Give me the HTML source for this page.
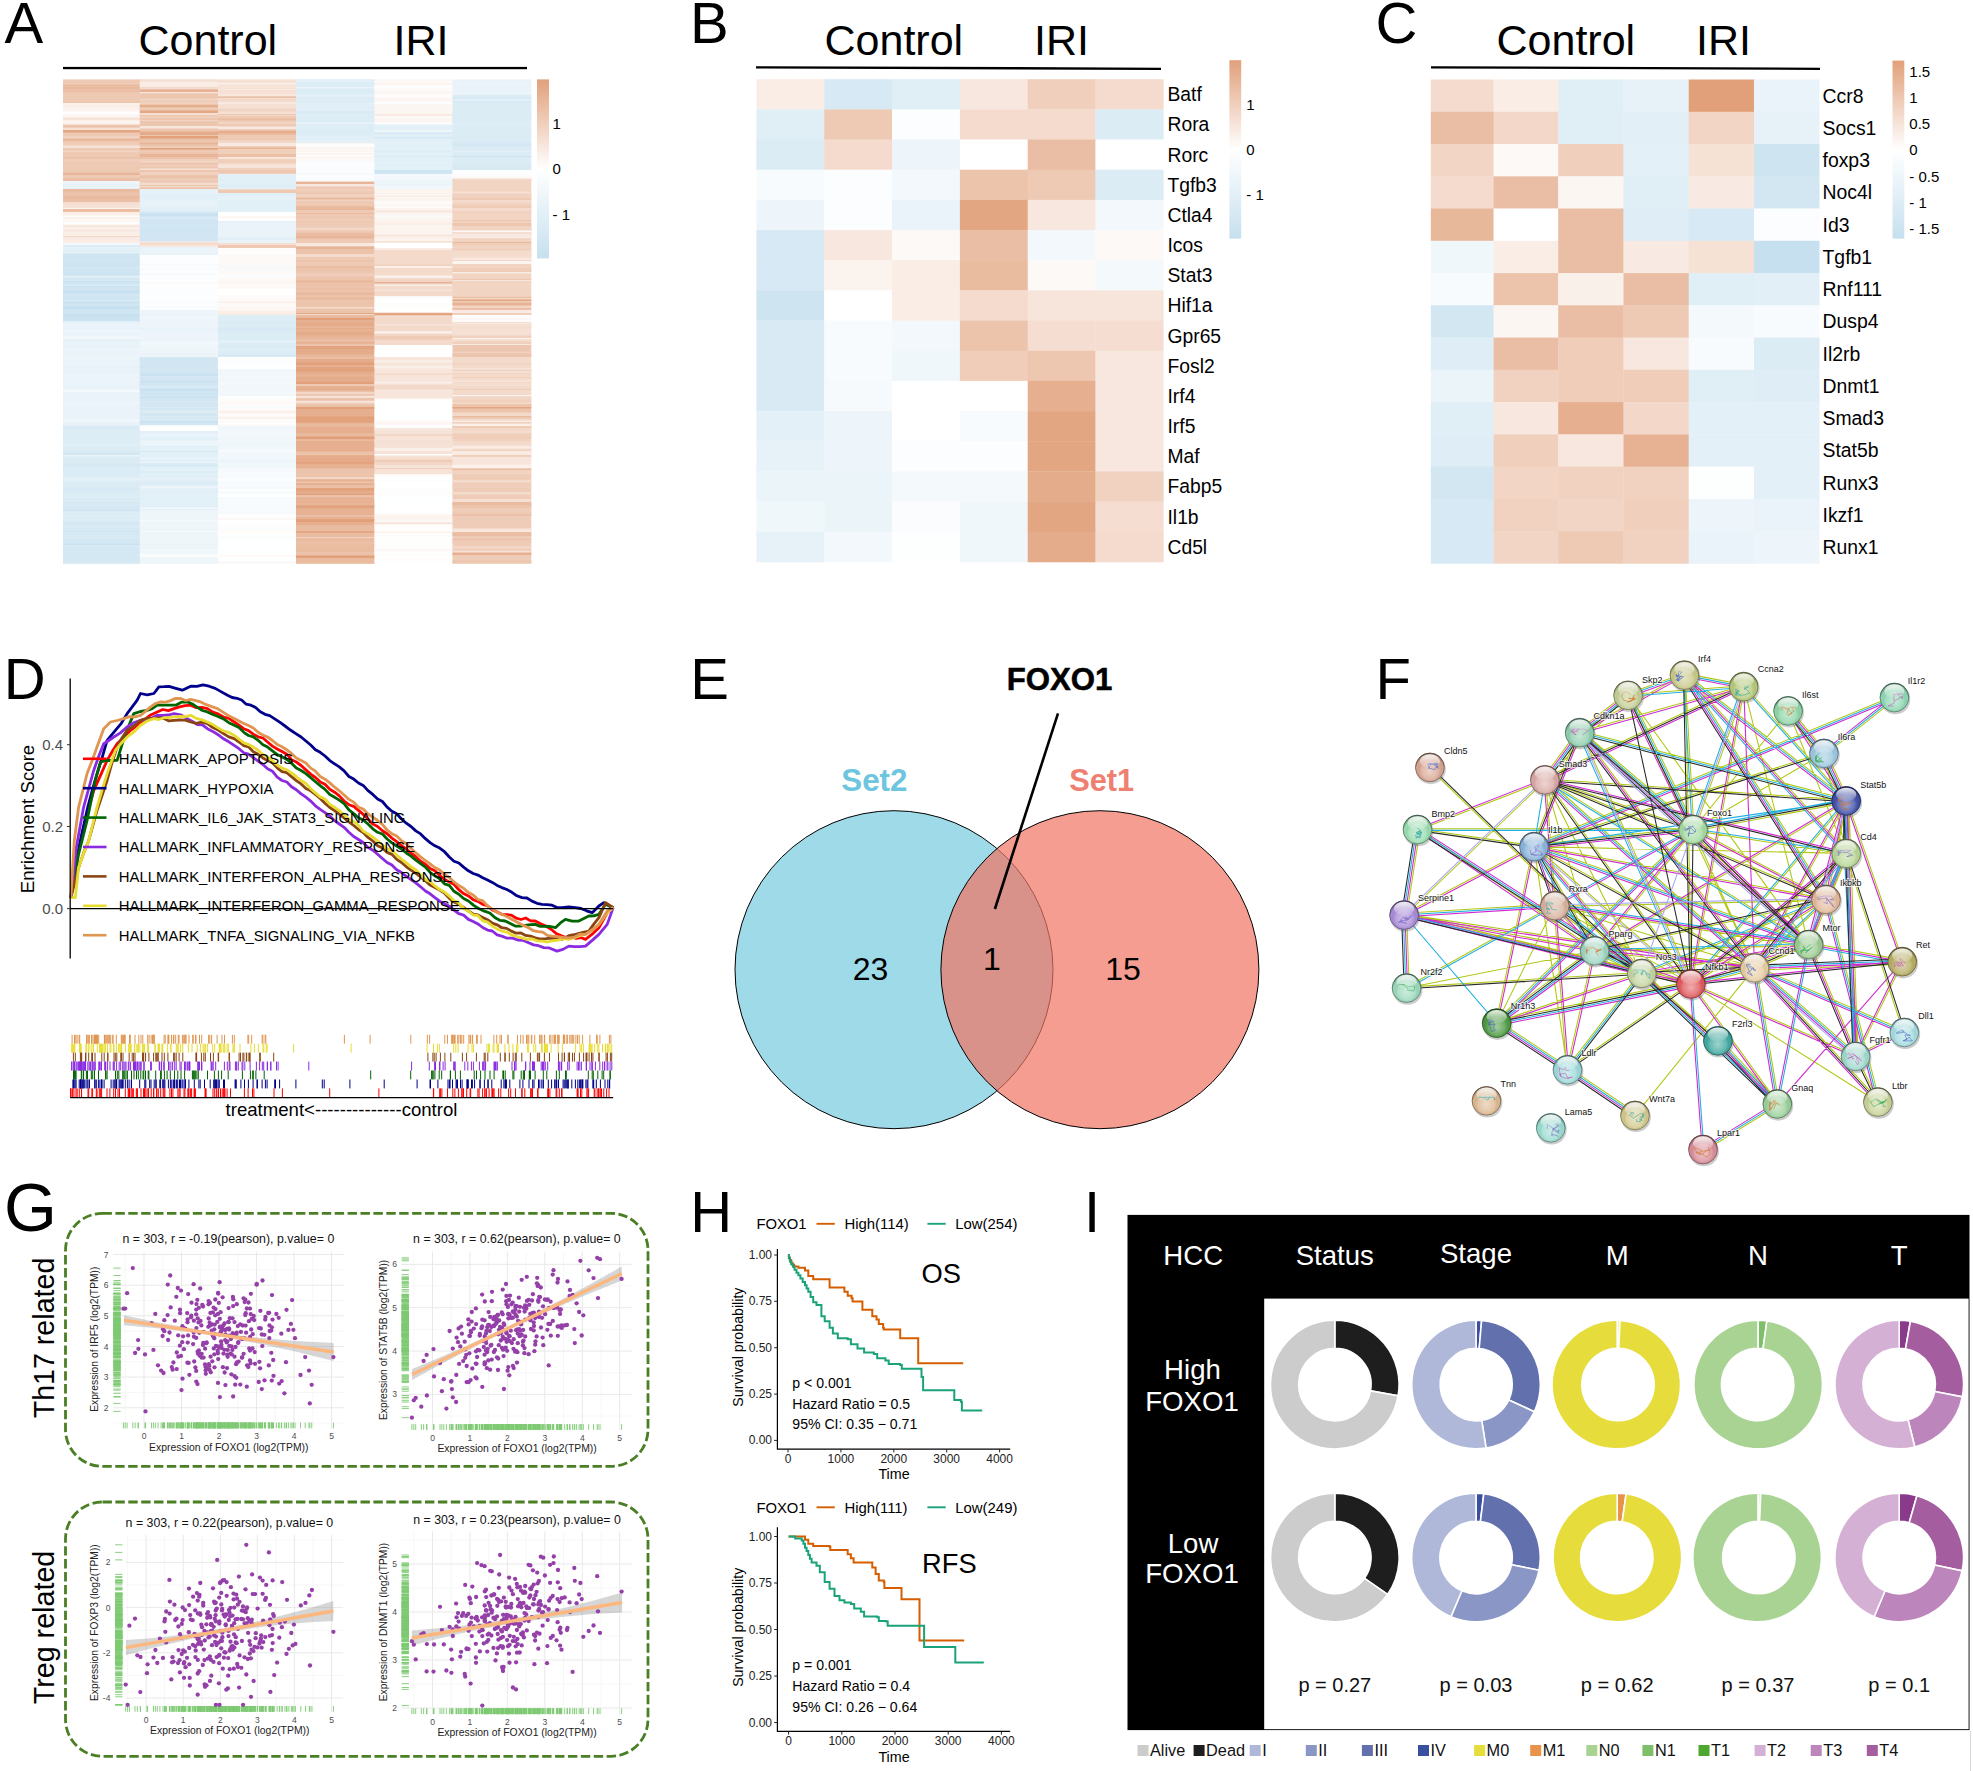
<!DOCTYPE html>
<html><head><meta charset="utf-8"><title>Figure</title>
<style>
html,body{margin:0;padding:0;background:#fff;}
body{width:1973px;height:1771px;overflow:hidden;}
svg{display:block;font-family:"Liberation Sans",Arial,sans-serif;}
</style></head><body>
<svg width="1973" height="1771" viewBox="0 0 1973 1771">
<defs>
<linearGradient id="cb" x1="0" y1="0" x2="0" y2="1"><stop offset="0" stop-color="#e1a07a"/><stop offset="0.5" stop-color="#fff"/><stop offset="1" stop-color="#c6e0ef"/></linearGradient>
<radialGradient id="gloss" cx="0.5" cy="0.62" r="0.6"><stop offset="0" stop-color="#fff" stop-opacity="0.5"/><stop offset="0.5" stop-color="#fff" stop-opacity="0.18"/><stop offset="0.78" stop-color="#000" stop-opacity="0"/><stop offset="1" stop-color="#000" stop-opacity="0.44"/></radialGradient>
<linearGradient id="hl" x1="0" y1="0" x2="0" y2="1"><stop offset="0" stop-color="#fff" stop-opacity="0.9"/><stop offset="1" stop-color="#fff" stop-opacity="0.08"/></linearGradient>
</defs>
<g id="letters">
<text x="4.4" y="43.3" font-size="58">A</text>
<text x="690.1" y="43.2" font-size="58">B</text>
<text x="1375.4" y="43.1" font-size="58">C</text>
<text x="3.7" y="699" font-size="58">D</text>
<text x="690.3" y="699" font-size="58">E</text>
<text x="1375.5" y="699" font-size="58">F</text>
<text x="3.9" y="1230.7" font-size="68">G</text>
<text x="690.2" y="1232.2" font-size="58">H</text>
<text x="1084.1" y="1232" font-size="58">I</text>
</g>
<g id="panelA">
<text x="138.5" y="55" font-size="43">Control</text>
<text x="393.5" y="55" font-size="43">IRI</text>
<rect x="63" y="66.9" width="464" height="2.3" fill="#000"/>
<g transform="translate(63 0)">
<rect y="79.4" width="77.1" height="23.9" fill="#eec9b3"/>
<rect y="84.9" width="77.1" height="1" fill="#e8b597"/>
<rect y="85.9" width="77.1" height="1" fill="#ebc1a8"/>
<rect y="86.9" width="77.1" height="2.5" fill="#e9b99d"/>
<rect y="89.4" width="77.1" height="3" fill="#ebbfa5"/>
<rect y="101.9" width="77.1" height="1.1" fill="#ecc3ab"/>
<rect y="103" width="77.1" height="21.8" fill="#faf1eb"/>
<rect y="105" width="77.1" height="1.5" fill="#f9ede5"/>
<rect y="109.5" width="77.1" height="2" fill="#fcf4f0"/>
<rect y="111.5" width="77.1" height="3" fill="#fffefe"/>
<rect y="114.5" width="77.1" height="3" fill="#fcf6f3"/>
<rect y="117.5" width="77.1" height="2.5" fill="#f6e4d9"/>
<rect y="121.5" width="77.1" height="1.5" fill="#fcf5f1"/>
<rect y="124.5" width="77.1" height="56.8" fill="#eec9b3"/>
<rect y="126.5" width="77.1" height="1" fill="#e8b597"/>
<rect y="127.5" width="77.1" height="2.5" fill="#f5e0d3"/>
<rect y="130" width="77.1" height="2.5" fill="#e3a682"/>
<rect y="136.5" width="77.1" height="2" fill="#f2d5c5"/>
<rect y="138.5" width="77.1" height="2.5" fill="#e9b89b"/>
<rect y="144.5" width="77.1" height="1" fill="#f0d1be"/>
<rect y="145.5" width="77.1" height="2.5" fill="#f6e2d6"/>
<rect y="150.5" width="77.1" height="2" fill="#f1d3c2"/>
<rect y="152.5" width="77.1" height="1" fill="#edc6b0"/>
<rect y="156.5" width="77.1" height="2.5" fill="#ecc4ac"/>
<rect y="159" width="77.1" height="2.5" fill="#f0cebb"/>
<rect y="172.5" width="77.1" height="1.5" fill="#e9b99e"/>
<rect y="174" width="77.1" height="1" fill="#e7b395"/>
<rect y="175" width="77.1" height="3" fill="#efcbb6"/>
<rect y="178" width="77.1" height="3" fill="#ebbfa5"/>
<rect y="181" width="77.1" height="8.3" fill="#e6f1f8"/>
<rect y="181" width="77.1" height="3" fill="#eef5fa"/>
<rect y="187" width="77.1" height="1" fill="#eef6fa"/>
<rect y="188" width="77.1" height="1" fill="#e4f0f7"/>
<rect y="189" width="77.1" height="23.3" fill="#ebc0a7"/>
<rect y="189" width="77.1" height="2.5" fill="#eabba0"/>
<rect y="192.5" width="77.1" height="2.5" fill="#ecc3ac"/>
<rect y="196" width="77.1" height="3" fill="#eabba0"/>
<rect y="202" width="77.1" height="3" fill="#f5ded1"/>
<rect y="205" width="77.1" height="3" fill="#f6e2d6"/>
<rect y="208" width="77.1" height="1" fill="#fbf2ed"/>
<rect y="209" width="77.1" height="2.5" fill="#eabda2"/>
<rect y="212" width="77.1" height="31.3" fill="#faeee7"/>
<rect y="212" width="77.1" height="1" fill="#faeee7"/>
<rect y="215.5" width="77.1" height="1.5" fill="#fefeff"/>
<rect y="218.5" width="77.1" height="3" fill="#fdf7f4"/>
<rect y="221.5" width="77.1" height="3" fill="#fbfdfe"/>
<rect y="225.5" width="77.1" height="2" fill="#f7e5db"/>
<rect y="227.5" width="77.1" height="1.5" fill="#fbf4ef"/>
<rect y="229" width="77.1" height="3" fill="#f8eae2"/>
<rect y="236" width="77.1" height="1.5" fill="#f3d9ca"/>
<rect y="237.5" width="77.1" height="2.5" fill="#f9ebe3"/>
<rect y="240" width="77.1" height="2" fill="#f9ede6"/>
<rect y="243" width="77.1" height="10.8" fill="#e2f0f7"/>
<rect y="243" width="77.1" height="2" fill="#f2f8fb"/>
<rect y="245" width="77.1" height="2" fill="#dcecf5"/>
<rect y="247" width="77.1" height="1" fill="#e4f0f7"/>
<rect y="253.5" width="77.1" height="67.8" fill="#cfe5f2"/>
<rect y="260" width="77.1" height="1.5" fill="#d3e7f3"/>
<rect y="261.5" width="77.1" height="1.5" fill="#cde4f1"/>
<rect y="263" width="77.1" height="2.5" fill="#cde4f1"/>
<rect y="268" width="77.1" height="1" fill="#d7e9f4"/>
<rect y="273.5" width="77.1" height="2" fill="#c9e2f0"/>
<rect y="275.5" width="77.1" height="3" fill="#deedf6"/>
<rect y="278.5" width="77.1" height="1" fill="#d0e6f2"/>
<rect y="279.5" width="77.1" height="1.5" fill="#d6e9f4"/>
<rect y="281" width="77.1" height="1.5" fill="#c7e1ef"/>
<rect y="282.5" width="77.1" height="1.5" fill="#cfe5f2"/>
<rect y="284" width="77.1" height="2" fill="#d6e9f4"/>
<rect y="286" width="77.1" height="1.5" fill="#cee4f1"/>
<rect y="290.5" width="77.1" height="3" fill="#c6e0ef"/>
<rect y="293.5" width="77.1" height="3" fill="#d3e7f3"/>
<rect y="299" width="77.1" height="3" fill="#d4e8f3"/>
<rect y="302" width="77.1" height="1.5" fill="#c6e0ef"/>
<rect y="303.5" width="77.1" height="3" fill="#d0e6f2"/>
<rect y="306.5" width="77.1" height="3" fill="#c6e0ef"/>
<rect y="309.5" width="77.1" height="3" fill="#d0e5f2"/>
<rect y="312.5" width="77.1" height="1.5" fill="#d0e5f2"/>
<rect y="314" width="77.1" height="3" fill="#c8e1f0"/>
<rect y="317" width="77.1" height="1" fill="#cae2f0"/>
<rect y="318" width="77.1" height="3" fill="#cbe2f0"/>
<rect y="321" width="77.1" height="104.3" fill="#eaf3f9"/>
<rect y="321" width="77.1" height="2" fill="#e4f0f7"/>
<rect y="328" width="77.1" height="1.5" fill="#e8f3f9"/>
<rect y="329.5" width="77.1" height="2.5" fill="#edf5fa"/>
<rect y="332" width="77.1" height="1" fill="#ebf4f9"/>
<rect y="336.5" width="77.1" height="2" fill="#f3f9fc"/>
<rect y="340" width="77.1" height="1" fill="#e1eff7"/>
<rect y="341" width="77.1" height="2.5" fill="#e8f2f9"/>
<rect y="346" width="77.1" height="2.5" fill="#e7f2f8"/>
<rect y="348.5" width="77.1" height="1.5" fill="#eef6fa"/>
<rect y="354.5" width="77.1" height="2.5" fill="#ecf5fa"/>
<rect y="357" width="77.1" height="3" fill="#ecf5fa"/>
<rect y="361.5" width="77.1" height="1" fill="#e9f3f9"/>
<rect y="362.5" width="77.1" height="2" fill="#eaf4f9"/>
<rect y="366" width="77.1" height="2" fill="#e6f1f8"/>
<rect y="371" width="77.1" height="3" fill="#e8f2f8"/>
<rect y="374" width="77.1" height="1.5" fill="#edf5fa"/>
<rect y="375.5" width="77.1" height="1" fill="#ecf5fa"/>
<rect y="376.5" width="77.1" height="2" fill="#eaf3f9"/>
<rect y="378.5" width="77.1" height="1.5" fill="#edf5fa"/>
<rect y="386.5" width="77.1" height="1" fill="#e5f1f8"/>
<rect y="389" width="77.1" height="1.5" fill="#eef6fa"/>
<rect y="390.5" width="77.1" height="2" fill="#f4f9fc"/>
<rect y="392.5" width="77.1" height="1.5" fill="#e7f2f8"/>
<rect y="396" width="77.1" height="2" fill="#eaf3f9"/>
<rect y="402" width="77.1" height="3" fill="#ecf5fa"/>
<rect y="415" width="77.1" height="1.5" fill="#e9f3f9"/>
<rect y="416.5" width="77.1" height="1.5" fill="#e9f3f9"/>
<rect y="418" width="77.1" height="1.5" fill="#ebf4f9"/>
<rect y="419.5" width="77.1" height="2" fill="#f1f7fb"/>
<rect y="425" width="77.1" height="95.3" fill="#dbecf5"/>
<rect y="425" width="77.1" height="2" fill="#deedf6"/>
<rect y="427" width="77.1" height="1.5" fill="#d7e9f4"/>
<rect y="430.5" width="77.1" height="3" fill="#ddecf5"/>
<rect y="434.5" width="77.1" height="2" fill="#ddedf6"/>
<rect y="436.5" width="77.1" height="1" fill="#e0eef6"/>
<rect y="440.5" width="77.1" height="1.5" fill="#e0eef6"/>
<rect y="442" width="77.1" height="1" fill="#dcecf5"/>
<rect y="443" width="77.1" height="3" fill="#e0eef6"/>
<rect y="446" width="77.1" height="1.5" fill="#dcecf5"/>
<rect y="452" width="77.1" height="3" fill="#d4e7f3"/>
<rect y="455" width="77.1" height="1.5" fill="#eaf4f9"/>
<rect y="463.5" width="77.1" height="3" fill="#d5e8f3"/>
<rect y="470.5" width="77.1" height="1.5" fill="#daebf5"/>
<rect y="472" width="77.1" height="1" fill="#daebf5"/>
<rect y="476.5" width="77.1" height="1.5" fill="#ddedf6"/>
<rect y="478" width="77.1" height="1" fill="#e7f2f8"/>
<rect y="479" width="77.1" height="3" fill="#e1eff7"/>
<rect y="482" width="77.1" height="3" fill="#dbebf5"/>
<rect y="487.5" width="77.1" height="1.5" fill="#d7e9f4"/>
<rect y="489" width="77.1" height="2.5" fill="#d7e9f4"/>
<rect y="496.5" width="77.1" height="1.5" fill="#e0eef6"/>
<rect y="498" width="77.1" height="1.5" fill="#d6e9f4"/>
<rect y="502.5" width="77.1" height="1" fill="#d4e8f3"/>
<rect y="503.5" width="77.1" height="2.5" fill="#d7e9f4"/>
<rect y="506" width="77.1" height="2.5" fill="#d4e7f3"/>
<rect y="508.5" width="77.1" height="3" fill="#d2e6f2"/>
<rect y="511.5" width="77.1" height="3" fill="#ddedf6"/>
<rect y="515.5" width="77.1" height="1" fill="#e1eff7"/>
<rect y="519" width="77.1" height="1" fill="#dfedf6"/>
<rect y="520" width="77.1" height="43.8" fill="#d4e8f3"/>
<rect y="520" width="77.1" height="1.5" fill="#dcecf5"/>
<rect y="525" width="77.1" height="3" fill="#d9ebf4"/>
<rect y="529" width="77.1" height="1.5" fill="#d8eaf4"/>
<rect y="530.5" width="77.1" height="1.5" fill="#d0e6f2"/>
<rect y="534.5" width="77.1" height="2.5" fill="#d8eaf4"/>
<rect y="537" width="77.1" height="2" fill="#d8eaf4"/>
<rect y="539" width="77.1" height="2" fill="#d4e8f3"/>
<rect y="543.5" width="77.1" height="2" fill="#c9e2f0"/>
<rect y="545.5" width="77.1" height="1" fill="#dcecf5"/>
<rect y="550.5" width="77.1" height="2" fill="#d4e8f3"/>
<rect y="554.5" width="77.1" height="1.5" fill="#d4e7f3"/>
<rect y="562.5" width="77.1" height="1" fill="#dbebf5"/>
</g>
<g transform="translate(139.8 0)">
<rect y="79.4" width="78.5" height="10.4" fill="#f5e0d3"/>
<rect y="79.4" width="78.5" height="1" fill="#f6e1d6"/>
<rect y="81.9" width="78.5" height="2" fill="#faefe9"/>
<rect y="83.9" width="78.5" height="3" fill="#f9ede5"/>
<rect y="86.9" width="78.5" height="2" fill="#f4ddd0"/>
<rect y="88.9" width="78.5" height="0.6" fill="#f5ded1"/>
<rect y="89.5" width="78.5" height="99.8" fill="#edc6af"/>
<rect y="89.5" width="78.5" height="2.5" fill="#e6b192"/>
<rect y="92" width="78.5" height="1.5" fill="#f7e7dd"/>
<rect y="93.5" width="78.5" height="3" fill="#edc6af"/>
<rect y="98.5" width="78.5" height="2.5" fill="#f1d3c1"/>
<rect y="101" width="78.5" height="1.5" fill="#eecab5"/>
<rect y="102.5" width="78.5" height="1" fill="#f4dcce"/>
<rect y="105" width="78.5" height="2.5" fill="#e5ae8d"/>
<rect y="107.5" width="78.5" height="3" fill="#eecab5"/>
<rect y="110.5" width="78.5" height="2.5" fill="#e4a885"/>
<rect y="113" width="78.5" height="2" fill="#f5dfd3"/>
<rect y="115" width="78.5" height="1.5" fill="#edc7b0"/>
<rect y="116.5" width="78.5" height="1.5" fill="#f1d2c0"/>
<rect y="120" width="78.5" height="1" fill="#f2d5c5"/>
<rect y="126" width="78.5" height="2.5" fill="#f7e6dc"/>
<rect y="131.5" width="78.5" height="2.5" fill="#e5ac8b"/>
<rect y="134" width="78.5" height="1" fill="#e4aa88"/>
<rect y="136" width="78.5" height="2.5" fill="#e1a07a"/>
<rect y="138.5" width="78.5" height="1" fill="#e8b598"/>
<rect y="142.5" width="78.5" height="2" fill="#e8b598"/>
<rect y="147" width="78.5" height="1" fill="#f1d3c2"/>
<rect y="148" width="78.5" height="1.5" fill="#e1a07a"/>
<rect y="151" width="78.5" height="1" fill="#efccb8"/>
<rect y="154" width="78.5" height="1.5" fill="#e7b395"/>
<rect y="155.5" width="78.5" height="1.5" fill="#e7b496"/>
<rect y="157" width="78.5" height="2" fill="#ecc3aa"/>
<rect y="159" width="78.5" height="1.5" fill="#f0cfbb"/>
<rect y="160.5" width="78.5" height="2" fill="#f2d7c7"/>
<rect y="165" width="78.5" height="1.5" fill="#f0d0bd"/>
<rect y="168.5" width="78.5" height="1.5" fill="#f6e1d5"/>
<rect y="172" width="78.5" height="3" fill="#f1d2c0"/>
<rect y="175" width="78.5" height="1.5" fill="#edc6af"/>
<rect y="176.5" width="78.5" height="1.5" fill="#ebbfa6"/>
<rect y="178" width="78.5" height="3" fill="#efccb7"/>
<rect y="182.5" width="78.5" height="2.5" fill="#f4dcce"/>
<rect y="186.5" width="78.5" height="1" fill="#f9ece4"/>
<rect y="187.5" width="78.5" height="1.5" fill="#ebc0a7"/>
<rect y="189" width="78.5" height="23.3" fill="#e6f1f8"/>
<rect y="189" width="78.5" height="2.5" fill="#e7f2f8"/>
<rect y="194.5" width="78.5" height="2" fill="#e2eff7"/>
<rect y="196.5" width="78.5" height="2.5" fill="#e1eff7"/>
<rect y="201.5" width="78.5" height="2" fill="#e8f2f8"/>
<rect y="203.5" width="78.5" height="1" fill="#e7f2f8"/>
<rect y="205.5" width="78.5" height="1.5" fill="#e7f2f8"/>
<rect y="207" width="78.5" height="2.5" fill="#e2eff7"/>
<rect y="209.5" width="78.5" height="2.5" fill="#e0eef6"/>
<rect y="212" width="78.5" height="29.8" fill="#d1e6f2"/>
<rect y="212" width="78.5" height="2" fill="#cfe5f2"/>
<rect y="214" width="78.5" height="2.5" fill="#c8e1f0"/>
<rect y="216.5" width="78.5" height="2.5" fill="#d6e9f4"/>
<rect y="219" width="78.5" height="1" fill="#d1e6f2"/>
<rect y="221.5" width="78.5" height="3" fill="#cfe5f1"/>
<rect y="224.5" width="78.5" height="2" fill="#d2e7f2"/>
<rect y="228.5" width="78.5" height="2" fill="#d0e6f2"/>
<rect y="233.5" width="78.5" height="1" fill="#d1e6f2"/>
<rect y="241.5" width="78.5" height="5.8" fill="#f7e5db"/>
<rect y="243" width="78.5" height="1.5" fill="#f2d6c6"/>
<rect y="247" width="78.5" height="8.3" fill="#eaf3f9"/>
<rect y="250.5" width="78.5" height="2.5" fill="#eaf4f9"/>
<rect y="253" width="78.5" height="1.5" fill="#e8f2f8"/>
<rect y="255" width="78.5" height="55.3" fill="#fbfdfe"/>
<rect y="255" width="78.5" height="1.5" fill="#fcfdfe"/>
<rect y="256.5" width="78.5" height="3" fill="#fcfdfe"/>
<rect y="264" width="78.5" height="1.5" fill="#f6fafd"/>
<rect y="265.5" width="78.5" height="2.5" fill="#fbfdfe"/>
<rect y="268" width="78.5" height="1.5" fill="#f8fbfd"/>
<rect y="273.5" width="78.5" height="2" fill="#f8fbfd"/>
<rect y="275.5" width="78.5" height="3" fill="#fbfdfe"/>
<rect y="278.5" width="78.5" height="2.5" fill="#fefeff"/>
<rect y="281" width="78.5" height="1.5" fill="#fafcfe"/>
<rect y="282.5" width="78.5" height="1.5" fill="#fdfaf7"/>
<rect y="284" width="78.5" height="2.5" fill="#fcfdfe"/>
<rect y="287.5" width="78.5" height="1" fill="#fffefe"/>
<rect y="292.5" width="78.5" height="2" fill="#fbfdfe"/>
<rect y="296" width="78.5" height="3" fill="#fdfefe"/>
<rect y="299" width="78.5" height="1" fill="#fefeff"/>
<rect y="302" width="78.5" height="1" fill="#f9fcfd"/>
<rect y="306" width="78.5" height="2" fill="#fafcfe"/>
<rect y="310" width="78.5" height="47.3" fill="#edf5fa"/>
<rect y="312.5" width="78.5" height="2" fill="#eff6fb"/>
<rect y="314.5" width="78.5" height="2" fill="#ecf5fa"/>
<rect y="316.5" width="78.5" height="2.5" fill="#f0f7fb"/>
<rect y="319" width="78.5" height="1" fill="#eff6fb"/>
<rect y="327.5" width="78.5" height="2" fill="#e7f2f8"/>
<rect y="329.5" width="78.5" height="1" fill="#e9f3f9"/>
<rect y="330.5" width="78.5" height="2.5" fill="#ebf4fa"/>
<rect y="341.5" width="78.5" height="2.5" fill="#f2f8fb"/>
<rect y="344" width="78.5" height="2" fill="#f0f7fb"/>
<rect y="346" width="78.5" height="1.5" fill="#f0f7fb"/>
<rect y="347.5" width="78.5" height="2.5" fill="#eef6fa"/>
<rect y="353" width="78.5" height="3" fill="#ecf4fa"/>
<rect y="357" width="78.5" height="68.9" fill="#d2e7f2"/>
<rect y="357" width="78.5" height="1" fill="#d5e8f3"/>
<rect y="358" width="78.5" height="1.5" fill="#d3e7f3"/>
<rect y="359.5" width="78.5" height="2.5" fill="#d1e6f2"/>
<rect y="365" width="78.5" height="2.5" fill="#d0e6f2"/>
<rect y="373.5" width="78.5" height="2.5" fill="#cae2f0"/>
<rect y="376" width="78.5" height="1.5" fill="#d6e8f3"/>
<rect y="377.5" width="78.5" height="2" fill="#d1e6f2"/>
<rect y="381" width="78.5" height="1.5" fill="#cae2f0"/>
<rect y="383.5" width="78.5" height="2" fill="#cfe5f1"/>
<rect y="385.5" width="78.5" height="3" fill="#d8eaf4"/>
<rect y="388.5" width="78.5" height="2.5" fill="#cae2f0"/>
<rect y="391" width="78.5" height="1.5" fill="#cfe5f2"/>
<rect y="392.5" width="78.5" height="2.5" fill="#cde4f1"/>
<rect y="396" width="78.5" height="2.5" fill="#cbe3f0"/>
<rect y="401" width="78.5" height="2.5" fill="#d5e8f3"/>
<rect y="403.5" width="78.5" height="1" fill="#d0e6f2"/>
<rect y="404.5" width="78.5" height="2.5" fill="#d4e7f3"/>
<rect y="407" width="78.5" height="1" fill="#dbecf5"/>
<rect y="410" width="78.5" height="3" fill="#dcecf5"/>
<rect y="416" width="78.5" height="1.5" fill="#daebf5"/>
<rect y="417.5" width="78.5" height="1" fill="#d6e9f3"/>
<rect y="418.5" width="78.5" height="2.5" fill="#d6e9f4"/>
<rect y="421" width="78.5" height="1.5" fill="#c9e2f0"/>
<rect y="424.5" width="78.5" height="1.1" fill="#d6e9f4"/>
<rect y="425.6" width="78.5" height="5.7" fill="#ffffff"/>
<rect y="425.6" width="78.5" height="2.5" fill="#fefeff"/>
<rect y="431" width="78.5" height="76.8" fill="#e2f0f7"/>
<rect y="431" width="78.5" height="2.5" fill="#e2eff7"/>
<rect y="433.5" width="78.5" height="2" fill="#e9f3f9"/>
<rect y="435.5" width="78.5" height="1.5" fill="#eaf3f9"/>
<rect y="440.5" width="78.5" height="2" fill="#eef6fa"/>
<rect y="442.5" width="78.5" height="3" fill="#ecf5fa"/>
<rect y="451" width="78.5" height="1" fill="#d7e9f4"/>
<rect y="457.5" width="78.5" height="2" fill="#eaf4f9"/>
<rect y="459.5" width="78.5" height="2" fill="#e2eff7"/>
<rect y="461.5" width="78.5" height="1" fill="#e7f2f8"/>
<rect y="462.5" width="78.5" height="1" fill="#ebf4f9"/>
<rect y="463.5" width="78.5" height="3" fill="#d8eaf4"/>
<rect y="471.5" width="78.5" height="1" fill="#d6e9f3"/>
<rect y="474.5" width="78.5" height="2.5" fill="#e1eff7"/>
<rect y="477" width="78.5" height="2.5" fill="#e4f0f7"/>
<rect y="479.5" width="78.5" height="1" fill="#e8f2f8"/>
<rect y="480.5" width="78.5" height="1" fill="#e3f0f7"/>
<rect y="481.5" width="78.5" height="3" fill="#dcecf5"/>
<rect y="484.5" width="78.5" height="1.5" fill="#dfedf6"/>
<rect y="486" width="78.5" height="2.5" fill="#edf5fa"/>
<rect y="488.5" width="78.5" height="1.5" fill="#e3f0f7"/>
<rect y="491" width="78.5" height="2" fill="#e2eff7"/>
<rect y="504.5" width="78.5" height="1.5" fill="#e3f0f7"/>
<rect y="506" width="78.5" height="1" fill="#ddecf5"/>
<rect y="507.5" width="78.5" height="56.3" fill="#eff6fa"/>
<rect y="507.5" width="78.5" height="1.5" fill="#eef6fa"/>
<rect y="509" width="78.5" height="1" fill="#e5f1f8"/>
<rect y="510" width="78.5" height="1.5" fill="#ecf4fa"/>
<rect y="520" width="78.5" height="1.5" fill="#f5f9fc"/>
<rect y="524" width="78.5" height="1" fill="#f1f8fb"/>
<rect y="527.5" width="78.5" height="2.5" fill="#edf5fa"/>
<rect y="530" width="78.5" height="1" fill="#edf5fa"/>
<rect y="531" width="78.5" height="1" fill="#f7fbfd"/>
<rect y="543.5" width="78.5" height="1.5" fill="#e9f3f9"/>
<rect y="545" width="78.5" height="3" fill="#eff6fa"/>
<rect y="549.5" width="78.5" height="2" fill="#f2f8fb"/>
<rect y="551.5" width="78.5" height="2.5" fill="#f0f7fb"/>
<rect y="554" width="78.5" height="3" fill="#f9fcfd"/>
<rect y="560" width="78.5" height="1" fill="#eef6fa"/>
</g>
<g transform="translate(218 0)">
<rect y="79.4" width="78.3" height="34.9" fill="#f5e0d3"/>
<rect y="82.9" width="78.3" height="1.5" fill="#fbf2ed"/>
<rect y="84.4" width="78.3" height="1" fill="#f7e6dc"/>
<rect y="86.9" width="78.3" height="1" fill="#f7e6db"/>
<rect y="88.9" width="78.3" height="1" fill="#f9ebe3"/>
<rect y="93.9" width="78.3" height="2.5" fill="#f7e7dd"/>
<rect y="96.4" width="78.3" height="1.5" fill="#eabda3"/>
<rect y="98.9" width="78.3" height="2" fill="#f3d8c9"/>
<rect y="100.9" width="78.3" height="1.5" fill="#f5dfd2"/>
<rect y="102.4" width="78.3" height="2" fill="#f8e9e1"/>
<rect y="104.4" width="78.3" height="2" fill="#f5e0d4"/>
<rect y="108.4" width="78.3" height="3" fill="#f1d4c3"/>
<rect y="114" width="78.3" height="29.3" fill="#eec9b3"/>
<rect y="114" width="78.3" height="1" fill="#edc6b0"/>
<rect y="115" width="78.3" height="1" fill="#f3d9ca"/>
<rect y="118.5" width="78.3" height="2" fill="#eabda2"/>
<rect y="120.5" width="78.3" height="1" fill="#eec9b3"/>
<rect y="121.5" width="78.3" height="2.5" fill="#f1d4c3"/>
<rect y="126.5" width="78.3" height="3" fill="#f8e9e0"/>
<rect y="129.5" width="78.3" height="1.5" fill="#ecc3ab"/>
<rect y="131" width="78.3" height="2.5" fill="#e5ae8d"/>
<rect y="133.5" width="78.3" height="1" fill="#e7b293"/>
<rect y="135.5" width="78.3" height="2" fill="#eecab5"/>
<rect y="140" width="78.3" height="1" fill="#f1d3c2"/>
<rect y="141" width="78.3" height="2" fill="#f2d7c7"/>
<rect y="143" width="78.3" height="31.3" fill="#f0cfbb"/>
<rect y="143" width="78.3" height="3" fill="#f8eae1"/>
<rect y="147.5" width="78.3" height="1.5" fill="#e8b597"/>
<rect y="154" width="78.3" height="3" fill="#ebc0a7"/>
<rect y="157" width="78.3" height="2" fill="#f7e5da"/>
<rect y="163.5" width="78.3" height="1.5" fill="#f5e0d4"/>
<rect y="165" width="78.3" height="3" fill="#f7e4da"/>
<rect y="170" width="78.3" height="3" fill="#edc7b1"/>
<rect y="174" width="78.3" height="15.3" fill="#e1eff6"/>
<rect y="174" width="78.3" height="2" fill="#e4f0f8"/>
<rect y="180" width="78.3" height="1" fill="#dfedf6"/>
<rect y="184.5" width="78.3" height="2.5" fill="#deedf6"/>
<rect y="188" width="78.3" height="1" fill="#e5f1f8"/>
<rect y="189" width="78.3" height="4.3" fill="#eec9b3"/>
<rect y="189" width="78.3" height="1" fill="#f2d6c6"/>
<rect y="193" width="78.3" height="19.3" fill="#e1eff6"/>
<rect y="196" width="78.3" height="2" fill="#e6f1f8"/>
<rect y="198" width="78.3" height="2.5" fill="#e7f2f8"/>
<rect y="212" width="78.3" height="9.3" fill="#ffffff"/>
<rect y="213.5" width="78.3" height="2.5" fill="#ffffff"/>
<rect y="216" width="78.3" height="2.5" fill="#fdf8f5"/>
<rect y="221" width="78.3" height="22.3" fill="#eaf3f9"/>
<rect y="221" width="78.3" height="1.5" fill="#e5f1f8"/>
<rect y="234.5" width="78.3" height="1" fill="#ecf5fa"/>
<rect y="235.5" width="78.3" height="3" fill="#e7f2f8"/>
<rect y="238.5" width="78.3" height="1.5" fill="#deedf6"/>
<rect y="241" width="78.3" height="2" fill="#e8f3f9"/>
<rect y="243" width="78.3" height="5.3" fill="#eec9b3"/>
<rect y="243" width="78.3" height="2" fill="#f5ded1"/>
<rect y="248" width="78.3" height="67.3" fill="#fdf9f7"/>
<rect y="248" width="78.3" height="2.5" fill="#fefdfc"/>
<rect y="251.5" width="78.3" height="3" fill="#fefeff"/>
<rect y="254.5" width="78.3" height="1" fill="#fefcfa"/>
<rect y="255.5" width="78.3" height="1" fill="#fdf7f4"/>
<rect y="261" width="78.3" height="1" fill="#fefaf9"/>
<rect y="265" width="78.3" height="2.5" fill="#f6fafc"/>
<rect y="267.5" width="78.3" height="1.5" fill="#fcf7f3"/>
<rect y="269" width="78.3" height="1.5" fill="#f9fcfd"/>
<rect y="273.5" width="78.3" height="1.5" fill="#fcfdfe"/>
<rect y="275" width="78.3" height="2.5" fill="#fbfdfe"/>
<rect y="281" width="78.3" height="2.5" fill="#fcf5f1"/>
<rect y="288.5" width="78.3" height="2.5" fill="#ffffff"/>
<rect y="291" width="78.3" height="2" fill="#fffefd"/>
<rect y="293" width="78.3" height="2.5" fill="#ffffff"/>
<rect y="296.5" width="78.3" height="2" fill="#fefcfb"/>
<rect y="301.5" width="78.3" height="1.5" fill="#fbf1eb"/>
<rect y="307.5" width="78.3" height="2" fill="#fcf5f1"/>
<rect y="309.5" width="78.3" height="1.5" fill="#fcf6f3"/>
<rect y="311" width="78.3" height="2.5" fill="#faeee8"/>
<rect y="313.5" width="78.3" height="1.5" fill="#f8eae1"/>
<rect y="315" width="78.3" height="42.3" fill="#ddedf6"/>
<rect y="322" width="78.3" height="2" fill="#dbebf5"/>
<rect y="327.5" width="78.3" height="2" fill="#d7e9f4"/>
<rect y="329.5" width="78.3" height="1.5" fill="#d7e9f4"/>
<rect y="332.5" width="78.3" height="1.5" fill="#dbebf5"/>
<rect y="337" width="78.3" height="1" fill="#d9ebf4"/>
<rect y="340.5" width="78.3" height="2.5" fill="#e5f1f8"/>
<rect y="345.5" width="78.3" height="1" fill="#d8eaf4"/>
<rect y="349.5" width="78.3" height="1" fill="#e3f0f7"/>
<rect y="353" width="78.3" height="1.5" fill="#dcecf5"/>
<rect y="354.5" width="78.3" height="2" fill="#d5e8f3"/>
<rect y="357" width="78.3" height="12.3" fill="#ffffff"/>
<rect y="357" width="78.3" height="2" fill="#fffefd"/>
<rect y="359" width="78.3" height="1.5" fill="#fbfdfe"/>
<rect y="360.5" width="78.3" height="2" fill="#fafcfe"/>
<rect y="362.5" width="78.3" height="2" fill="#fdfeff"/>
<rect y="364.5" width="78.3" height="2.5" fill="#fdfefe"/>
<rect y="367" width="78.3" height="2" fill="#ffffff"/>
<rect y="369" width="78.3" height="27.3" fill="#f1f7fb"/>
<rect y="370.5" width="78.3" height="1" fill="#eff6fb"/>
<rect y="375.5" width="78.3" height="1" fill="#f4f9fc"/>
<rect y="382.5" width="78.3" height="2.5" fill="#f4f9fc"/>
<rect y="391.5" width="78.3" height="3" fill="#f1f7fb"/>
<rect y="396" width="78.3" height="29.9" fill="#fefcfb"/>
<rect y="396" width="78.3" height="1" fill="#fefeff"/>
<rect y="397" width="78.3" height="1.5" fill="#fcfdfe"/>
<rect y="402.5" width="78.3" height="1" fill="#fcf6f2"/>
<rect y="406.5" width="78.3" height="2" fill="#f9fcfd"/>
<rect y="408.5" width="78.3" height="1" fill="#fafcfe"/>
<rect y="409.5" width="78.3" height="1" fill="#fdf7f4"/>
<rect y="410.5" width="78.3" height="3" fill="#fbf1ec"/>
<rect y="416.5" width="78.3" height="2.5" fill="#fbf2ed"/>
<rect y="423" width="78.3" height="1.5" fill="#ffffff"/>
<rect y="424.5" width="78.3" height="1.1" fill="#fdfaf8"/>
<rect y="425.6" width="78.3" height="45.7" fill="#f1f7fb"/>
<rect y="427.1" width="78.3" height="2.5" fill="#f0f7fb"/>
<rect y="429.6" width="78.3" height="1" fill="#eff6fa"/>
<rect y="430.6" width="78.3" height="1" fill="#f8fbfd"/>
<rect y="431.6" width="78.3" height="1.5" fill="#f2f8fb"/>
<rect y="438.1" width="78.3" height="1" fill="#ecf5fa"/>
<rect y="442.1" width="78.3" height="1" fill="#eff6fb"/>
<rect y="443.1" width="78.3" height="3" fill="#eef6fa"/>
<rect y="450.1" width="78.3" height="2" fill="#f7fbfd"/>
<rect y="459.1" width="78.3" height="1" fill="#edf5fa"/>
<rect y="460.1" width="78.3" height="2.5" fill="#ecf5fa"/>
<rect y="465.1" width="78.3" height="3" fill="#f0f7fb"/>
<rect y="468.1" width="78.3" height="2.9" fill="#f7fafd"/>
<rect y="471" width="78.3" height="43.3" fill="#f8fbfd"/>
<rect y="478" width="78.3" height="3" fill="#fbfdfe"/>
<rect y="487" width="78.3" height="2" fill="#f6fafc"/>
<rect y="489" width="78.3" height="2.5" fill="#fdfefe"/>
<rect y="491.5" width="78.3" height="1" fill="#f5fafc"/>
<rect y="494" width="78.3" height="3" fill="#feffff"/>
<rect y="500" width="78.3" height="2.5" fill="#f7fbfd"/>
<rect y="502.5" width="78.3" height="1" fill="#f4f9fc"/>
<rect y="503.5" width="78.3" height="1.5" fill="#f8fbfd"/>
<rect y="511.5" width="78.3" height="2.5" fill="#f5f9fc"/>
<rect y="514" width="78.3" height="49.8" fill="#feffff"/>
<rect y="514" width="78.3" height="1" fill="#fefeff"/>
<rect y="515" width="78.3" height="3" fill="#fefeff"/>
<rect y="518" width="78.3" height="2" fill="#fcf7f4"/>
<rect y="520" width="78.3" height="3" fill="#ffffff"/>
<rect y="523" width="78.3" height="2" fill="#fffefe"/>
<rect y="525" width="78.3" height="3" fill="#fffefe"/>
<rect y="528" width="78.3" height="1.5" fill="#f9fcfd"/>
<rect y="529.5" width="78.3" height="2.5" fill="#fefbf9"/>
<rect y="532" width="78.3" height="1" fill="#fefcfb"/>
<rect y="533" width="78.3" height="3" fill="#fefeff"/>
<rect y="536" width="78.3" height="1" fill="#fdfaf8"/>
<rect y="537" width="78.3" height="3" fill="#fcfdfe"/>
<rect y="540" width="78.3" height="2" fill="#fdfeff"/>
<rect y="549.5" width="78.3" height="2" fill="#ffffff"/>
<rect y="551.5" width="78.3" height="1" fill="#fffefe"/>
<rect y="554.5" width="78.3" height="2.5" fill="#fefaf8"/>
<rect y="561" width="78.3" height="1" fill="#f9fcfd"/>
<rect y="562" width="78.3" height="1.5" fill="#fcf7f4"/>
</g>
<g transform="translate(296 0)">
<rect y="79.4" width="78.8" height="63.9" fill="#ddedf6"/>
<rect y="79.4" width="78.8" height="3" fill="#e4f0f7"/>
<rect y="86.9" width="78.8" height="1.5" fill="#eaf3f9"/>
<rect y="90.4" width="78.8" height="1" fill="#d8eaf4"/>
<rect y="94.4" width="78.8" height="2.5" fill="#e3f0f7"/>
<rect y="102.9" width="78.8" height="1" fill="#e5f1f8"/>
<rect y="103.9" width="78.8" height="2" fill="#e2eff7"/>
<rect y="105.9" width="78.8" height="1.5" fill="#e2eff7"/>
<rect y="108.9" width="78.8" height="1" fill="#e6f1f8"/>
<rect y="111.4" width="78.8" height="1.5" fill="#d8eaf4"/>
<rect y="120.9" width="78.8" height="1" fill="#d7eaf4"/>
<rect y="121.9" width="78.8" height="2.5" fill="#e6f1f8"/>
<rect y="124.4" width="78.8" height="2" fill="#deedf6"/>
<rect y="128.9" width="78.8" height="1.5" fill="#dfeef6"/>
<rect y="130.4" width="78.8" height="1.5" fill="#daebf5"/>
<rect y="133.9" width="78.8" height="2" fill="#dfeef6"/>
<rect y="135.9" width="78.8" height="1.5" fill="#e2eff7"/>
<rect y="137.4" width="78.8" height="2.5" fill="#e1eff7"/>
<rect y="139.9" width="78.8" height="3" fill="#e4f0f7"/>
<rect y="143" width="78.8" height="18.3" fill="#fcf6f3"/>
<rect y="144.5" width="78.8" height="2" fill="#ffffff"/>
<rect y="152" width="78.8" height="1" fill="#fefbfa"/>
<rect y="153" width="78.8" height="2" fill="#fbf4ef"/>
<rect y="155" width="78.8" height="1" fill="#fdfeff"/>
<rect y="156" width="78.8" height="2.5" fill="#fcf7f4"/>
<rect y="158.5" width="78.8" height="2.5" fill="#fdf8f5"/>
<rect y="161" width="78.8" height="20.3" fill="#fafcfe"/>
<rect y="161" width="78.8" height="2.5" fill="#fafdfe"/>
<rect y="163.5" width="78.8" height="3" fill="#fcfdfe"/>
<rect y="173" width="78.8" height="1.5" fill="#f6fafd"/>
<rect y="179" width="78.8" height="1.5" fill="#f8fbfd"/>
<rect y="181" width="78.8" height="62.3" fill="#eec9b3"/>
<rect y="181" width="78.8" height="1" fill="#f4ddd0"/>
<rect y="182" width="78.8" height="2" fill="#e8b598"/>
<rect y="184" width="78.8" height="2.5" fill="#f7e7de"/>
<rect y="189" width="78.8" height="2.5" fill="#f0d0bd"/>
<rect y="194.5" width="78.8" height="2" fill="#f2d5c4"/>
<rect y="198.5" width="78.8" height="1" fill="#e1a07a"/>
<rect y="199.5" width="78.8" height="1" fill="#f4ddcf"/>
<rect y="206.5" width="78.8" height="1" fill="#e7b293"/>
<rect y="207.5" width="78.8" height="2.5" fill="#e8b79a"/>
<rect y="213" width="78.8" height="1.5" fill="#eabca2"/>
<rect y="214.5" width="78.8" height="1.5" fill="#efcbb7"/>
<rect y="216" width="78.8" height="2" fill="#edc7b1"/>
<rect y="219" width="78.8" height="1.5" fill="#efcdb9"/>
<rect y="223.5" width="78.8" height="2.5" fill="#efcbb7"/>
<rect y="227" width="78.8" height="1" fill="#f0d1be"/>
<rect y="228" width="78.8" height="2.5" fill="#f3d7c8"/>
<rect y="230.5" width="78.8" height="1" fill="#eec9b3"/>
<rect y="231.5" width="78.8" height="1.5" fill="#edc7b1"/>
<rect y="233" width="78.8" height="3" fill="#eabca1"/>
<rect y="236" width="78.8" height="2.5" fill="#e8b598"/>
<rect y="243" width="78.8" height="71.3" fill="#ecc3ab"/>
<rect y="243" width="78.8" height="3" fill="#f8e9e0"/>
<rect y="247" width="78.8" height="2" fill="#e7b496"/>
<rect y="254" width="78.8" height="3" fill="#f4dbcd"/>
<rect y="257" width="78.8" height="3" fill="#eecab5"/>
<rect y="262.5" width="78.8" height="1" fill="#f1d2c1"/>
<rect y="263.5" width="78.8" height="3" fill="#eec9b3"/>
<rect y="266.5" width="78.8" height="1" fill="#e9b89c"/>
<rect y="272.5" width="78.8" height="1" fill="#efccb8"/>
<rect y="273.5" width="78.8" height="3" fill="#f0cebb"/>
<rect y="280.5" width="78.8" height="2" fill="#e8b699"/>
<rect y="282.5" width="78.8" height="1" fill="#ecc2aa"/>
<rect y="283.5" width="78.8" height="2" fill="#ebc0a7"/>
<rect y="288.5" width="78.8" height="1" fill="#eabea3"/>
<rect y="292.5" width="78.8" height="2.5" fill="#e9b99d"/>
<rect y="297.5" width="78.8" height="2" fill="#e9b89c"/>
<rect y="307" width="78.8" height="1.5" fill="#f4ddcf"/>
<rect y="313" width="78.8" height="1" fill="#e3a784"/>
<rect y="314" width="78.8" height="76.9" fill="#e5ac8b"/>
<rect y="314" width="78.8" height="1.5" fill="#f3dacb"/>
<rect y="315.5" width="78.8" height="2.5" fill="#e9ba9e"/>
<rect y="318" width="78.8" height="2" fill="#e1a07a"/>
<rect y="320" width="78.8" height="2" fill="#e6b192"/>
<rect y="324" width="78.8" height="1.5" fill="#e4ab89"/>
<rect y="326.5" width="78.8" height="2" fill="#e8b79a"/>
<rect y="328.5" width="78.8" height="1" fill="#e2a47f"/>
<rect y="329.5" width="78.8" height="1" fill="#e9bba0"/>
<rect y="330.5" width="78.8" height="1.5" fill="#e6b192"/>
<rect y="335.5" width="78.8" height="3" fill="#e8b597"/>
<rect y="338.5" width="78.8" height="2.5" fill="#eabea4"/>
<rect y="341" width="78.8" height="1.5" fill="#ebbfa5"/>
<rect y="342.5" width="78.8" height="1" fill="#e4aa88"/>
<rect y="343.5" width="78.8" height="2.5" fill="#ecc4ad"/>
<rect y="346" width="78.8" height="3" fill="#e2a47f"/>
<rect y="354.5" width="78.8" height="2.5" fill="#e9b89c"/>
<rect y="357" width="78.8" height="2" fill="#ebbea4"/>
<rect y="362.5" width="78.8" height="2.5" fill="#e1a07a"/>
<rect y="365" width="78.8" height="2" fill="#e6b090"/>
<rect y="367" width="78.8" height="3" fill="#e2a37e"/>
<rect y="370" width="78.8" height="1.5" fill="#e1a07a"/>
<rect y="374.5" width="78.8" height="2" fill="#e7b496"/>
<rect y="379" width="78.8" height="1" fill="#e5ae8e"/>
<rect y="382" width="78.8" height="2" fill="#e1a07a"/>
<rect y="384" width="78.8" height="2.5" fill="#eec8b1"/>
<rect y="386.5" width="78.8" height="2.5" fill="#e6af8f"/>
<rect y="390" width="78.8" height="0.6" fill="#e3a682"/>
<rect y="390.6" width="78.8" height="16.7" fill="#ebc0a7"/>
<rect y="390.6" width="78.8" height="1.5" fill="#ebc0a7"/>
<rect y="392.1" width="78.8" height="2" fill="#f3d9ca"/>
<rect y="395.6" width="78.8" height="2.5" fill="#f6e2d6"/>
<rect y="400.6" width="78.8" height="3" fill="#f5e1d5"/>
<rect y="403.6" width="78.8" height="1.5" fill="#edc7b0"/>
<rect y="407" width="78.8" height="61.9" fill="#e6af8f"/>
<rect y="407" width="78.8" height="2" fill="#e1a07a"/>
<rect y="416.5" width="78.8" height="3" fill="#e1a07a"/>
<rect y="419.5" width="78.8" height="3" fill="#e1a17b"/>
<rect y="423.5" width="78.8" height="3" fill="#e9bb9f"/>
<rect y="433.5" width="78.8" height="3" fill="#e9bba0"/>
<rect y="436.5" width="78.8" height="3" fill="#e1a07a"/>
<rect y="439.5" width="78.8" height="1" fill="#edc6af"/>
<rect y="442.5" width="78.8" height="3" fill="#e6af8f"/>
<rect y="449.5" width="78.8" height="1.5" fill="#e6af8f"/>
<rect y="451" width="78.8" height="1" fill="#e9b89b"/>
<rect y="452" width="78.8" height="3" fill="#ecc2aa"/>
<rect y="456" width="78.8" height="3" fill="#e5ab8a"/>
<rect y="459" width="78.8" height="1.5" fill="#e4a886"/>
<rect y="461.5" width="78.8" height="3" fill="#e2a37e"/>
<rect y="464.5" width="78.8" height="1.5" fill="#e7b496"/>
<rect y="468.6" width="78.8" height="8.4" fill="#edc6af"/>
<rect y="468.6" width="78.8" height="1" fill="#ecc2aa"/>
<rect y="469.6" width="78.8" height="3" fill="#ecc4ad"/>
<rect y="475.6" width="78.8" height="1.1" fill="#eabca1"/>
<rect y="476.7" width="78.8" height="48.6" fill="#e7b293"/>
<rect y="476.7" width="78.8" height="2.5" fill="#f2d7c7"/>
<rect y="481.7" width="78.8" height="1" fill="#efceba"/>
<rect y="485.2" width="78.8" height="3" fill="#ebbfa6"/>
<rect y="488.2" width="78.8" height="2.5" fill="#e1a07a"/>
<rect y="490.7" width="78.8" height="1.5" fill="#e4aa87"/>
<rect y="493.2" width="78.8" height="2" fill="#e2a37e"/>
<rect y="495.2" width="78.8" height="2" fill="#ecc3ac"/>
<rect y="499.7" width="78.8" height="1" fill="#e8b699"/>
<rect y="502.7" width="78.8" height="2.5" fill="#e8b597"/>
<rect y="505.2" width="78.8" height="1" fill="#e3a581"/>
<rect y="506.2" width="78.8" height="1" fill="#e2a27d"/>
<rect y="507.2" width="78.8" height="1" fill="#e1a07a"/>
<rect y="515.2" width="78.8" height="1.5" fill="#ecc3ac"/>
<rect y="519.2" width="78.8" height="3" fill="#e1a07a"/>
<rect y="522.2" width="78.8" height="2.5" fill="#e6af8f"/>
<rect y="525" width="78.8" height="38.8" fill="#e9bb9f"/>
<rect y="531" width="78.8" height="2" fill="#e3a784"/>
<rect y="535.5" width="78.8" height="1.5" fill="#e9ba9f"/>
<rect y="537" width="78.8" height="1" fill="#f2d6c5"/>
<rect y="540" width="78.8" height="2.5" fill="#eabda2"/>
<rect y="542.5" width="78.8" height="1" fill="#edc5ad"/>
<rect y="544.5" width="78.8" height="1.5" fill="#ebbfa6"/>
<rect y="552" width="78.8" height="1.5" fill="#ecc2aa"/>
<rect y="553.5" width="78.8" height="2" fill="#ecc3aa"/>
<rect y="555.5" width="78.8" height="2.5" fill="#e1a07a"/>
</g>
<g transform="translate(374.5 0)">
<rect y="79.4" width="78.3" height="45.4" fill="#fcf6f3"/>
<rect y="80.9" width="78.3" height="1.5" fill="#fefcfb"/>
<rect y="85.4" width="78.3" height="2.5" fill="#fdfefe"/>
<rect y="87.9" width="78.3" height="2.5" fill="#fefbf9"/>
<rect y="90.4" width="78.3" height="1" fill="#fefbf9"/>
<rect y="94.4" width="78.3" height="1" fill="#fffefe"/>
<rect y="95.4" width="78.3" height="2" fill="#fefdfc"/>
<rect y="101.4" width="78.3" height="3" fill="#fcfdfe"/>
<rect y="113.4" width="78.3" height="1" fill="#faf1eb"/>
<rect y="114.4" width="78.3" height="2" fill="#f8e9e0"/>
<rect y="116.4" width="78.3" height="1" fill="#fffffe"/>
<rect y="122.9" width="78.3" height="1.6" fill="#fcfdfe"/>
<rect y="124.5" width="78.3" height="45.8" fill="#e2f0f7"/>
<rect y="130" width="78.3" height="2.5" fill="#eef6fa"/>
<rect y="132.5" width="78.3" height="1.5" fill="#d5e8f3"/>
<rect y="134" width="78.3" height="1.5" fill="#e2eff7"/>
<rect y="135.5" width="78.3" height="1.5" fill="#dfeef6"/>
<rect y="137" width="78.3" height="2" fill="#d9eaf4"/>
<rect y="140.5" width="78.3" height="1.5" fill="#e3f0f7"/>
<rect y="142" width="78.3" height="2" fill="#e4f1f8"/>
<rect y="144" width="78.3" height="1" fill="#e1eff7"/>
<rect y="149" width="78.3" height="1" fill="#e5f1f8"/>
<rect y="150" width="78.3" height="2.5" fill="#ddecf5"/>
<rect y="155.5" width="78.3" height="1.5" fill="#dcecf5"/>
<rect y="157" width="78.3" height="1" fill="#e3f0f7"/>
<rect y="165.5" width="78.3" height="1" fill="#dfeef6"/>
<rect y="166.5" width="78.3" height="1.5" fill="#e6f2f8"/>
<rect y="170" width="78.3" height="4.3" fill="#d1e6f2"/>
<rect y="170" width="78.3" height="1.5" fill="#cee4f1"/>
<rect y="174" width="78.3" height="15.3" fill="#f3f8fc"/>
<rect y="174" width="78.3" height="2" fill="#f3f9fc"/>
<rect y="176" width="78.3" height="2.5" fill="#f3f8fc"/>
<rect y="180.5" width="78.3" height="3" fill="#ecf5fa"/>
<rect y="183.5" width="78.3" height="2.5" fill="#eaf4f9"/>
<rect y="186" width="78.3" height="3" fill="#f1f8fb"/>
<rect y="189" width="78.3" height="54.3" fill="#fbf4ef"/>
<rect y="193" width="78.3" height="1" fill="#faf0ea"/>
<rect y="194" width="78.3" height="1" fill="#fdf8f5"/>
<rect y="195" width="78.3" height="2" fill="#faf0ea"/>
<rect y="200" width="78.3" height="1.5" fill="#fcf5f1"/>
<rect y="201.5" width="78.3" height="3" fill="#fefcfb"/>
<rect y="206" width="78.3" height="2" fill="#fefcfb"/>
<rect y="210" width="78.3" height="2" fill="#f8eae2"/>
<rect y="212" width="78.3" height="1" fill="#f9ece5"/>
<rect y="215.5" width="78.3" height="1.5" fill="#f9fcfd"/>
<rect y="221.5" width="78.3" height="1" fill="#fbf3ee"/>
<rect y="222.5" width="78.3" height="2.5" fill="#faeee7"/>
<rect y="226" width="78.3" height="2.5" fill="#fbf4ef"/>
<rect y="231.5" width="78.3" height="3" fill="#fcf4f0"/>
<rect y="234.5" width="78.3" height="2" fill="#f7e5da"/>
<rect y="236.5" width="78.3" height="2" fill="#faeee7"/>
<rect y="241" width="78.3" height="1.5" fill="#f6e1d5"/>
<rect y="243" width="78.3" height="5.3" fill="#ffffff"/>
<rect y="245" width="78.3" height="2.5" fill="#ffffff"/>
<rect y="248" width="78.3" height="48.8" fill="#f3dacb"/>
<rect y="248" width="78.3" height="2" fill="#f9ebe4"/>
<rect y="264.5" width="78.3" height="1.5" fill="#f1d1bf"/>
<rect y="266" width="78.3" height="2" fill="#faeee8"/>
<rect y="275.5" width="78.3" height="2.5" fill="#faf1eb"/>
<rect y="279.5" width="78.3" height="2.5" fill="#f1d4c3"/>
<rect y="282" width="78.3" height="1.5" fill="#e6b192"/>
<rect y="283.5" width="78.3" height="1" fill="#f0ceba"/>
<rect y="284.5" width="78.3" height="1.5" fill="#f9ede6"/>
<rect y="289.5" width="78.3" height="1.5" fill="#f6e2d7"/>
<rect y="296.5" width="78.3" height="16.5" fill="#ffffff"/>
<rect y="296.5" width="78.3" height="2.5" fill="#fbfdfe"/>
<rect y="303" width="78.3" height="3" fill="#fefdfc"/>
<rect y="309" width="78.3" height="1" fill="#fdfefe"/>
<rect y="310" width="78.3" height="2.7" fill="#fffffe"/>
<rect y="312.7" width="78.3" height="3" fill="#e6af8f"/>
<rect y="313.7" width="78.3" height="1.5" fill="#e1a07a"/>
<rect y="315.4" width="78.3" height="29.9" fill="#f3dacb"/>
<rect y="321.4" width="78.3" height="2" fill="#f3dacc"/>
<rect y="324.4" width="78.3" height="1" fill="#f8e8df"/>
<rect y="331.4" width="78.3" height="2" fill="#fcf5f1"/>
<rect y="333.4" width="78.3" height="1" fill="#f6e3d7"/>
<rect y="334.4" width="78.3" height="1.5" fill="#f1d4c3"/>
<rect y="335.9" width="78.3" height="3" fill="#eecab5"/>
<rect y="338.9" width="78.3" height="1" fill="#f0cfbc"/>
<rect y="345" width="78.3" height="12.3" fill="#ffffff"/>
<rect y="353" width="78.3" height="1" fill="#fefdfd"/>
<rect y="354" width="78.3" height="1.5" fill="#feffff"/>
<rect y="355.5" width="78.3" height="1" fill="#ffffff"/>
<rect y="357" width="78.3" height="42" fill="#f7e5db"/>
<rect y="360" width="78.3" height="3" fill="#f9ede6"/>
<rect y="363" width="78.3" height="2.5" fill="#f7e4d9"/>
<rect y="365.5" width="78.3" height="3" fill="#faf0ea"/>
<rect y="373.5" width="78.3" height="1.5" fill="#f3d9ca"/>
<rect y="381.5" width="78.3" height="2" fill="#faf0ea"/>
<rect y="383.5" width="78.3" height="1" fill="#f9ebe3"/>
<rect y="384.5" width="78.3" height="3" fill="#f3d9ca"/>
<rect y="387.5" width="78.3" height="2" fill="#f2d6c5"/>
<rect y="389.5" width="78.3" height="1" fill="#f7e7dd"/>
<rect y="398.7" width="78.3" height="29.6" fill="#ffffff"/>
<rect y="398.7" width="78.3" height="1" fill="#fdf9f6"/>
<rect y="411.7" width="78.3" height="1.5" fill="#fcfdfe"/>
<rect y="416.2" width="78.3" height="2.5" fill="#feffff"/>
<rect y="420.2" width="78.3" height="2" fill="#fefcfb"/>
<rect y="422.2" width="78.3" height="2.5" fill="#fcf5f2"/>
<rect y="428" width="78.3" height="46.3" fill="#f6e2d7"/>
<rect y="428" width="78.3" height="3" fill="#f7e6dc"/>
<rect y="434" width="78.3" height="2" fill="#f2d7c7"/>
<rect y="440.5" width="78.3" height="2.5" fill="#f5e0d4"/>
<rect y="448" width="78.3" height="3" fill="#fbf1eb"/>
<rect y="454" width="78.3" height="1.5" fill="#fffefe"/>
<rect y="457.5" width="78.3" height="1" fill="#f3d9ca"/>
<rect y="459.5" width="78.3" height="3" fill="#efccb7"/>
<rect y="462.5" width="78.3" height="3" fill="#f2d7c7"/>
<rect y="465.5" width="78.3" height="1.5" fill="#f7e5db"/>
<rect y="468" width="78.3" height="1" fill="#f0cfbb"/>
<rect y="474" width="78.3" height="40.3" fill="#ffffff"/>
<rect y="474" width="78.3" height="2" fill="#fdf9f7"/>
<rect y="479" width="78.3" height="3" fill="#fbfdfe"/>
<rect y="488.5" width="78.3" height="2" fill="#fcfdfe"/>
<rect y="490.5" width="78.3" height="2" fill="#fcfdfe"/>
<rect y="492.5" width="78.3" height="1" fill="#fdfaf8"/>
<rect y="493.5" width="78.3" height="1" fill="#fdf9f6"/>
<rect y="494.5" width="78.3" height="2" fill="#fbfdfe"/>
<rect y="496.5" width="78.3" height="3" fill="#feffff"/>
<rect y="514" width="78.3" height="11.3" fill="#fcf6f3"/>
<rect y="516.5" width="78.3" height="2" fill="#fbf2ec"/>
<rect y="520.5" width="78.3" height="2" fill="#fdf8f6"/>
<rect y="522.5" width="78.3" height="1.5" fill="#f5e0d4"/>
<rect y="524" width="78.3" height="1" fill="#fdf9f7"/>
<rect y="525" width="78.3" height="38.8" fill="#fffefd"/>
<rect y="525" width="78.3" height="1" fill="#fdfaf8"/>
<rect y="531.5" width="78.3" height="1.5" fill="#fbf1eb"/>
<rect y="535" width="78.3" height="1.5" fill="#fefaf9"/>
<rect y="538.5" width="78.3" height="2.5" fill="#fdfefe"/>
<rect y="543" width="78.3" height="1" fill="#fffefe"/>
<rect y="546.5" width="78.3" height="2" fill="#fefeff"/>
<rect y="548.5" width="78.3" height="3" fill="#fdf8f5"/>
<rect y="551.5" width="78.3" height="1.5" fill="#fdfefe"/>
<rect y="553" width="78.3" height="1" fill="#fdfefe"/>
<rect y="554" width="78.3" height="1.5" fill="#fefcfa"/>
<rect y="560" width="78.3" height="2.5" fill="#fdfefe"/>
</g>
<g transform="translate(452.5 0)">
<rect y="79.4" width="78.8" height="15.9" fill="#eaf3f9"/>
<rect y="80.9" width="78.8" height="2" fill="#e8f3f9"/>
<rect y="82.9" width="78.8" height="1" fill="#ecf5fa"/>
<rect y="86.9" width="78.8" height="2.5" fill="#e8f2f8"/>
<rect y="91.9" width="78.8" height="2" fill="#eaf4f9"/>
<rect y="95" width="78.8" height="75.3" fill="#dbecf5"/>
<rect y="97" width="78.8" height="1" fill="#d5e8f3"/>
<rect y="98" width="78.8" height="1" fill="#d9eaf4"/>
<rect y="99" width="78.8" height="2" fill="#e2eff7"/>
<rect y="101" width="78.8" height="1.5" fill="#d7e9f4"/>
<rect y="107.5" width="78.8" height="1" fill="#dfeef6"/>
<rect y="111.5" width="78.8" height="3" fill="#dcecf5"/>
<rect y="114.5" width="78.8" height="2" fill="#dcecf5"/>
<rect y="116.5" width="78.8" height="1" fill="#d8eaf4"/>
<rect y="117.5" width="78.8" height="2.5" fill="#dcecf5"/>
<rect y="123" width="78.8" height="3" fill="#dfeef6"/>
<rect y="128.5" width="78.8" height="1" fill="#dfeef6"/>
<rect y="134.5" width="78.8" height="1" fill="#ddecf5"/>
<rect y="135.5" width="78.8" height="3" fill="#dcecf5"/>
<rect y="141.5" width="78.8" height="2" fill="#d8eaf4"/>
<rect y="143.5" width="78.8" height="3" fill="#d4e7f3"/>
<rect y="148.5" width="78.8" height="2" fill="#d9eaf4"/>
<rect y="150.5" width="78.8" height="1.5" fill="#e1eff7"/>
<rect y="156" width="78.8" height="1" fill="#cae2f0"/>
<rect y="161.5" width="78.8" height="1" fill="#dbecf5"/>
<rect y="165.5" width="78.8" height="1" fill="#d3e7f3"/>
<rect y="166.5" width="78.8" height="2.5" fill="#d8eaf4"/>
<rect y="169" width="78.8" height="1" fill="#d6e9f3"/>
<rect y="170" width="78.8" height="8.3" fill="#ffffff"/>
<rect y="170" width="78.8" height="2.5" fill="#fdfeff"/>
<rect y="172.5" width="78.8" height="3" fill="#fbfdfe"/>
<rect y="175.5" width="78.8" height="2.5" fill="#fdf9f6"/>
<rect y="178" width="78.8" height="65.3" fill="#f2d4c3"/>
<rect y="178" width="78.8" height="1" fill="#f9ebe4"/>
<rect y="179" width="78.8" height="2" fill="#f3d8c9"/>
<rect y="191.5" width="78.8" height="2" fill="#f5e0d4"/>
<rect y="193.5" width="78.8" height="1.5" fill="#f1d2c1"/>
<rect y="195" width="78.8" height="3" fill="#f1d1bf"/>
<rect y="198" width="78.8" height="2" fill="#eecab5"/>
<rect y="200" width="78.8" height="1.5" fill="#f3dacb"/>
<rect y="201.5" width="78.8" height="1" fill="#f4ddd0"/>
<rect y="204.5" width="78.8" height="2.5" fill="#efcdb9"/>
<rect y="207" width="78.8" height="1" fill="#eecab4"/>
<rect y="208" width="78.8" height="3" fill="#f4dbcd"/>
<rect y="211" width="78.8" height="2.5" fill="#f1d2c0"/>
<rect y="220" width="78.8" height="1.5" fill="#edc7b0"/>
<rect y="223" width="78.8" height="3" fill="#edc6af"/>
<rect y="226" width="78.8" height="2.5" fill="#f2d5c4"/>
<rect y="228.5" width="78.8" height="2" fill="#f2d4c3"/>
<rect y="230.5" width="78.8" height="1.5" fill="#fdf9f6"/>
<rect y="232" width="78.8" height="2" fill="#f5dfd2"/>
<rect y="234" width="78.8" height="2.5" fill="#f8eae2"/>
<rect y="236.5" width="78.8" height="1.5" fill="#faeee7"/>
<rect y="242" width="78.8" height="1" fill="#e9b99d"/>
<rect y="243" width="78.8" height="72.3" fill="#f2d4c3"/>
<rect y="243" width="78.8" height="2.5" fill="#efcdb9"/>
<rect y="248.5" width="78.8" height="2" fill="#f0cfbc"/>
<rect y="250.5" width="78.8" height="3" fill="#f4dccd"/>
<rect y="253.5" width="78.8" height="3" fill="#f4dcce"/>
<rect y="256.5" width="78.8" height="1" fill="#f6e1d6"/>
<rect y="257.5" width="78.8" height="2.5" fill="#f8e8df"/>
<rect y="260" width="78.8" height="1" fill="#f3d7c8"/>
<rect y="261" width="78.8" height="3" fill="#fbf4ef"/>
<rect y="268" width="78.8" height="2.5" fill="#efcdb8"/>
<rect y="270.5" width="78.8" height="1.5" fill="#eec9b3"/>
<rect y="272" width="78.8" height="1.5" fill="#f9ebe3"/>
<rect y="279" width="78.8" height="1" fill="#edc7b1"/>
<rect y="280" width="78.8" height="1" fill="#f7e6dc"/>
<rect y="296.5" width="78.8" height="1.5" fill="#ecc3aa"/>
<rect y="299.5" width="78.8" height="2" fill="#e3a784"/>
<rect y="301.5" width="78.8" height="1" fill="#f2d5c5"/>
<rect y="302.5" width="78.8" height="3" fill="#e7b394"/>
<rect y="308" width="78.8" height="2" fill="#ebc0a6"/>
<rect y="310" width="78.8" height="3" fill="#f9ebe3"/>
<rect y="313" width="78.8" height="1.5" fill="#efceba"/>
<rect y="315" width="78.8" height="7.3" fill="#ffffff"/>
<rect y="317.5" width="78.8" height="3" fill="#fdf8f6"/>
<rect y="320.5" width="78.8" height="1.5" fill="#fdfaf8"/>
<rect y="322" width="78.8" height="23.3" fill="#f5e0d3"/>
<rect y="323" width="78.8" height="1" fill="#f8e9e0"/>
<rect y="326.5" width="78.8" height="2" fill="#f4ddcf"/>
<rect y="335.5" width="78.8" height="2.5" fill="#f0d0be"/>
<rect y="338" width="78.8" height="1.5" fill="#fbf3ee"/>
<rect y="339.5" width="78.8" height="1" fill="#f2d7c7"/>
<rect y="341.5" width="78.8" height="2.5" fill="#f0cfbc"/>
<rect y="344" width="78.8" height="1" fill="#f8e8df"/>
<rect y="345" width="78.8" height="12.3" fill="#edc6af"/>
<rect y="351.5" width="78.8" height="1.5" fill="#f1d2c0"/>
<rect y="354" width="78.8" height="2.5" fill="#ecc3ac"/>
<rect y="357" width="78.8" height="47.3" fill="#f3dacb"/>
<rect y="363" width="78.8" height="1.5" fill="#f1d3c2"/>
<rect y="368" width="78.8" height="1.5" fill="#f7e5db"/>
<rect y="369.5" width="78.8" height="2" fill="#f2d5c4"/>
<rect y="371.5" width="78.8" height="1.5" fill="#f6e2d6"/>
<rect y="373" width="78.8" height="1" fill="#f1d3c1"/>
<rect y="377" width="78.8" height="1.5" fill="#f0cfbc"/>
<rect y="378.5" width="78.8" height="1.5" fill="#f4ddd0"/>
<rect y="380" width="78.8" height="2" fill="#f6e1d5"/>
<rect y="383.5" width="78.8" height="3" fill="#f4ded0"/>
<rect y="389" width="78.8" height="1" fill="#efccb7"/>
<rect y="395" width="78.8" height="1" fill="#fcf4f0"/>
<rect y="397.5" width="78.8" height="2" fill="#f2d5c4"/>
<rect y="399.5" width="78.8" height="3" fill="#f0d0bd"/>
<rect y="404" width="78.8" height="8.3" fill="#ecc3ab"/>
<rect y="404" width="78.8" height="1" fill="#ecc3ab"/>
<rect y="405" width="78.8" height="2" fill="#ecc3ab"/>
<rect y="407" width="78.8" height="1.5" fill="#e3a582"/>
<rect y="410.5" width="78.8" height="1.5" fill="#ecc3ab"/>
<rect y="412" width="78.8" height="30" fill="#f1d1bf"/>
<rect y="413.5" width="78.8" height="2.5" fill="#f3dacb"/>
<rect y="416" width="78.8" height="1" fill="#eabda2"/>
<rect y="417" width="78.8" height="1.5" fill="#ecc3ab"/>
<rect y="418.5" width="78.8" height="2" fill="#f2d5c5"/>
<rect y="420.5" width="78.8" height="2" fill="#faeee7"/>
<rect y="422.5" width="78.8" height="1" fill="#eabea4"/>
<rect y="423.5" width="78.8" height="2.5" fill="#faefe9"/>
<rect y="426" width="78.8" height="2" fill="#efcbb6"/>
<rect y="428" width="78.8" height="2.5" fill="#f3d7c8"/>
<rect y="430.5" width="78.8" height="3" fill="#f4dcce"/>
<rect y="433.5" width="78.8" height="3" fill="#f0cfbc"/>
<rect y="436.5" width="78.8" height="2" fill="#efccb7"/>
<rect y="441.7" width="78.8" height="27.2" fill="#f7e5db"/>
<rect y="441.7" width="78.8" height="3" fill="#f3d9c9"/>
<rect y="444.7" width="78.8" height="1" fill="#f2d7c7"/>
<rect y="445.7" width="78.8" height="3" fill="#f9ebe3"/>
<rect y="448.7" width="78.8" height="1.5" fill="#f3d9ca"/>
<rect y="450.2" width="78.8" height="1" fill="#f0cfbc"/>
<rect y="451.2" width="78.8" height="3" fill="#f9ede5"/>
<rect y="455.2" width="78.8" height="1.5" fill="#eecab5"/>
<rect y="464.7" width="78.8" height="1" fill="#fcf4f0"/>
<rect y="465.7" width="78.8" height="2" fill="#fbf3ee"/>
<rect y="468.6" width="78.8" height="95.2" fill="#efccb7"/>
<rect y="468.6" width="78.8" height="1.5" fill="#e9ba9f"/>
<rect y="470.1" width="78.8" height="2.5" fill="#f1d3c1"/>
<rect y="472.6" width="78.8" height="1.5" fill="#f2d7c6"/>
<rect y="476.1" width="78.8" height="1.5" fill="#efccb8"/>
<rect y="480.1" width="78.8" height="2.5" fill="#f4dcce"/>
<rect y="483.6" width="78.8" height="1" fill="#f0cebb"/>
<rect y="485.6" width="78.8" height="2.5" fill="#f0cfbc"/>
<rect y="492.1" width="78.8" height="2.5" fill="#f4dcce"/>
<rect y="499.1" width="78.8" height="3" fill="#f5dfd2"/>
<rect y="502.1" width="78.8" height="3" fill="#e9bb9f"/>
<rect y="505.1" width="78.8" height="3" fill="#ecc3ab"/>
<rect y="510.1" width="78.8" height="1.5" fill="#f0cfbb"/>
<rect y="511.6" width="78.8" height="3" fill="#eecab5"/>
<rect y="514.6" width="78.8" height="1" fill="#e8b79a"/>
<rect y="528.6" width="78.8" height="1" fill="#faefe8"/>
<rect y="529.6" width="78.8" height="2.5" fill="#f7e7dd"/>
<rect y="532.1" width="78.8" height="3" fill="#eabea4"/>
<rect y="535.1" width="78.8" height="1" fill="#e9ba9e"/>
<rect y="538.6" width="78.8" height="2" fill="#ebc0a7"/>
<rect y="540.6" width="78.8" height="2.5" fill="#efccb8"/>
<rect y="546.1" width="78.8" height="1" fill="#f3d8c8"/>
<rect y="547.1" width="78.8" height="1.5" fill="#f3d8c9"/>
<rect y="550.6" width="78.8" height="2" fill="#f5dfd3"/>
<rect y="552.6" width="78.8" height="2.5" fill="#e6b192"/>
<rect y="560.1" width="78.8" height="3" fill="#edc6b0"/>
</g>
<rect x="537" y="79.4" width="12" height="179" fill="url(#cb)"/>
<text x="552.5" y="129" font-size="15">1</text>
<text x="552.5" y="174.3" font-size="15">0</text>
<text x="552.5" y="220" font-size="15">- 1</text>
</g>
<g id="panelB">
<text x="824.5" y="55" font-size="43">Control</text>
<text x="1034" y="55" font-size="43">IRI</text>
<path d="M756 67.3 L1161 68.8" stroke="#000" stroke-width="2.3" fill="none"/>
<rect x="756.4" y="79.2" width="68.1" height="30.5" fill="#f9ede6"/>
<rect x="824.2" y="79.2" width="68.1" height="30.5" fill="#d7e9f4"/>
<rect x="892" y="79.2" width="68.1" height="30.5" fill="#e0eef6"/>
<rect x="959.9" y="79.2" width="68.1" height="30.5" fill="#f8e7de"/>
<rect x="1027.7" y="79.2" width="68.1" height="30.5" fill="#f0d0bc"/>
<rect x="1095.5" y="79.2" width="68.1" height="30.5" fill="#f4dbcd"/>
<text x="1167.5" y="101.2" font-size="19.3">Batf</text>
<rect x="756.4" y="109.4" width="68.1" height="30.5" fill="#e0eef6"/>
<rect x="824.2" y="109.4" width="68.1" height="30.5" fill="#eecab4"/>
<rect x="892" y="109.4" width="68.1" height="30.5" fill="#fbfdfe"/>
<rect x="959.9" y="109.4" width="68.1" height="30.5" fill="#f4dbcd"/>
<rect x="1027.7" y="109.4" width="68.1" height="30.5" fill="#f4dbcd"/>
<rect x="1095.5" y="109.4" width="68.1" height="30.5" fill="#dbecf5"/>
<text x="1167.5" y="131.4" font-size="19.3">Rora</text>
<rect x="756.4" y="139.5" width="68.1" height="30.5" fill="#dbecf5"/>
<rect x="824.2" y="139.5" width="68.1" height="30.5" fill="#f4dbcd"/>
<rect x="892" y="139.5" width="68.1" height="30.5" fill="#edf5fa"/>
<rect x="959.9" y="139.5" width="68.1" height="30.5" fill="#ffffff"/>
<rect x="1027.7" y="139.5" width="68.1" height="30.5" fill="#eabea4"/>
<rect x="1095.5" y="139.5" width="68.1" height="30.5" fill="#ffffff"/>
<text x="1167.5" y="161.5" font-size="19.3">Rorc</text>
<rect x="756.4" y="169.7" width="68.1" height="30.5" fill="#f8fbfd"/>
<rect x="824.2" y="169.7" width="68.1" height="30.5" fill="#fbfdfe"/>
<rect x="892" y="169.7" width="68.1" height="30.5" fill="#f2f8fb"/>
<rect x="959.9" y="169.7" width="68.1" height="30.5" fill="#ecc4ac"/>
<rect x="1027.7" y="169.7" width="68.1" height="30.5" fill="#eecab4"/>
<rect x="1095.5" y="169.7" width="68.1" height="30.5" fill="#dbecf5"/>
<text x="1167.5" y="191.7" font-size="19.3">Tgfb3</text>
<rect x="756.4" y="199.9" width="68.1" height="30.5" fill="#edf5fa"/>
<rect x="824.2" y="199.9" width="68.1" height="30.5" fill="#fbfdfe"/>
<rect x="892" y="199.9" width="68.1" height="30.5" fill="#e9f3f9"/>
<rect x="959.9" y="199.9" width="68.1" height="30.5" fill="#e3a682"/>
<rect x="1027.7" y="199.9" width="68.1" height="30.5" fill="#f8e7de"/>
<rect x="1095.5" y="199.9" width="68.1" height="30.5" fill="#f2f8fb"/>
<text x="1167.5" y="221.9" font-size="19.3">Ctla4</text>
<rect x="756.4" y="230.1" width="68.1" height="30.5" fill="#d7e9f4"/>
<rect x="824.2" y="230.1" width="68.1" height="30.5" fill="#f8e7de"/>
<rect x="892" y="230.1" width="68.1" height="30.5" fill="#fdf9f7"/>
<rect x="959.9" y="230.1" width="68.1" height="30.5" fill="#eabea4"/>
<rect x="1027.7" y="230.1" width="68.1" height="30.5" fill="#f2f8fb"/>
<rect x="1095.5" y="230.1" width="68.1" height="30.5" fill="#fdf9f7"/>
<text x="1167.5" y="252" font-size="19.3">Icos</text>
<rect x="756.4" y="260.2" width="68.1" height="30.5" fill="#d7e9f4"/>
<rect x="824.2" y="260.2" width="68.1" height="30.5" fill="#fbf3ee"/>
<rect x="892" y="260.2" width="68.1" height="30.5" fill="#f9ede6"/>
<rect x="959.9" y="260.2" width="68.1" height="30.5" fill="#e9bb9f"/>
<rect x="1027.7" y="260.2" width="68.1" height="30.5" fill="#fdf9f7"/>
<rect x="1095.5" y="260.2" width="68.1" height="30.5" fill="#f4f9fc"/>
<text x="1167.5" y="282.2" font-size="19.3">Stat3</text>
<rect x="756.4" y="290.4" width="68.1" height="30.5" fill="#cee4f1"/>
<rect x="824.2" y="290.4" width="68.1" height="30.5" fill="#ffffff"/>
<rect x="892" y="290.4" width="68.1" height="30.5" fill="#f9ede6"/>
<rect x="959.9" y="290.4" width="68.1" height="30.5" fill="#f4dbcd"/>
<rect x="1027.7" y="290.4" width="68.1" height="30.5" fill="#f7e4da"/>
<rect x="1095.5" y="290.4" width="68.1" height="30.5" fill="#f7e4da"/>
<text x="1167.5" y="312.4" font-size="19.3">Hif1a</text>
<rect x="756.4" y="320.6" width="68.1" height="30.5" fill="#d9eaf4"/>
<rect x="824.2" y="320.6" width="68.1" height="30.5" fill="#f8fbfd"/>
<rect x="892" y="320.6" width="68.1" height="30.5" fill="#f2f8fb"/>
<rect x="959.9" y="320.6" width="68.1" height="30.5" fill="#ecc4ac"/>
<rect x="1027.7" y="320.6" width="68.1" height="30.5" fill="#f5ded1"/>
<rect x="1095.5" y="320.6" width="68.1" height="30.5" fill="#f5ded1"/>
<text x="1167.5" y="342.5" font-size="19.3">Gpr65</text>
<rect x="756.4" y="350.7" width="68.1" height="30.5" fill="#d9eaf4"/>
<rect x="824.2" y="350.7" width="68.1" height="30.5" fill="#f8fbfd"/>
<rect x="892" y="350.7" width="68.1" height="30.5" fill="#eff7fb"/>
<rect x="959.9" y="350.7" width="68.1" height="30.5" fill="#efcdb8"/>
<rect x="1027.7" y="350.7" width="68.1" height="30.5" fill="#edc7b0"/>
<rect x="1095.5" y="350.7" width="68.1" height="30.5" fill="#f8e7de"/>
<text x="1167.5" y="372.7" font-size="19.3">Fosl2</text>
<rect x="756.4" y="380.9" width="68.1" height="30.5" fill="#d9eaf4"/>
<rect x="824.2" y="380.9" width="68.1" height="30.5" fill="#f6fafc"/>
<rect x="892" y="380.9" width="68.1" height="30.5" fill="#ffffff"/>
<rect x="959.9" y="380.9" width="68.1" height="30.5" fill="#ffffff"/>
<rect x="1027.7" y="380.9" width="68.1" height="30.5" fill="#e6af8f"/>
<rect x="1095.5" y="380.9" width="68.1" height="30.5" fill="#f8e7de"/>
<text x="1167.5" y="402.9" font-size="19.3">Irf4</text>
<rect x="756.4" y="411.1" width="68.1" height="30.5" fill="#e4f0f8"/>
<rect x="824.2" y="411.1" width="68.1" height="30.5" fill="#edf5fa"/>
<rect x="892" y="411.1" width="68.1" height="30.5" fill="#ffffff"/>
<rect x="959.9" y="411.1" width="68.1" height="30.5" fill="#f8fbfd"/>
<rect x="1027.7" y="411.1" width="68.1" height="30.5" fill="#e3a682"/>
<rect x="1095.5" y="411.1" width="68.1" height="30.5" fill="#f8e7de"/>
<text x="1167.5" y="433.1" font-size="19.3">Irf5</text>
<rect x="756.4" y="441.2" width="68.1" height="30.5" fill="#e7f2f8"/>
<rect x="824.2" y="441.2" width="68.1" height="30.5" fill="#edf5fa"/>
<rect x="892" y="441.2" width="68.1" height="30.5" fill="#fbfdfe"/>
<rect x="959.9" y="441.2" width="68.1" height="30.5" fill="#fbfdfe"/>
<rect x="1027.7" y="441.2" width="68.1" height="30.5" fill="#e3a682"/>
<rect x="1095.5" y="441.2" width="68.1" height="30.5" fill="#f8e7de"/>
<text x="1167.5" y="463.2" font-size="19.3">Maf</text>
<rect x="756.4" y="471.4" width="68.1" height="30.5" fill="#ebf4f9"/>
<rect x="824.2" y="471.4" width="68.1" height="30.5" fill="#ebf4f9"/>
<rect x="892" y="471.4" width="68.1" height="30.5" fill="#f4f9fc"/>
<rect x="959.9" y="471.4" width="68.1" height="30.5" fill="#f4f9fc"/>
<rect x="1027.7" y="471.4" width="68.1" height="30.5" fill="#e5ac8b"/>
<rect x="1095.5" y="471.4" width="68.1" height="30.5" fill="#f1d2c1"/>
<text x="1167.5" y="493.4" font-size="19.3">Fabp5</text>
<rect x="756.4" y="501.6" width="68.1" height="30.5" fill="#eff7fb"/>
<rect x="824.2" y="501.6" width="68.1" height="30.5" fill="#ebf4f9"/>
<rect x="892" y="501.6" width="68.1" height="30.5" fill="#fafcfe"/>
<rect x="959.9" y="501.6" width="68.1" height="30.5" fill="#eff7fb"/>
<rect x="1027.7" y="501.6" width="68.1" height="30.5" fill="#e3a682"/>
<rect x="1095.5" y="501.6" width="68.1" height="30.5" fill="#f5ded1"/>
<text x="1167.5" y="523.6" font-size="19.3">Il1b</text>
<rect x="756.4" y="531.8" width="68.1" height="30.5" fill="#e7f2f8"/>
<rect x="824.2" y="531.8" width="68.1" height="30.5" fill="#f2f8fb"/>
<rect x="892" y="531.8" width="68.1" height="30.5" fill="#fdfefe"/>
<rect x="959.9" y="531.8" width="68.1" height="30.5" fill="#eff7fb"/>
<rect x="1027.7" y="531.8" width="68.1" height="30.5" fill="#e5ac8b"/>
<rect x="1095.5" y="531.8" width="68.1" height="30.5" fill="#f4dbcd"/>
<text x="1167.5" y="553.7" font-size="19.3">Cd5l</text>
<rect x="1229.4" y="60.2" width="11.8" height="178.4" fill="url(#cb)"/>
<text x="1246.3" y="110.2" font-size="15">1</text>
<text x="1246.3" y="155.4" font-size="15">0</text>
<text x="1246.3" y="200.4" font-size="15">- 1</text>
</g>
<g id="panelC">
<text x="1496.5" y="55" font-size="43">Control</text>
<text x="1696" y="55" font-size="43">IRI</text>
<path d="M1431 67.3 L1820 68.8" stroke="#000" stroke-width="2.3" fill="none"/>
<rect x="1430.8" y="79.5" width="63.1" height="32.6" fill="#f4dbcd"/>
<rect x="1493.6" y="79.5" width="64.9" height="32.6" fill="#f9ede6"/>
<rect x="1558.2" y="79.5" width="65.6" height="32.6" fill="#e0eef6"/>
<rect x="1623.5" y="79.5" width="65.5" height="32.6" fill="#e7f2f8"/>
<rect x="1688.7" y="79.5" width="65.6" height="32.6" fill="#e1a07a"/>
<rect x="1754" y="79.5" width="65.5" height="32.6" fill="#e9f3f9"/>
<text x="1822.5" y="102.5" font-size="19.4">Ccr8</text>
<rect x="1430.8" y="111.8" width="63.1" height="32.6" fill="#eabea4"/>
<rect x="1493.6" y="111.8" width="64.9" height="32.6" fill="#f3d8c9"/>
<rect x="1558.2" y="111.8" width="65.6" height="32.6" fill="#e0eef6"/>
<rect x="1623.5" y="111.8" width="65.5" height="32.6" fill="#e2eff7"/>
<rect x="1688.7" y="111.8" width="65.6" height="32.6" fill="#f2d5c5"/>
<rect x="1754" y="111.8" width="65.5" height="32.6" fill="#e7f2f8"/>
<text x="1822.5" y="134.8" font-size="19.4">Socs1</text>
<rect x="1430.8" y="144" width="63.1" height="32.6" fill="#f2d5c5"/>
<rect x="1493.6" y="144" width="64.9" height="32.6" fill="#fdf9f7"/>
<rect x="1558.2" y="144" width="65.6" height="32.6" fill="#f0d0bc"/>
<rect x="1623.5" y="144" width="65.5" height="32.6" fill="#e4f0f8"/>
<rect x="1688.7" y="144" width="65.6" height="32.6" fill="#f6e1d5"/>
<rect x="1754" y="144" width="65.5" height="32.6" fill="#cee4f1"/>
<text x="1822.5" y="167" font-size="19.4">foxp3</text>
<rect x="1430.8" y="176.3" width="63.1" height="32.6" fill="#f4dbcd"/>
<rect x="1493.6" y="176.3" width="64.9" height="32.6" fill="#eabea4"/>
<rect x="1558.2" y="176.3" width="65.6" height="32.6" fill="#fcf6f3"/>
<rect x="1623.5" y="176.3" width="65.5" height="32.6" fill="#e0eef6"/>
<rect x="1688.7" y="176.3" width="65.6" height="32.6" fill="#f8eae2"/>
<rect x="1754" y="176.3" width="65.5" height="32.6" fill="#d2e7f2"/>
<text x="1822.5" y="199.3" font-size="19.4">Noc4l</text>
<rect x="1430.8" y="208.5" width="63.1" height="32.6" fill="#e8b89b"/>
<rect x="1493.6" y="208.5" width="64.9" height="32.6" fill="#ffffff"/>
<rect x="1558.2" y="208.5" width="65.6" height="32.6" fill="#eabea4"/>
<rect x="1623.5" y="208.5" width="65.5" height="32.6" fill="#deedf6"/>
<rect x="1688.7" y="208.5" width="65.6" height="32.6" fill="#d7e9f4"/>
<rect x="1754" y="208.5" width="65.5" height="32.6" fill="#fbfdfe"/>
<text x="1822.5" y="231.6" font-size="19.4">Id3</text>
<rect x="1430.8" y="240.8" width="63.1" height="32.6" fill="#eff7fb"/>
<rect x="1493.6" y="240.8" width="64.9" height="32.6" fill="#f9ede6"/>
<rect x="1558.2" y="240.8" width="65.6" height="32.6" fill="#eabea4"/>
<rect x="1623.5" y="240.8" width="65.5" height="32.6" fill="#f8eae2"/>
<rect x="1688.7" y="240.8" width="65.6" height="32.6" fill="#f6e1d5"/>
<rect x="1754" y="240.8" width="65.5" height="32.6" fill="#c6e0ef"/>
<text x="1822.5" y="263.8" font-size="19.4">Tgfb1</text>
<rect x="1430.8" y="273.1" width="63.1" height="32.6" fill="#f8fbfd"/>
<rect x="1493.6" y="273.1" width="64.9" height="32.6" fill="#ecc4ac"/>
<rect x="1558.2" y="273.1" width="65.6" height="32.6" fill="#faf0ea"/>
<rect x="1623.5" y="273.1" width="65.5" height="32.6" fill="#eabea4"/>
<rect x="1688.7" y="273.1" width="65.6" height="32.6" fill="#e0eef6"/>
<rect x="1754" y="273.1" width="65.5" height="32.6" fill="#e2eff7"/>
<text x="1822.5" y="296.1" font-size="19.4">Rnf111</text>
<rect x="1430.8" y="305.3" width="63.1" height="32.6" fill="#d2e7f2"/>
<rect x="1493.6" y="305.3" width="64.9" height="32.6" fill="#fcf6f3"/>
<rect x="1558.2" y="305.3" width="65.6" height="32.6" fill="#eabea4"/>
<rect x="1623.5" y="305.3" width="65.5" height="32.6" fill="#eecab4"/>
<rect x="1688.7" y="305.3" width="65.6" height="32.6" fill="#f4f9fc"/>
<rect x="1754" y="305.3" width="65.5" height="32.6" fill="#f8fbfd"/>
<text x="1822.5" y="328.3" font-size="19.4">Dusp4</text>
<rect x="1430.8" y="337.6" width="63.1" height="32.6" fill="#deedf6"/>
<rect x="1493.6" y="337.6" width="64.9" height="32.6" fill="#eabea4"/>
<rect x="1558.2" y="337.6" width="65.6" height="32.6" fill="#efcdb8"/>
<rect x="1623.5" y="337.6" width="65.5" height="32.6" fill="#f8e7de"/>
<rect x="1688.7" y="337.6" width="65.6" height="32.6" fill="#f8fbfd"/>
<rect x="1754" y="337.6" width="65.5" height="32.6" fill="#dbecf5"/>
<text x="1822.5" y="360.6" font-size="19.4">Il2rb</text>
<rect x="1430.8" y="369.8" width="63.1" height="32.6" fill="#ebf4f9"/>
<rect x="1493.6" y="369.8" width="64.9" height="32.6" fill="#f1d2c1"/>
<rect x="1558.2" y="369.8" width="65.6" height="32.6" fill="#efcdb8"/>
<rect x="1623.5" y="369.8" width="65.5" height="32.6" fill="#efcdb8"/>
<rect x="1688.7" y="369.8" width="65.6" height="32.6" fill="#e0eef6"/>
<rect x="1754" y="369.8" width="65.5" height="32.6" fill="#deedf6"/>
<text x="1822.5" y="392.9" font-size="19.4">Dnmt1</text>
<rect x="1430.8" y="402.1" width="63.1" height="32.6" fill="#e0eef6"/>
<rect x="1493.6" y="402.1" width="64.9" height="32.6" fill="#f8e7de"/>
<rect x="1558.2" y="402.1" width="65.6" height="32.6" fill="#e6af8f"/>
<rect x="1623.5" y="402.1" width="65.5" height="32.6" fill="#f3d8c9"/>
<rect x="1688.7" y="402.1" width="65.6" height="32.6" fill="#e4f0f8"/>
<rect x="1754" y="402.1" width="65.5" height="32.6" fill="#e4f0f8"/>
<text x="1822.5" y="425.1" font-size="19.4">Smad3</text>
<rect x="1430.8" y="434.4" width="63.1" height="32.6" fill="#deedf6"/>
<rect x="1493.6" y="434.4" width="64.9" height="32.6" fill="#f0d0bc"/>
<rect x="1558.2" y="434.4" width="65.6" height="32.6" fill="#f8e7de"/>
<rect x="1623.5" y="434.4" width="65.5" height="32.6" fill="#e7b293"/>
<rect x="1688.7" y="434.4" width="65.6" height="32.6" fill="#e4f0f8"/>
<rect x="1754" y="434.4" width="65.5" height="32.6" fill="#e4f0f8"/>
<text x="1822.5" y="457.4" font-size="19.4">Stat5b</text>
<rect x="1430.8" y="466.6" width="63.1" height="32.6" fill="#d2e7f2"/>
<rect x="1493.6" y="466.6" width="64.9" height="32.6" fill="#f2d5c5"/>
<rect x="1558.2" y="466.6" width="65.6" height="32.6" fill="#f1d2c1"/>
<rect x="1623.5" y="466.6" width="65.5" height="32.6" fill="#f1d2c1"/>
<rect x="1688.7" y="466.6" width="65.6" height="32.6" fill="#fdfefe"/>
<rect x="1754" y="466.6" width="65.5" height="32.6" fill="#e4f0f8"/>
<text x="1822.5" y="489.6" font-size="19.4">Runx3</text>
<rect x="1430.8" y="498.9" width="63.1" height="32.6" fill="#d7e9f4"/>
<rect x="1493.6" y="498.9" width="64.9" height="32.6" fill="#f1d2c1"/>
<rect x="1558.2" y="498.9" width="65.6" height="32.6" fill="#f2d5c5"/>
<rect x="1623.5" y="498.9" width="65.5" height="32.6" fill="#f0d0bc"/>
<rect x="1688.7" y="498.9" width="65.6" height="32.6" fill="#edf5fa"/>
<rect x="1754" y="498.9" width="65.5" height="32.6" fill="#e9f3f9"/>
<text x="1822.5" y="521.9" font-size="19.4">Ikzf1</text>
<rect x="1430.8" y="531.1" width="63.1" height="32.6" fill="#d7e9f4"/>
<rect x="1493.6" y="531.1" width="64.9" height="32.6" fill="#f2d5c5"/>
<rect x="1558.2" y="531.1" width="65.6" height="32.6" fill="#eecab4"/>
<rect x="1623.5" y="531.1" width="65.5" height="32.6" fill="#f1d2c1"/>
<rect x="1688.7" y="531.1" width="65.6" height="32.6" fill="#e9f3f9"/>
<rect x="1754" y="531.1" width="65.5" height="32.6" fill="#edf5fa"/>
<text x="1822.5" y="554.2" font-size="19.4">Runx1</text>
<rect x="1892.5" y="60.6" width="11.8" height="178" fill="url(#cb)"/>
<text x="1909.3" y="76.9" font-size="15">1.5</text>
<text x="1909.3" y="103.4" font-size="15">1</text>
<text x="1909.3" y="129.4" font-size="15">0.5</text>
<text x="1909.3" y="155.4" font-size="15">0</text>
<text x="1909.3" y="181.9" font-size="15">- 0.5</text>
<text x="1909.3" y="208.2" font-size="15">- 1</text>
<text x="1909.3" y="234.4" font-size="15">- 1.5</text>
</g>
<g id="panelD">
<path d="M70.9 897.6 L76.9 857.5 L83.6 827.4 L88.7 808.3 L93.7 790.6 L100.4 775.6 L107.1 760.4 L112.1 751.7 L117.1 743.7 L123.8 737.3 L130.5 730.3 L137.2 725.6 L143.9 720.3 L150.6 714.9 L157.2 711.9 L162.8 709.5 L168.4 710.6 L174 708.6 L179.5 706.8 L185.1 705.6 L190.7 705.2 L196.3 707.7 L201.9 707.4 L207.4 708.6 L212.8 712.2 L218.1 713.9 L223.5 717 L228.8 718.4 L234.2 722 L239 725.2 L243.8 728.7 L248.5 730.6 L253.3 734.1 L258.1 736.8 L262.9 738 L267.6 742 L272.4 746.1 L277.2 749 L282 751.5 L286.8 754.2 L291.5 759.7 L296.3 762 L301.1 765.5 L305.9 769.9 L310.7 774.1 L315.4 777.5 L320.2 781.9 L325 784.3 L329.8 789.2 L334.6 792.2 L339.3 795.9 L344.1 801 L348.9 804.7 L353.7 806.4 L358.5 810.4 L363.2 814.4 L368 819 L372.8 824.1 L377.6 826.5 L382.4 830.8 L387.1 833.8 L391.9 838.1 L396.7 841.6 L401.5 845.8 L406.3 848.9 L411 853.2 L415.8 856.7 L420.6 861.2 L425.4 864.2 L430.1 868.4 L434.9 870.8 L439.7 875.4 L444.5 879.3 L449.3 882.1 L454 884.3 L458.8 889.7 L463.6 893.6 L468.4 895.9 L473.2 899.7 L477.9 901.4 L482.7 904.4 L487.5 905.7 L492.3 910 L497.1 911.9 L501.8 914.3 L506.6 914.7 L511.4 915.1 L516.2 918.2 L521 919.5 L525.7 918 L530.5 920.9 L535.3 921 L540.6 923.8 L546 926.1 L551.4 929.5 L556.7 933.8 L562.1 936.1 L566.7 937.8 L571.4 936.2 L576.1 938.4 L580.8 937.5 L585.5 939.4 L592.2 934.2 L598.9 927.7 L607.2 912.7 L613.2 907.6" stroke="#ff0000" stroke-width="2.8" fill="none" stroke-linejoin="round"/>
<path d="M70.9 897.6 L75.3 867.5 L80.3 840.7 L87.7 807.3 L92.3 790.1 L97 773.8 L102 758.1 L107.1 740.4 L115.4 730.3 L121.3 723.3 L127.1 713.6 L132.2 706.9 L137.2 700.2 L140.5 693.5 L147.2 694.9 L153.9 693.5 L158.9 686.8 L163.9 686.7 L169 686.4 L174 687.8 L182.3 690.2 L190.7 686.2 L196.8 686.4 L203 684.9 L209.1 686.2 L215.2 688.4 L221.4 691.9 L227.5 695.2 L232.2 697.5 L236.9 698.3 L241.6 700 L246.2 704.2 L250.9 705.2 L255.6 707.4 L260.3 711.8 L265 714.3 L269.7 715.6 L274.3 718.6 L279.7 722.2 L285 726 L290.4 730 L295.8 733.6 L301.1 737 L305.9 741 L310.7 745 L315.4 749.7 L320.2 752.3 L325 756 L329.8 760.6 L334.6 763.8 L339.3 766.9 L344.1 770.9 L348.9 776.5 L353.7 779.1 L358.5 783 L363.2 785.4 L368 790.6 L372.8 794.4 L377.6 798.9 L382.4 801.5 L387.1 807.1 L391.9 811.2 L396.7 813.7 L401.5 819 L406.3 823.2 L411 826.5 L415.8 830.9 L420.6 833.9 L425.4 838.7 L430.1 842.6 L434.9 845.8 L439.7 848.1 L444.5 851.7 L449.3 857 L454 861.3 L458.8 863 L463.6 867.1 L468.4 870.8 L473.2 873.5 L477.9 875.1 L482.7 877.7 L487.5 879.9 L492.3 882.4 L497.1 885.4 L501.8 887.6 L506.9 889.5 L511.9 892.3 L516.9 895.8 L521.9 897.6 L526.9 898 L532 901.1 L537 903.3 L542 904.3 L547 904.6 L552 905.2 L557 907.6 L562.1 907.6 L568.8 906.9 L575.4 907.6 L581 908.5 L586.6 910.8 L592.2 912.7 L598.9 906 L603.9 902.6 L608.6 905.7 L613.2 907.6" stroke="#00008b" stroke-width="2.8" fill="none" stroke-linejoin="round"/>
<path d="M70.9 897.6 L78.6 854.1 L87 820.7 L95.3 780.5 L100.4 762.1 L105.9 760.5 L111.5 760.5 L117.1 760.4 L125.5 733.7 L133.8 713.6 L140.5 711.5 L147.2 710.3 L152.2 708.6 L157.2 705.2 L163.9 705.1 L170.6 705.2 L176.2 705.1 L181.8 702.1 L187.4 701.9 L192.4 704 L197.4 707.3 L202.4 710.5 L207.4 711.9 L212.8 714.5 L218.1 716.5 L223.5 718.9 L228.8 722.7 L234.2 725.3 L239 727.6 L243.8 732.3 L248.5 735.5 L253.3 736.9 L258.1 740.3 L262.9 744.8 L267.6 747.1 L272.4 750.8 L277.2 754.6 L282 756.7 L286.8 759.5 L291.5 763.2 L296.3 767.9 L301.1 770.5 L305.9 773.7 L310.7 777.7 L315.4 781.7 L320.2 785.6 L325 789.4 L329.8 794.5 L334.6 797.2 L339.3 800.1 L344.1 803.6 L348.9 809.9 L353.7 813.6 L358.5 817.7 L363.2 820 L368 824 L372.8 828.8 L377.6 832.3 L382.4 834 L387.1 839 L391.9 842.8 L396.7 846 L401.5 849.1 L406.3 853 L411 856.2 L415.8 860.1 L420.6 863.7 L425.4 867.1 L430.1 872.3 L434.9 875.9 L439.7 878.9 L444.5 883.9 L449.3 885.4 L454 891.3 L458.8 894.3 L463.6 898.5 L468.4 901 L473.7 905.4 L479.1 908.7 L484.4 911.2 L489.8 913 L495.1 917.7 L500.2 920.4 L505.2 921 L510.2 923.4 L515.2 926 L520.2 926.1 L525.3 925.3 L530.3 924.6 L535.3 924.4 L540.3 926.4 L545.3 926.3 L550.4 926.5 L555.4 927.7 L560.4 922.9 L565.4 919.4 L572.1 921.2 L578.8 921 L583.8 918.5 L588.8 916 L593.8 915.9 L598.9 914.3 L605.6 904.3 L613.2 907.6" stroke="#006400" stroke-width="2.8" fill="none" stroke-linejoin="round"/>
<path d="M70.9 897.6 L76.3 847.4 L83.6 807.3 L88.7 788.5 L93.7 770.5 L98.7 756.3 L103.7 743.7 L108.7 740.5 L113.8 737 L120.4 732.9 L127.1 727 L133.8 722.8 L140.5 720.3 L146.1 719.4 L151.7 718.1 L157.2 715.3 L162.8 715.5 L168.4 715 L174 713.6 L180.7 714.8 L187.4 718.6 L192.4 721.5 L197.4 724.6 L202.4 724.9 L207.4 728.7 L212.8 731.4 L218.1 734.7 L223.5 738.8 L228.8 741.8 L234.2 745.4 L239 748.7 L243.8 752.8 L248.5 754.1 L253.3 757.6 L258.1 761.1 L262.9 764.5 L267.6 768.8 L272.4 771.2 L277.2 777.2 L282 780.5 L286.8 782 L291.5 786.7 L296.3 789.8 L301.1 793.9 L305.9 797.2 L310.7 801.1 L315.4 805.8 L320.2 809.4 L325 812.6 L329.8 816 L334.6 820.7 L339.3 824 L344.1 827.3 L348.9 832.3 L353.7 836.5 L358.5 839.5 L363.2 842.5 L368 847.4 L372.8 850.2 L377.6 854.3 L382.4 858.5 L387.1 862.5 L391.9 865 L396.7 869.7 L401.5 872.5 L406.3 876.4 L411 879.5 L415.8 882.9 L420.6 886.8 L425.4 891 L430.1 893.8 L434.9 897.6 L439.7 901.2 L444.5 903.7 L449.3 906.2 L454 910.1 L458.8 913.7 L463.6 915.1 L468.4 919.4 L473.2 921.5 L477.9 923.9 L482.7 927.5 L487.5 930.1 L492.3 931 L497.1 934.8 L501.8 936.1 L507.2 938.2 L512.5 938.1 L517.9 940 L523.3 940.4 L528.6 942.8 L533.6 944.9 L538.6 945.7 L543.7 947.6 L548.7 947.8 L557 951.1 L562.9 949.4 L568.8 946.1 L574.3 946.6 L579.9 946.7 L585.5 946.1 L592.2 940.4 L598.9 934.4 L607.2 924.4 L613.2 907.6" stroke="#8a2be2" stroke-width="2.8" fill="none" stroke-linejoin="round"/>
<path d="M70.9 897.6 L78.6 867.5 L83.6 853.1 L88.7 840.7 L97 810.6 L102 795.8 L107.1 780.5 L112.1 762.5 L117.1 747.1 L122.1 737.7 L127.1 730.3 L133.8 726 L140.5 720.3 L147.2 718.2 L153.9 718.6 L158.9 717.9 L163.9 718.4 L169 720.9 L174 720.3 L179.5 720 L185.1 720.1 L190.7 722 L196.3 723.4 L201.9 722.1 L207.4 723.6 L212.8 727.6 L218.1 730.1 L223.5 733.6 L228.8 736.9 L234.2 738.7 L239 742 L243.8 745.7 L248.5 746.8 L253.3 751.8 L258.1 754.3 L262.9 757.9 L267.6 760.4 L272.4 762.7 L277.2 767.8 L282 771.6 L286.8 772.6 L291.5 776.7 L296.3 780.7 L301.1 783.9 L305.9 788.6 L310.7 790.8 L315.4 794.5 L320.2 798.5 L325 803.3 L329.8 807.5 L334.6 810.6 L339.3 814.2 L344.1 817.9 L348.9 821.8 L353.7 825.5 L358.5 829.5 L363.2 832.5 L368 837.4 L372.8 841 L377.6 845.8 L382.4 847.9 L387.1 852.4 L391.9 854.4 L396.7 859.4 L401.5 862.5 L406.3 866.8 L411 870.1 L415.8 873.3 L420.6 876.8 L425.4 880.8 L430.1 885.1 L434.9 887.6 L439.7 890 L444.5 893.2 L449.3 898.3 L454 902.1 L458.8 904.3 L463.6 907.5 L468.4 911 L473.2 914 L477.9 914.9 L482.7 917.5 L487.5 919.7 L492.3 923.2 L497.1 924.8 L501.8 927.7 L506.6 928.4 L511.4 931.1 L516.2 933.2 L521 932.9 L525.7 935.4 L530.5 936.1 L535.3 937.8 L540.6 939 L546 938.7 L551.4 938.1 L556.7 938.3 L562.1 939.4 L568.8 935.6 L575.4 934.4 L582.1 932.7 L588.8 931.1 L593.8 924.1 L598.9 917.7 L605.6 902.6 L613.2 907.6" stroke="#8b4513" stroke-width="2.8" fill="none" stroke-linejoin="round"/>
<path d="M70.9 897.6 L75.3 897.6 L78.6 867.5 L83.6 853.2 L88.7 840.7 L97 807.3 L102 790.2 L107.1 773.8 L115.4 750.4 L121.3 743.2 L127.1 737 L133.8 731.9 L140.5 725.3 L147.2 721 L153.9 718.6 L158.9 719.5 L163.9 717.7 L169 717.6 L174 716.9 L179.5 716.3 L185.1 716.7 L190.7 715.3 L196.3 718.4 L201.9 719.9 L207.4 722 L212.8 724.6 L218.1 727.9 L223.5 731 L228.8 732.4 L234.2 735.3 L239 739.1 L243.8 742.8 L248.5 744.6 L253.3 747.1 L258.1 750.2 L262.9 754.6 L267.6 757.1 L272.4 760.9 L277.2 765 L282 768.1 L286.8 769.8 L291.5 773 L296.3 776.5 L301.1 780.5 L305.9 783.5 L310.7 788.7 L315.4 792.9 L320.2 796.9 L325 799 L329.8 804.4 L334.6 807.3 L339.3 810.6 L344.1 814.7 L348.9 819.4 L353.7 821.5 L358.5 825.3 L363.2 831.1 L368 834 L372.8 837.1 L377.6 840.8 L382.4 845 L387.1 848.9 L391.9 850.6 L396.7 855.1 L401.5 859.1 L406.3 862.8 L411 866.7 L415.8 869.8 L420.6 874.7 L425.4 879.5 L430.1 881.8 L434.9 885.9 L439.7 889.6 L444.5 892.1 L449.3 896.1 L454 900.7 L458.8 902.8 L463.6 908.4 L468.4 911 L473.2 915 L477.9 915.7 L482.7 920.8 L487.5 922.1 L492.3 926.1 L497.1 928.9 L501.8 931.1 L506.9 932.2 L511.9 934.9 L516.9 936.5 L521.9 937.8 L526.9 939.4 L532 938.8 L537 940.9 L542 941.1 L547.3 942 L552.7 940.9 L558 940.2 L563.4 938.7 L568.8 939.4 L574.3 937.7 L579.9 935.7 L585.5 934.4 L592.2 930 L598.9 924.4 L607.2 912.7 L613.2 907.6" stroke="#e8dc30" stroke-width="2.8" fill="none" stroke-linejoin="round"/>
<path d="M70.9 897.6 L74.3 840.7 L78.6 807.3 L87 773.8 L92 760.9 L97 747.1 L103.7 728.7 L110.4 722 L117.1 720.5 L123.8 718.6 L129.4 716.7 L134.9 716.8 L140.5 715.3 L145.5 711.4 L150.6 706.9 L155.6 703.5 L160.6 701.9 L165.6 702.1 L170.6 700.6 L175.6 698.4 L180.7 698.5 L185.7 700.5 L190.7 699.3 L195.7 700.6 L200.7 701.9 L206.3 704.7 L211.9 706.6 L217.5 708.6 L223 712.1 L228.6 715.7 L234.2 718.6 L239 721.1 L243.8 723.4 L248.5 725.6 L253.3 728 L258.1 732.3 L262.9 735.1 L267.6 737 L272.4 740.5 L277.2 744.4 L282 746.7 L286.8 749.8 L291.5 753.4 L296.3 758.1 L301.1 760.4 L305.9 763 L310.7 768.1 L315.4 771.2 L320.2 776.5 L325 779.2 L329.8 782.9 L334.6 787.2 L339.3 790.8 L344.1 795 L348.9 799.4 L353.7 802.1 L358.5 807.3 L363.2 809.1 L368 814 L372.8 817.2 L377.6 820.5 L382.4 824.4 L387.1 830 L391.9 833.7 L396.7 836.1 L401.5 840.7 L406.3 843.7 L411 848.2 L415.8 852.9 L420.6 856.9 L425.4 860.5 L430.1 863.9 L434.9 867.5 L439.7 870.1 L444.5 874.4 L449.3 877.4 L454 881.9 L458.8 885.6 L463.6 888.2 L468.4 892.6 L473.2 895 L477.9 899.6 L482.7 900.7 L487.5 905.8 L492.3 909.2 L497.1 912.4 L501.8 914.3 L507.2 916.7 L512.5 919.8 L517.9 922.6 L523.3 925.4 L528.6 927.7 L533.3 930.7 L538 931.6 L542.7 932.2 L547.3 935.4 L552 936.1 L557.6 936.6 L563.2 937.5 L568.8 937.8 L574.3 937.3 L579.9 934.2 L585.5 934.4 L592.2 930.1 L598.9 924.4 L607.2 911 L613.2 907.6" stroke="#e09550" stroke-width="2.8" fill="none" stroke-linejoin="round"/>
<path d="M70.2 678.5V958.5M70.2 908.6H613.2" stroke="#000" stroke-width="1.3" fill="none"/>
<path d="M67 744.7h3.2M67 826.5h3.2M67 908.6h3.2" stroke="#333" stroke-width="1"/>
<text x="63" y="750" font-size="15" text-anchor="end" fill="#4d4d4d">0.4</text>
<text x="63" y="831.8" font-size="15" text-anchor="end" fill="#4d4d4d">0.2</text>
<text x="63" y="913.9" font-size="15" text-anchor="end" fill="#4d4d4d">0.0</text>
<text x="33.5" y="819" font-size="18.7" text-anchor="middle" transform="rotate(-90 33.5 819)">Enrichment Score</text>
<path d="M83 758.8H106.5" stroke="#ff0000" stroke-width="2.6"/>
<text x="118.8" y="764.2" font-size="14.9">HALLMARK_APOPTOSIS</text>
<path d="M83 788.2H106.5" stroke="#00008b" stroke-width="2.6"/>
<text x="118.8" y="793.6" font-size="14.9">HALLMARK_HYPOXIA</text>
<path d="M83 817.6H106.5" stroke="#006400" stroke-width="2.6"/>
<text x="118.8" y="823" font-size="14.9">HALLMARK_IL6_JAK_STAT3_SIGNALING</text>
<path d="M83 847H106.5" stroke="#8a2be2" stroke-width="2.6"/>
<text x="118.8" y="852.4" font-size="14.9">HALLMARK_INFLAMMATORY_RESPONSE</text>
<path d="M83 876.4H106.5" stroke="#8b4513" stroke-width="2.6"/>
<text x="118.8" y="881.8" font-size="14.9">HALLMARK_INTERFERON_ALPHA_RESPONSE</text>
<path d="M83 905.8H106.5" stroke="#e8dc30" stroke-width="2.6"/>
<text x="118.8" y="911.2" font-size="14.9">HALLMARK_INTERFERON_GAMMA_RESPONSE</text>
<path d="M83 935.2H106.5" stroke="#e09550" stroke-width="2.6"/>
<text x="118.8" y="940.6" font-size="14.9">HALLMARK_TNFA_SIGNALING_VIA_NFKB</text>
<path d="M142.8 1034.8v8.9M122 1034.8v8.9M182.4 1034.8v8.9M609.4 1034.8v8.9M72.1 1034.8v8.9M209.8 1034.8v8.9M183.8 1034.8v8.9M164.1 1034.8v8.9M444.8 1034.8v8.9M74.5 1034.8v8.9M470.2 1034.8v8.9M493.9 1034.8v8.9M451.8 1034.8v8.9M77.1 1034.8v8.9M232.4 1034.8v8.9M168.3 1034.8v8.9M477.3 1034.8v8.9M195.9 1034.8v8.9M86.6 1034.8v8.9M110.3 1034.8v8.9M168 1034.8v8.9M557.9 1034.8v8.9M109.3 1034.8v8.9M447.5 1034.8v8.9M520.7 1034.8v8.9M247.9 1034.8v8.9M168.9 1034.8v8.9M248.7 1034.8v8.9M171.5 1034.8v8.9M455.1 1034.8v8.9M91.8 1034.8v8.9M95 1034.8v8.9M555.2 1034.8v8.9M124.4 1034.8v8.9M427.3 1034.8v8.9M195.6 1034.8v8.9M113.1 1034.8v8.9M566.9 1034.8v8.9M173.4 1034.8v8.9M554.7 1034.8v8.9M370.1 1034.8v8.9M123.8 1034.8v8.9M526.6 1034.8v8.9M265.8 1034.8v8.9M88.7 1034.8v8.9M461.8 1034.8v8.9M96.2 1034.8v8.9M208.6 1034.8v8.9M500 1034.8v8.9M97.2 1034.8v8.9M454.5 1034.8v8.9M141 1034.8v8.9M517.5 1034.8v8.9M577.5 1034.8v8.9M184.3 1034.8v8.9M589.9 1034.8v8.9M573.7 1034.8v8.9M582.6 1034.8v8.9M108.7 1034.8v8.9M98.7 1034.8v8.9M496.7 1034.8v8.9M564.7 1034.8v8.9M472.6 1034.8v8.9M531.3 1034.8v8.9M526.5 1034.8v8.9M193.1 1034.8v8.9M262.2 1034.8v8.9M175.7 1034.8v8.9M597.2 1034.8v8.9M89.3 1034.8v8.9M476.6 1034.8v8.9M147.7 1034.8v8.9M508.1 1034.8v8.9M453.3 1034.8v8.9M553 1034.8v8.9M123.8 1034.8v8.9M528.8 1034.8v8.9M130 1034.8v8.9M457.7 1034.8v8.9M95.2 1034.8v8.9M154.1 1034.8v8.9M563.7 1034.8v8.9M549.7 1034.8v8.9M234.3 1034.8v8.9M94.7 1034.8v8.9M121.3 1034.8v8.9M135 1034.8v8.9M567.3 1034.8v8.9M544.4 1034.8v8.9M265.1 1034.8v8.9M86.9 1034.8v8.9M87 1034.8v8.9M596.6 1034.8v8.9M154.1 1034.8v8.9M116.3 1034.8v8.9M429.6 1034.8v8.9M199.5 1034.8v8.9M106.1 1034.8v8.9M104.5 1034.8v8.9M91.5 1034.8v8.9M539.7 1034.8v8.9M569.8 1034.8v8.9M470.4 1034.8v8.9M541.2 1034.8v8.9M534.7 1034.8v8.9M104.4 1034.8v8.9M185.7 1034.8v8.9M542 1034.8v8.9M558.3 1034.8v8.9M610.9 1034.8v8.9M222 1034.8v8.9M96.1 1034.8v8.9M125.2 1034.8v8.9M251.7 1034.8v8.9M122.3 1034.8v8.9M559.2 1034.8v8.9M96.3 1034.8v8.9M224.5 1034.8v8.9M262.9 1034.8v8.9M130.1 1034.8v8.9M563.3 1034.8v8.9M555.1 1034.8v8.9M165.2 1034.8v8.9M344.4 1034.8v8.9M468.9 1034.8v8.9M507.9 1034.8v8.9M550.9 1034.8v8.9M557.8 1034.8v8.9M463.7 1034.8v8.9M599.9 1034.8v8.9M152.9 1034.8v8.9M178.3 1034.8v8.9M554.7 1034.8v8.9M575.9 1034.8v8.9M579.2 1034.8v8.9M112.3 1034.8v8.9M192.8 1034.8v8.9M79.7 1034.8v8.9M527.8 1034.8v8.9M93.1 1034.8v8.9M97.4 1034.8v8.9M79.1 1034.8v8.9M460.6 1034.8v8.9M458.9 1034.8v8.9M129.5 1034.8v8.9M107.3 1034.8v8.9M481 1034.8v8.9M452 1034.8v8.9M138.8 1034.8v8.9M75.8 1034.8v8.9M217.1 1034.8v8.9M540 1034.8v8.9M189 1034.8v8.9M523.1 1034.8v8.9M572.3 1034.8v8.9M564.1 1034.8v8.9M531.8 1034.8v8.9M544.7 1034.8v8.9M452.4 1034.8v8.9M154 1034.8v8.9M173.9 1034.8v8.9M501.5 1034.8v8.9M410.8 1034.8v8.9M105.8 1034.8v8.9M152.5 1034.8v8.9M151.1 1034.8v8.9M179 1034.8v8.9M571.1 1034.8v8.9M186 1034.8v8.9M563.7 1034.8v8.9M211.6 1034.8v8.9M149.1 1034.8v8.9M472.3 1034.8v8.9M94.9 1034.8v8.9M201.7 1034.8v8.9" stroke="#e09550" stroke-width="1" fill="none"/>
<path d="M125.4 1043.7v8.9M107.5 1043.7v8.9M541.4 1043.7v8.9M212.6 1043.7v8.9M113.5 1043.7v8.9M233.9 1043.7v8.9M162 1043.7v8.9M100.4 1043.7v8.9M263.8 1043.7v8.9M592.1 1043.7v8.9M170.9 1043.7v8.9M197.2 1043.7v8.9M589.2 1043.7v8.9M605.5 1043.7v8.9M91.2 1043.7v8.9M142.5 1043.7v8.9M79.7 1043.7v8.9M487 1043.7v8.9M72.9 1043.7v8.9M533.8 1043.7v8.9M131.2 1043.7v8.9M118.9 1043.7v8.9M472 1043.7v8.9M516.7 1043.7v8.9M134.4 1043.7v8.9M192 1043.7v8.9M97.3 1043.7v8.9M224.1 1043.7v8.9M263 1043.7v8.9M136.2 1043.7v8.9M433.5 1043.7v8.9M234.2 1043.7v8.9M589.9 1043.7v8.9M86.2 1043.7v8.9M497.3 1043.7v8.9M605.8 1043.7v8.9M114 1043.7v8.9M100 1043.7v8.9M610 1043.7v8.9M528.7 1043.7v8.9M562.4 1043.7v8.9M182.8 1043.7v8.9M120 1043.7v8.9M148.1 1043.7v8.9M74.1 1043.7v8.9M547.4 1043.7v8.9M128.6 1043.7v8.9M159 1043.7v8.9M159.3 1043.7v8.9M498.4 1043.7v8.9M223.2 1043.7v8.9M258.4 1043.7v8.9M180.6 1043.7v8.9M81.2 1043.7v8.9M293.6 1043.7v8.9M224.8 1043.7v8.9M468.1 1043.7v8.9M207.6 1043.7v8.9M437.5 1043.7v8.9M158.7 1043.7v8.9M527.6 1043.7v8.9M93.3 1043.7v8.9M542.3 1043.7v8.9M489.1 1043.7v8.9M488.9 1043.7v8.9M488.8 1043.7v8.9M233 1043.7v8.9M74.9 1043.7v8.9M250.9 1043.7v8.9M551.1 1043.7v8.9M203.1 1043.7v8.9M205.6 1043.7v8.9M176.3 1043.7v8.9M544.5 1043.7v8.9M558.2 1043.7v8.9M130.5 1043.7v8.9M177.7 1043.7v8.9M73.9 1043.7v8.9M240 1043.7v8.9M143.7 1043.7v8.9M254.4 1043.7v8.9M204.2 1043.7v8.9M101.6 1043.7v8.9M228.3 1043.7v8.9M148.4 1043.7v8.9M439.4 1043.7v8.9M99.6 1043.7v8.9M589.3 1043.7v8.9M110.9 1043.7v8.9M139.9 1043.7v8.9M473.4 1043.7v8.9M105.2 1043.7v8.9M219.6 1043.7v8.9M598.9 1043.7v8.9M517.8 1043.7v8.9M221 1043.7v8.9M200.4 1043.7v8.9M158 1043.7v8.9M504.9 1043.7v8.9M509 1043.7v8.9M170.9 1043.7v8.9M79.9 1043.7v8.9M607.6 1043.7v8.9M219.3 1043.7v8.9M80 1043.7v8.9M86.1 1043.7v8.9M121.1 1043.7v8.9M594.6 1043.7v8.9M116.4 1043.7v8.9M147.7 1043.7v8.9M121.7 1043.7v8.9M155 1043.7v8.9M138.4 1043.7v8.9M590.4 1043.7v8.9M214.7 1043.7v8.9M167.6 1043.7v8.9M188.3 1043.7v8.9M89 1043.7v8.9M121.2 1043.7v8.9M608.3 1043.7v8.9M219.8 1043.7v8.9M351.1 1043.7v8.9M220.6 1043.7v8.9M498.2 1043.7v8.9M118.8 1043.7v8.9M129.7 1043.7v8.9M155.2 1043.7v8.9M493.1 1043.7v8.9M162.2 1043.7v8.9M427.1 1043.7v8.9M102.4 1043.7v8.9M144.4 1043.7v8.9M546.6 1043.7v8.9M137.7 1043.7v8.9M453.7 1043.7v8.9M162.8 1043.7v8.9M497.3 1043.7v8.9M93.1 1043.7v8.9M105.2 1043.7v8.9M100.9 1043.7v8.9M227.1 1043.7v8.9M583.4 1043.7v8.9M545.6 1043.7v8.9M512.9 1043.7v8.9M580.1 1043.7v8.9M103.9 1043.7v8.9M71.7 1043.7v8.9M602.5 1043.7v8.9M458.1 1043.7v8.9M80.6 1043.7v8.9M597.7 1043.7v8.9M88.2 1043.7v8.9M110.1 1043.7v8.9M581.4 1043.7v8.9M591.2 1043.7v8.9M72.4 1043.7v8.9M535.7 1043.7v8.9M178.2 1043.7v8.9M266.2 1043.7v8.9M219.6 1043.7v8.9M494 1043.7v8.9M455.8 1043.7v8.9M575.6 1043.7v8.9M267.1 1043.7v8.9M611.7 1043.7v8.9" stroke="#e8dc30" stroke-width="1" fill="none"/>
<path d="M500.3 1052.7v8.9M544.4 1052.7v8.9M610.4 1052.7v8.9M104.2 1052.7v8.9M176.2 1052.7v8.9M487.8 1052.7v8.9M599.2 1052.7v8.9M574.4 1052.7v8.9M148.9 1052.7v8.9M249.6 1052.7v8.9M240.5 1052.7v8.9M250.1 1052.7v8.9M564.4 1052.7v8.9M516.3 1052.7v8.9M598.9 1052.7v8.9M591.5 1052.7v8.9M530.4 1052.7v8.9M156.8 1052.7v8.9M539.6 1052.7v8.9M538.9 1052.7v8.9M564.4 1052.7v8.9M589.1 1052.7v8.9M591.5 1052.7v8.9M248.9 1052.7v8.9M81.4 1052.7v8.9M466.6 1052.7v8.9M173.6 1052.7v8.9M107.8 1052.7v8.9M120.8 1052.7v8.9M218.2 1052.7v8.9M85.5 1052.7v8.9M101.8 1052.7v8.9M436.1 1052.7v8.9M203.8 1052.7v8.9M73.4 1052.7v8.9M583.6 1052.7v8.9M80.4 1052.7v8.9M92.5 1052.7v8.9M558.5 1052.7v8.9M182.8 1052.7v8.9M195.9 1052.7v8.9M229.1 1052.7v8.9M179.1 1052.7v8.9M162 1052.7v8.9M586.5 1052.7v8.9M80.9 1052.7v8.9M239.1 1052.7v8.9M569.5 1052.7v8.9M569.5 1052.7v8.9M513.1 1052.7v8.9M259.7 1052.7v8.9M142.5 1052.7v8.9M427.9 1052.7v8.9M121.4 1052.7v8.9M562.1 1052.7v8.9M143.3 1052.7v8.9M260.3 1052.7v8.9M174.7 1052.7v8.9M476.4 1052.7v8.9M450.8 1052.7v8.9M273.7 1052.7v8.9M213.4 1052.7v8.9M205.3 1052.7v8.9M81.7 1052.7v8.9M569.5 1052.7v8.9M123 1052.7v8.9M592.9 1052.7v8.9M440.4 1052.7v8.9M462.4 1052.7v8.9M95 1052.7v8.9M434.2 1052.7v8.9M164.3 1052.7v8.9M116.8 1052.7v8.9M537.4 1052.7v8.9M91.7 1052.7v8.9M129.2 1052.7v8.9M229.4 1052.7v8.9M133.6 1052.7v8.9M88.7 1052.7v8.9M85.9 1052.7v8.9M114 1052.7v8.9M167.9 1052.7v8.9M504.9 1052.7v8.9M210.5 1052.7v8.9M521.8 1052.7v8.9M246.7 1052.7v8.9M444.9 1052.7v8.9M145.6 1052.7v8.9M611.7 1052.7v8.9M505.2 1052.7v8.9M196.6 1052.7v8.9M568.3 1052.7v8.9M509.3 1052.7v8.9M242.9 1052.7v8.9M246.3 1052.7v8.9M75.3 1052.7v8.9M484.2 1052.7v8.9M243.9 1052.7v8.9M196.5 1052.7v8.9M107.8 1052.7v8.9M135 1052.7v8.9M587 1052.7v8.9M157.2 1052.7v8.9M201.4 1052.7v8.9M143.7 1052.7v8.9M549.5 1052.7v8.9M586 1052.7v8.9M153.6 1052.7v8.9M115.3 1052.7v8.9M606.1 1052.7v8.9M515.3 1052.7v8.9M485.2 1052.7v8.9M579.4 1052.7v8.9M155.8 1052.7v8.9M132.2 1052.7v8.9M607.4 1052.7v8.9M572.5 1052.7v8.9M432.9 1052.7v8.9M218.6 1052.7v8.9M158.3 1052.7v8.9" stroke="#8b4513" stroke-width="1" fill="none"/>
<path d="M262.3 1061.6v8.9M604.5 1061.6v8.9M455.2 1061.6v8.9M525.7 1061.6v8.9M93.2 1061.6v8.9M85.6 1061.6v8.9M81.1 1061.6v8.9M471.4 1061.6v8.9M110 1061.6v8.9M123.9 1061.6v8.9M534.5 1061.6v8.9M74.6 1061.6v8.9M71.7 1061.6v8.9M113.9 1061.6v8.9M74 1061.6v8.9M533.4 1061.6v8.9M211.1 1061.6v8.9M99.5 1061.6v8.9M242 1061.6v8.9M172.6 1061.6v8.9M176.2 1061.6v8.9M119.2 1061.6v8.9M569.2 1061.6v8.9M213.2 1061.6v8.9M244.8 1061.6v8.9M453.7 1061.6v8.9M485 1061.6v8.9M100.8 1061.6v8.9M276.5 1061.6v8.9M90.8 1061.6v8.9M464.8 1061.6v8.9M229.2 1061.6v8.9M497.2 1061.6v8.9M267.3 1061.6v8.9M81.5 1061.6v8.9M134.4 1061.6v8.9M512 1061.6v8.9M483.9 1061.6v8.9M87.8 1061.6v8.9M201.5 1061.6v8.9M611.8 1061.6v8.9M122.7 1061.6v8.9M76.3 1061.6v8.9M161.6 1061.6v8.9M212 1061.6v8.9M558.9 1061.6v8.9M126 1061.6v8.9M113.2 1061.6v8.9M82.7 1061.6v8.9M308.8 1061.6v8.9M495.5 1061.6v8.9M144.1 1061.6v8.9M278.1 1061.6v8.9M128.9 1061.6v8.9M137.8 1061.6v8.9M567.7 1061.6v8.9M602.7 1061.6v8.9M198.4 1061.6v8.9M211.8 1061.6v8.9M185.9 1061.6v8.9M80.7 1061.6v8.9M516.1 1061.6v8.9M467.8 1061.6v8.9M159.2 1061.6v8.9M434.6 1061.6v8.9M259.6 1061.6v8.9M482.7 1061.6v8.9M610.1 1061.6v8.9M189.6 1061.6v8.9M238.3 1061.6v8.9M592.4 1061.6v8.9M514.6 1061.6v8.9M130.6 1061.6v8.9M227.3 1061.6v8.9M242.9 1061.6v8.9M105.6 1061.6v8.9M187.6 1061.6v8.9M80.6 1061.6v8.9M515 1061.6v8.9M140.8 1061.6v8.9M558.9 1061.6v8.9M581.4 1061.6v8.9M134.6 1061.6v8.9M133.5 1061.6v8.9M558.4 1061.6v8.9M85.4 1061.6v8.9M561.5 1061.6v8.9M483.1 1061.6v8.9M184.5 1061.6v8.9M443.1 1061.6v8.9M78.1 1061.6v8.9M125 1061.6v8.9M497 1061.6v8.9M267.4 1061.6v8.9M189.8 1061.6v8.9M230 1061.6v8.9M532.5 1061.6v8.9M101.5 1061.6v8.9M181.2 1061.6v8.9M533.2 1061.6v8.9M494 1061.6v8.9M591.8 1061.6v8.9M514.5 1061.6v8.9M168.5 1061.6v8.9M270.8 1061.6v8.9M586.5 1061.6v8.9M263.7 1061.6v8.9M105.7 1061.6v8.9M120.7 1061.6v8.9M494.6 1061.6v8.9M114.2 1061.6v8.9M141.1 1061.6v8.9M185.2 1061.6v8.9M85.1 1061.6v8.9M224.4 1061.6v8.9M250.1 1061.6v8.9M485.6 1061.6v8.9M74.8 1061.6v8.9M83.2 1061.6v8.9M80.4 1061.6v8.9M98.8 1061.6v8.9M135.5 1061.6v8.9M579.8 1061.6v8.9M170.9 1061.6v8.9M545.3 1061.6v8.9M236.2 1061.6v8.9M235.4 1061.6v8.9M547.7 1061.6v8.9M256.4 1061.6v8.9M180 1061.6v8.9M79.1 1061.6v8.9M429.3 1061.6v8.9M94.3 1061.6v8.9M161.3 1061.6v8.9M150.6 1061.6v8.9M73.9 1061.6v8.9M84.9 1061.6v8.9M532.5 1061.6v8.9M532.9 1061.6v8.9M128.3 1061.6v8.9M543.4 1061.6v8.9M78 1061.6v8.9M559.9 1061.6v8.9M95.3 1061.6v8.9M439.6 1061.6v8.9M542.5 1061.6v8.9M479.4 1061.6v8.9M599.8 1061.6v8.9M159.6 1061.6v8.9M174.7 1061.6v8.9M107.6 1061.6v8.9M90 1061.6v8.9M198 1061.6v8.9M79.7 1061.6v8.9M435.5 1061.6v8.9M199.5 1061.6v8.9M236.7 1061.6v8.9M595.4 1061.6v8.9M607.9 1061.6v8.9M577.1 1061.6v8.9M189.6 1061.6v8.9M84.1 1061.6v8.9M544 1061.6v8.9M454.6 1061.6v8.9M164.2 1061.6v8.9M411.6 1061.6v8.9M135.9 1061.6v8.9M138 1061.6v8.9M270.8 1061.6v8.9M169.1 1061.6v8.9M439.9 1061.6v8.9M137.1 1061.6v8.9M104.7 1061.6v8.9M90.8 1061.6v8.9M143.9 1061.6v8.9M74.1 1061.6v8.9M71.9 1061.6v8.9M586.2 1061.6v8.9M197.9 1061.6v8.9M541.2 1061.6v8.9M89.1 1061.6v8.9M188.8 1061.6v8.9M139.8 1061.6v8.9M525.6 1061.6v8.9M116.6 1061.6v8.9M607.1 1061.6v8.9M201.9 1061.6v8.9M445.1 1061.6v8.9M590 1061.6v8.9M79.1 1061.6v8.9M215.7 1061.6v8.9M578.5 1061.6v8.9M473.4 1061.6v8.9M92.6 1061.6v8.9M604.8 1061.6v8.9M163.8 1061.6v8.9M561.7 1061.6v8.9M151.4 1061.6v8.9M530 1061.6v8.9M84.2 1061.6v8.9" stroke="#8a2be2" stroke-width="1" fill="none"/>
<path d="M480.6 1070.5v8.9M529.5 1070.5v8.9M450.5 1070.5v8.9M433.1 1070.5v8.9M148.2 1070.5v8.9M83.6 1070.5v8.9M476.5 1070.5v8.9M195.3 1070.5v8.9M124.7 1070.5v8.9M603.7 1070.5v8.9M546.8 1070.5v8.9M503.5 1070.5v8.9M250.4 1070.5v8.9M441.7 1070.5v8.9M117.3 1070.5v8.9M502.9 1070.5v8.9M73.5 1070.5v8.9M524.3 1070.5v8.9M242.4 1070.5v8.9M228.2 1070.5v8.9M434.9 1070.5v8.9M181 1070.5v8.9M81.8 1070.5v8.9M105.6 1070.5v8.9M127.4 1070.5v8.9M565.5 1070.5v8.9M136.5 1070.5v8.9M370.7 1070.5v8.9M588.3 1070.5v8.9M174.5 1070.5v8.9M177.8 1070.5v8.9M535.1 1070.5v8.9M194.7 1070.5v8.9M196.9 1070.5v8.9M193.4 1070.5v8.9M214.4 1070.5v8.9M115.5 1070.5v8.9M610.3 1070.5v8.9M81.3 1070.5v8.9M118.8 1070.5v8.9M143.8 1070.5v8.9M255.9 1070.5v8.9M155.7 1070.5v8.9M593.3 1070.5v8.9M523.3 1070.5v8.9M592.2 1070.5v8.9M138.3 1070.5v8.9M494.1 1070.5v8.9M83.5 1070.5v8.9M221.6 1070.5v8.9M87.5 1070.5v8.9M559.3 1070.5v8.9M92.3 1070.5v8.9M94.5 1070.5v8.9M264.2 1070.5v8.9M602.1 1070.5v8.9M521.2 1070.5v8.9M252.7 1070.5v8.9M126 1070.5v8.9M134 1070.5v8.9M131.5 1070.5v8.9M164.4 1070.5v8.9M91.3 1070.5v8.9M431.6 1070.5v8.9M167.1 1070.5v8.9M439.2 1070.5v8.9M218.4 1070.5v8.9M485 1070.5v8.9M98.5 1070.5v8.9M455.4 1070.5v8.9M474.2 1070.5v8.9M450.3 1070.5v8.9M161.3 1070.5v8.9M107.1 1070.5v8.9M122.7 1070.5v8.9M145.5 1070.5v8.9M74.4 1070.5v8.9M556.4 1070.5v8.9M76.1 1070.5v8.9M94.3 1070.5v8.9M529.3 1070.5v8.9M143.1 1070.5v8.9M610 1070.5v8.9M410.7 1070.5v8.9M148.9 1070.5v8.9M207.5 1070.5v8.9M198.3 1070.5v8.9M86.4 1070.5v8.9M490 1070.5v8.9M530.5 1070.5v8.9M73.9 1070.5v8.9M160.6 1070.5v8.9M123.3 1070.5v8.9M192.4 1070.5v8.9M140.8 1070.5v8.9M524.4 1070.5v8.9M597.8 1070.5v8.9M460.4 1070.5v8.9M505.2 1070.5v8.9M512.9 1070.5v8.9M184.6 1070.5v8.9M253.3 1070.5v8.9M543.3 1070.5v8.9M75.4 1070.5v8.9M566.3 1070.5v8.9M170.3 1070.5v8.9M513.9 1070.5v8.9M524.1 1070.5v8.9M105.9 1070.5v8.9M432.8 1070.5v8.9" stroke="#006400" stroke-width="1" fill="none"/>
<path d="M534 1079.5v8.9M76.1 1079.5v8.9M577.8 1079.5v8.9M460.5 1079.5v8.9M430 1079.5v8.9M244.5 1079.5v8.9M587.1 1079.5v8.9M159.8 1079.5v8.9M257 1079.5v8.9M73.6 1079.5v8.9M131.4 1079.5v8.9M83.3 1079.5v8.9M543.3 1079.5v8.9M555 1079.5v8.9M457.5 1079.5v8.9M467.2 1079.5v8.9M184.9 1079.5v8.9M116.4 1079.5v8.9M98.4 1079.5v8.9M456.1 1079.5v8.9M119.1 1079.5v8.9M257.4 1079.5v8.9M538.5 1079.5v8.9M607.8 1079.5v8.9M605 1079.5v8.9M162.9 1079.5v8.9M129.1 1079.5v8.9M194.3 1079.5v8.9M177.7 1079.5v8.9M295.9 1079.5v8.9M75.1 1079.5v8.9M532.7 1079.5v8.9M74.1 1079.5v8.9M235.7 1079.5v8.9M160.6 1079.5v8.9M609.4 1079.5v8.9M452.5 1079.5v8.9M491.8 1079.5v8.9M265.4 1079.5v8.9M214.8 1079.5v8.9M101.9 1079.5v8.9M600.4 1079.5v8.9M216.6 1079.5v8.9M116.3 1079.5v8.9M509.8 1079.5v8.9M164.9 1079.5v8.9M174.8 1079.5v8.9M145.8 1079.5v8.9M262.1 1079.5v8.9M505.6 1079.5v8.9M474.6 1079.5v8.9M84.3 1079.5v8.9M450.1 1079.5v8.9M248.4 1079.5v8.9M503.9 1079.5v8.9M480.1 1079.5v8.9M539.2 1079.5v8.9M579.4 1079.5v8.9M240.9 1079.5v8.9M480 1079.5v8.9M215.1 1079.5v8.9M506.2 1079.5v8.9M522.9 1079.5v8.9M80.5 1079.5v8.9M472.4 1079.5v8.9M556.4 1079.5v8.9M101.4 1079.5v8.9M543.1 1079.5v8.9M468.3 1079.5v8.9M462.1 1079.5v8.9M185.3 1079.5v8.9M210.2 1079.5v8.9M471.5 1079.5v8.9M322.3 1079.5v8.9M580.9 1079.5v8.9M235.1 1079.5v8.9M89 1079.5v8.9M501.2 1079.5v8.9M113.2 1079.5v8.9M430.5 1079.5v8.9M180.5 1079.5v8.9M564.2 1079.5v8.9M154.2 1079.5v8.9M456.8 1079.5v8.9M182 1079.5v8.9M121.2 1079.5v8.9M80.3 1079.5v8.9M551.6 1079.5v8.9M567.9 1079.5v8.9M156.1 1079.5v8.9M519.9 1079.5v8.9M467.1 1079.5v8.9M529 1079.5v8.9M120 1079.5v8.9M582.6 1079.5v8.9M563.1 1079.5v8.9M131.4 1079.5v8.9M488.2 1079.5v8.9M82.8 1079.5v8.9M275.5 1079.5v8.9M204.5 1079.5v8.9M123.1 1079.5v8.9M144.8 1079.5v8.9M505.1 1079.5v8.9M324.2 1079.5v8.9M267.1 1079.5v8.9M155.9 1079.5v8.9M115 1079.5v8.9M585.9 1079.5v8.9M216.8 1079.5v8.9M174.6 1079.5v8.9M224.5 1079.5v8.9M114.9 1079.5v8.9M223.5 1079.5v8.9M127.4 1079.5v8.9M274.7 1079.5v8.9M82.1 1079.5v8.9M484.4 1079.5v8.9M104.1 1079.5v8.9M582.8 1079.5v8.9M94.8 1079.5v8.9M149.7 1079.5v8.9M568 1079.5v8.9M236.2 1079.5v8.9M87.3 1079.5v8.9M168.4 1079.5v8.9M448 1079.5v8.9M176.6 1079.5v8.9M139.7 1079.5v8.9M81.2 1079.5v8.9M571.8 1079.5v8.9M279.6 1079.5v8.9M80.6 1079.5v8.9M96.3 1079.5v8.9M587.9 1079.5v8.9M171.8 1079.5v8.9M565.3 1079.5v8.9M179.5 1079.5v8.9M437.9 1079.5v8.9M596.3 1079.5v8.9M580.7 1079.5v8.9M487.9 1079.5v8.9M349.9 1079.5v8.9M558.5 1079.5v8.9M593.1 1079.5v8.9M541.2 1079.5v8.9M79.2 1079.5v8.9M554.8 1079.5v8.9M95 1079.5v8.9M116.5 1079.5v8.9M556.8 1079.5v8.9M467.4 1079.5v8.9M575.4 1079.5v8.9M72.9 1079.5v8.9M609.7 1079.5v8.9M449.4 1079.5v8.9M86 1079.5v8.9M215.3 1079.5v8.9M213.7 1079.5v8.9M188.9 1079.5v8.9M384.2 1079.5v8.9M173.4 1079.5v8.9M566.7 1079.5v8.9M417.1 1079.5v8.9M593.7 1079.5v8.9M506.3 1079.5v8.9M151 1079.5v8.9M101.8 1079.5v8.9M183 1079.5v8.9M219.3 1079.5v8.9M185.5 1079.5v8.9M582 1079.5v8.9M170.4 1079.5v8.9M200.2 1079.5v8.9M163 1079.5v8.9M568.1 1079.5v8.9M121.1 1079.5v8.9M467.7 1079.5v8.9M164 1079.5v8.9M125.3 1079.5v8.9M99.9 1079.5v8.9M593.1 1079.5v8.9M253.1 1079.5v8.9M111.1 1079.5v8.9M218.2 1079.5v8.9M89.4 1079.5v8.9M548.3 1079.5v8.9M198.9 1079.5v8.9M122.6 1079.5v8.9M116.7 1079.5v8.9" stroke="#00008b" stroke-width="1" fill="none"/>
<path d="M153.8 1088.4v8.9M163.2 1088.4v8.9M171.5 1088.4v8.9M88 1088.4v8.9M230.5 1088.4v8.9M530.7 1088.4v8.9M180.1 1088.4v8.9M143.7 1088.4v8.9M88.7 1088.4v8.9M223.6 1088.4v8.9M461.9 1088.4v8.9M609 1088.4v8.9M145.2 1088.4v8.9M548.5 1088.4v8.9M81.6 1088.4v8.9M107 1088.4v8.9M252.5 1088.4v8.9M109.9 1088.4v8.9M73.9 1088.4v8.9M222.2 1088.4v8.9M521.8 1088.4v8.9M479.1 1088.4v8.9M463.4 1088.4v8.9M160.7 1088.4v8.9M225 1088.4v8.9M580.5 1088.4v8.9M537.6 1088.4v8.9M594.2 1088.4v8.9M489.1 1088.4v8.9M498.6 1088.4v8.9M578.1 1088.4v8.9M227.1 1088.4v8.9M522.1 1088.4v8.9M274 1088.4v8.9M484.7 1088.4v8.9M598.6 1088.4v8.9M119.5 1088.4v8.9M205.1 1088.4v8.9M470.1 1088.4v8.9M190.4 1088.4v8.9M136.3 1088.4v8.9M141 1088.4v8.9M91.9 1088.4v8.9M378.9 1088.4v8.9M188.2 1088.4v8.9M118 1088.4v8.9M220.5 1088.4v8.9M601.5 1088.4v8.9M510.7 1088.4v8.9M96.3 1088.4v8.9M70.7 1088.4v8.9M600.3 1088.4v8.9M224.4 1088.4v8.9M113.7 1088.4v8.9M491.9 1088.4v8.9M581.8 1088.4v8.9M97 1088.4v8.9M577.4 1088.4v8.9M137.4 1088.4v8.9M81.4 1088.4v8.9M440.6 1088.4v8.9M188.9 1088.4v8.9M72.1 1088.4v8.9M132.3 1088.4v8.9M329.7 1088.4v8.9M587.9 1088.4v8.9M594.9 1088.4v8.9M253.9 1088.4v8.9M218.1 1088.4v8.9M462 1088.4v8.9M477.9 1088.4v8.9M538 1088.4v8.9M128.2 1088.4v8.9M282.4 1088.4v8.9M195.4 1088.4v8.9M131.2 1088.4v8.9M493.2 1088.4v8.9M129.5 1088.4v8.9M508.6 1088.4v8.9M205.4 1088.4v8.9M561.6 1088.4v8.9M500.8 1088.4v8.9M191.6 1088.4v8.9M213 1088.4v8.9M164.9 1088.4v8.9M433.7 1088.4v8.9M532.5 1088.4v8.9M486.4 1088.4v8.9M463.4 1088.4v8.9M452.8 1088.4v8.9M531 1088.4v8.9M603.8 1088.4v8.9M100.4 1088.4v8.9M482.6 1088.4v8.9M99.3 1088.4v8.9M77.2 1088.4v8.9M133.4 1088.4v8.9M148.3 1088.4v8.9M218.5 1088.4v8.9M556.8 1088.4v8.9M485.9 1088.4v8.9M549.9 1088.4v8.9M101.6 1088.4v8.9M441.9 1088.4v8.9M172.9 1088.4v8.9M439.7 1088.4v8.9M188 1088.4v8.9M72.3 1088.4v8.9M156.8 1088.4v8.9M92.6 1088.4v8.9M179.1 1088.4v8.9M515.5 1088.4v8.9M194.5 1088.4v8.9M184.9 1088.4v8.9M598.9 1088.4v8.9M156.7 1088.4v8.9M125.3 1088.4v8.9M470.7 1088.4v8.9M129.7 1088.4v8.9M76 1088.4v8.9M177.9 1088.4v8.9M158.3 1088.4v8.9M169.9 1088.4v8.9M556.1 1088.4v8.9M494.1 1088.4v8.9M143.6 1088.4v8.9M466.7 1088.4v8.9M597.2 1088.4v8.9M559.3 1088.4v8.9M153.6 1088.4v8.9M137.1 1088.4v8.9M70.5 1088.4v8.9M206.1 1088.4v8.9M214.7 1088.4v8.9M184 1088.4v8.9M248.1 1088.4v8.9M79.3 1088.4v8.9M147 1088.4v8.9M144.5 1088.4v8.9M433.4 1088.4v8.9M458.4 1088.4v8.9M492.6 1088.4v8.9M606.6 1088.4v8.9M194.1 1088.4v8.9M151.2 1088.4v8.9M454.9 1088.4v8.9M216.4 1088.4v8.9M164 1088.4v8.9M577.2 1088.4v8.9M148.4 1088.4v8.9M115.5 1088.4v8.9M244.4 1088.4v8.9M588.6 1088.4v8.9M586.9 1088.4v8.9M447.5 1088.4v8.9M531.9 1088.4v8.9M128.7 1088.4v8.9M524.8 1088.4v8.9M562 1088.4v8.9M547.7 1088.4v8.9" stroke="#ff0000" stroke-width="1" fill="none"/>
<path d="M70.2 1097.6H613.2" stroke="#000" stroke-width="1.3"/>
<text x="341.5" y="1115.5" font-size="18.6" text-anchor="middle">treatment&lt;--------------control</text>
</g>
<g id="panelE">
<circle cx="894" cy="969.7" r="159" fill="#9edae8" stroke="#000" stroke-width="1"/>
<circle cx="1099.9" cy="969.7" r="159" fill="#f17462" fill-opacity="0.7" stroke="#000" stroke-width="1"/>
<path d="M1058 713.3L994.9 909" stroke="#000" stroke-width="2.6" fill="none"/>
<text x="1059.5" y="689.7" font-size="31.2" text-anchor="middle" font-weight="bold" stroke="#000" stroke-width="0.5">FOXO1</text>
<text x="874.4" y="791.2" font-size="31.3" text-anchor="middle" font-weight="bold" fill="#6dc6de">Set2</text>
<text x="1101.7" y="791.2" font-size="30.8" text-anchor="middle" font-weight="bold" fill="#ef7f70">Set1</text>
<text x="870.5" y="979.5" font-size="32" text-anchor="middle">23</text>
<text x="991.8" y="970" font-size="32" text-anchor="middle">1</text>
<text x="1123" y="979.5" font-size="32" text-anchor="middle">15</text>
</g>
<g id="panelF">
<path d="M1544.9 779L1846.3 800.1M1545.1 779L1693.3 828.7M1542.8 778.3L1577.6 731.1M1544.9 779.8L1628.1 695.3M1545.7 779.7L1555.7 905.6M1545.6 779.3L1691.6 983.4M1546 778.5L1755.7 966.5M1545.5 780.4L1404.7 915.6M1545.2 780.6L1417.8 830.3M1544.9 779.8L1594.6 950.7M1545.3 779.1L1809.1 943.8M1545.2 779L1826.4 898.6M1544.9 779.8L1641.8 973.4M1544.1 778.3L1743 685.1M1429.3 768L1641.2 974M1420 829.9L1406.6 915.4M1417.6 828.7L1534.1 845.8M1417.5 828.7L1693.1 828.7M1418 828.8L1595.1 950M1406.7 914.9L1409.2 987.9M1403.7 914.2L1533.6 845.9M1404.3 914.1L1594.7 949.9M1404.5 913.3L1642.2 971.7M1404.5 913.3L1691.3 982.3M1404.2 914.1L1754.7 966.9M1404 913.3L1554.7 903.9M1406.2 987.2L1554.4 904.9M1406.6 988L1594.6 950.7M1406.6 987.1L1641.7 972.5M1496.7 1023.1L1554.8 905.6M1495.2 1021L1593.1 948.6M1495.9 1022.9L1533.2 846.4M1496.4 1022.3L1641.5 972.6M1498.1 1021L1568.9 1067.6M1496.2 1020.6L1690.4 981.4M1495.5 1021.9L1691.9 828.3M1566.7 1069.5L1593.7 950.5M1566.2 1068.7L1640.5 972.3M1569 1067.6L1636.4 1113.3M1567.5 1069.7L1534 846.6M1566.7 1069.8L1554 905.7M1567.1 1069L1690.4 983.2M1533.8 844.9L1692.9 827.8M1534 846.6L1846.2 853.4M1534.5 846L1691.4 983.3M1534.4 845.9L1755 967M1534.1 845.8L1826.2 898.6M1534.6 845L1809.2 942.9M1535.5 845.8L1596 949.8M1535.3 845.5L1643.1 972.3M1532.4 846L1578.1 732M1533.7 845.8L1823.6 752.6M1533.3 845L1893.7 695.9M1578.1 730.6L1626.6 693.3M1579.4 731.8L1743.5 685.8M1581.3 730.6L1694.7 827.6M1581 731.6L1755.9 966.8M1581.2 731.9L1692.4 983.3M1580.1 730.9L1846.7 799.3M1579.3 731.8L1684 674.4M1581.4 730.7L1810.4 942.6M1627.6 693.7L1683.8 673.5M1628.1 694.5L1743.6 685.8M1630.4 694.2L1695.4 828.4M1628.1 695.3L1754.6 967.8M1628.1 695.3L1808.6 944.5M1684.7 673.4L1744 684.9M1685.2 675.1L1693.9 829.5M1685.4 673.8L1847.3 799.6M1685.2 675.1L1691.7 983.9M1685.6 674L1847.5 852.3M1686.5 673.7L1828.2 898.1M1745.3 687.2L1694.7 830.1M1744.3 686L1846.9 800.4M1744.5 686.8L1691.7 984.1M1743.7 686.6L1808.6 944.5M1790.1 709.2L1825.8 751.8M1788.9 710.4L1847 800.5M1788.1 710.8L1693.1 829.5M1788.1 710.8L1846.2 853.4M1895.5 698.8L1824.9 754.7M1826.2 752.3L1848.5 799.9M1823.9 753.4L1846.2 853.4M1823.9 753.4L1693.1 829.5M1848.8 800.9L1848.8 853.4M1847.1 801.1L1826.9 899.6M1847.9 801.4L1810.3 944.9M1847 801.3L1755.3 968.2M1846.5 802.6L1693.4 831.2M1846.9 801.5L1691.5 984.5M1847 800.7L1903 961.3M1846.7 801.7L1595 951.4M1848.8 800.8L1858.1 1056.2M1847.8 854.1L1827.6 900.1M1847.8 854.1L1810.2 945.1M1846.1 854.3L1692.9 830.4M1847.3 854.7L1692 985.2M1847.9 853.4L1857.3 1056.3M1845.4 853.7L1903.5 1032.7M1693.5 828.8L1826.4 898.7M1693.1 829.5L1754.6 967.8M1693.7 830.1L1595.2 951.2M1826.8 899.7L1809.4 944.8M1826.6 900L1755.2 968.4M1826.5 900.2L1691.3 984.7M1826.2 900.3L1594.8 951.5M1826.4 900.2L1642.1 974.2M1827.7 899L1879.6 1101.6M1826.1 900.3L1554.8 906.5M1809 945.3L1754.9 968.6M1808.9 945.3L1691.2 984.7M1808.9 942.8L1902.5 959.9M1808.8 945.3L1641.9 974.2M1808.7 945.3L1594.6 951.5M1810.2 943.8L1857.1 1055.7M1808.4 946.2L1554.5 907.3M1902.3 964.1L1754.7 970.3M1902.9 961.9L1856.3 1056.7M1755 969.4L1691.3 985.6M1754.6 968.6L1641.8 974.2M1754.5 968.6L1594.5 951.5M1754.6 967.8L1554.8 905.6M1756.3 965.9L1857.2 1054.4M1755.3 966.2L1905 1030.8M1756.3 967.5L1778.9 1103.6M1755.8 966.6L1879.2 1100.9M1754.6 967.8L1635 1115.4M1690.7 984.8L1641.6 974.2M1690.6 984.7L1594.3 951.5M1690.9 983.9L1554.8 905.6M1690.9 983.9L1877.9 1102M1691.6 983.4L1778 1103.4M1691.2 983.2L1855.9 1055.6M1641.1 974.9L1593.8 952.2M1640.8 974.7L1553.8 907M1643.6 971.5L1779 1102M1642.4 972.7L1718.5 1040.2M1593.9 951.3L1554.2 906.2M1719.8 1039L1779.1 1102.1M1778.2 1105.3L1703.9 1151M1856.3 1056L1878.7 1101.6M1855.2 1055.6L1904 1031.6" stroke="#b2c814" stroke-width="1.08" fill="none"/>
<path d="M1544.2 779.3L1579 732.1M1544 779.9L1554 905.7M1543.7 781.1L1753.4 969M1544.6 779L1417.2 828.7M1545.1 779L1846.4 852.6M1545.6 781.4L1744.4 688.1M1418.3 829.7L1405 915.1M1418.4 828.1L1642.7 971.9M1417 830.2L1594.1 951.4M1405 914.9L1407.5 987.9M1404.5 915.7L1534.4 847.4M1404 915.8L1594.4 951.5M1403.7 916.6L1641.4 975M1404.1 915L1690.9 983.9M1404 915.8L1754.5 968.6M1404.2 916.7L1554.9 907.3M1498.2 1025.1L1596.1 952.7M1497.5 1023.3L1534.8 846.8M1497 1023.9L1642.1 974.2M1496.2 1023.8L1567.1 1070.4M1497.2 1025.6L1691.4 986.4M1497.9 1024.3L1694.3 830.7M1568.4 1069.9L1595.4 950.9M1567.1 1070.4L1634.5 1116.1M1568.4 1069.6L1555.7 905.6M1534.2 848.3L1693.2 831.2M1533.8 847.4L1825.9 900.3M1533.4 848.2L1808.1 946.1M1534 846.6L1641.8 973.4M1534.8 846.3L1555.6 905.4M1535.6 847.2L1581.2 733.2M1534.6 848.2L1895 699M1579.1 731.9L1627.6 694.6M1579.9 733.4L1743.9 687.4M1579.7 732.6L1754.6 967.8M1580.1 733.3L1684.8 675.9M1580.2 732L1809.2 943.9M1628.7 696.9L1684.9 676.7M1625.8 696.4L1690.8 830.6M1684 676.8L1743.4 688.3M1683.3 676.5L1845.2 802.3M1684.4 675.1L1846.2 853.4M1683.6 675.6L1825.3 899.9M1743.7 686.6L1754.6 967.8M1742.9 686.5L1690.1 983.8M1788.8 710.3L1824.5 752.9M1787.4 711.3L1845.5 801.4M1893.3 696.1L1822.8 752.1M1824.6 753L1847 800.6M1847.1 800.9L1847.1 853.4M1845.4 800.8L1825.2 899.3M1844.6 800.5L1807 944M1845.5 800.5L1753.8 967.4M1845.4 801.2L1901.4 961.8M1845.8 800.2L1594.1 950M1847.1 800.9L1856.4 1056.3M1844.7 852.8L1824.5 898.7M1846.2 853.4L1808.6 944.5M1846.2 853.4L1754.6 967.8M1845.1 852.1L1689.8 982.6M1846.2 853.4L1855.6 1056.3M1692.7 830.3L1825.6 900.2M1693.7 828.9L1809.2 943.9M1692.4 829L1593.9 950.2M1693.5 830.3L1555.2 906.4M1825.2 899.1L1807.8 944.2M1825.6 898.7L1690.4 983.2M1824.4 899.9L1876.3 1102.4M1808.4 943.7L1690.6 983.1M1808.6 944.5L1902.2 961.6M1808.5 943.6L1641.7 972.5M1807.8 944.3L1776.4 1103.7M1808.6 944.5L1855.6 1056.3M1808.6 944.5L1554.8 905.6M1902.2 962.4L1754.6 968.6M1901.4 961.2L1854.8 1056M1902.2 961.6L1777.3 1103.9M1902.1 960.7L1690.8 983.1M1754.7 966.9L1594.7 949.8M1754 968.4L1855 1057M1753.9 969.3L1903.7 1034M1752.9 968.1L1775.6 1104.1M1753.3 968.9L1876.7 1103.2M1691.1 983.1L1642 972.5M1691.2 983.1L1594.9 949.9M1690 984L1702.2 1149.6M1690.2 984.4L1776.6 1104.4M1690.5 984.7L1855.2 1057.1M1642.4 972.8L1777.9 1103.3M1595.2 950.1L1555.4 905.1M1717.3 1041.4L1776.6 1104.4M1776.4 1102.4L1702.1 1148.1M1855.9 1057.1L1904.7 1033.2" stroke="#d028d0" stroke-width="1.08" fill="none"/>
<path d="M1545.5 780.3L1580.3 733.1M1544.9 779.8L1534 846.6M1544.9 779.8L1754.6 967.8M1544.4 780.5L1808.2 945.2M1416.6 829.4L1403.3 914.8M1417.5 830.4L1693.1 830.4M1417.5 829.5L1641.8 973.4M1403.3 915L1405.8 988M1404.1 915L1496.7 1023.1M1404.1 915L1641.8 973.4M1404.1 915L1554.8 905.6M1407 988.7L1555.2 906.4M1497.2 1023.8L1595.1 951.4M1497.2 1022.4L1568 1069M1496.9 1023.9L1691.1 984.8M1496.7 1023.1L1693.1 829.5M1567.5 1069.7L1641.8 973.4M1568 1069L1635.4 1114.7M1534 846.6L1846.2 800.9M1534 846.6L1808.6 944.5M1532.5 847.5L1593.1 951.5M1532.7 847.7L1640.5 974.5M1534 846.6L1894.4 697.5M1580.2 733.3L1628.6 696M1580.2 731.9L1693.6 828.9M1578.1 733.3L1689.3 984.6M1579.7 732.6L1846.2 800.9M1628.1 695.3L1684.4 675.1M1628.2 696.2L1743.8 687.5M1628.9 694.9L1693.8 829.2M1684.4 675.1L1743.7 686.6M1683.5 675.2L1692.2 829.6M1684.4 675.1L1846.2 800.9M1683.1 676.3L1845 854.6M1685.1 674.7L1826.8 899M1742.1 686L1691.5 829M1743.1 687.2L1845.6 801.5M1787.5 711.4L1823.2 753.9M1894.4 697.5L1823.9 753.4M1823.1 753.8L1845.5 801.3M1845.4 800.9L1845.4 853.4M1845.9 799.3L1692.8 827.9M1845.6 800.4L1690.2 983.4M1845.4 801L1854.7 1056.4M1846.2 853.4L1826 899.4M1844.7 852.8L1807.1 943.8M1847.6 854.5L1755.9 968.8M1846.4 852.6L1693.2 828.7M1844.5 853.5L1853.9 1056.4M1692.7 828.8L1554.4 904.9M1825.5 898.8L1754 967.2M1825.7 898.6L1641.5 972.6M1826 899.4L1877.9 1102M1808.3 946.2L1901.9 963.2M1808.6 943.6L1594.5 949.8M1809.5 944.6L1778.1 1104M1808.9 942.8L1555.1 904M1902.1 960.7L1754.5 966.9M1754.6 967.8L1690.9 983.9M1755.1 967.1L1856.1 1055.7M1754.6 967.8L1904.3 1032.4M1754.6 967.8L1777.3 1103.9M1691.7 983.9L1703.9 1149.5M1641.8 973.4L1594.6 950.7M1642.8 972L1555.8 904.3M1641.2 974L1776.7 1104.5M1718.5 1040.2L1777.9 1103.3M1777.3 1103.9L1703 1149.5" stroke="#22b0e0" stroke-width="1.08" fill="none"/>
<path d="M1544.8 780.7L1846.2 801.8M1544.6 780.6L1692.8 830.3M1546.9 781.3L1581.7 734.1M1544.2 780.3L1690.2 984.4M1544.5 780.6L1825.7 900.2M1544.7 780.6L1846 854.3M1544.9 779.8L1743.7 686.6M1430.5 766.8L1642.4 972.8M1415 829.1L1401.6 914.6M1417.4 830.4L1533.9 847.5M1416.6 831L1640.9 974.8M1401.6 915.1L1404.1 988.1M1403.7 916.6L1690.5 985.6M1406.7 988.8L1641.9 974.2M1496.2 1022.4L1594.1 950M1495.3 1025.2L1566.1 1071.8M1496.5 1022.3L1690.7 983.1M1568.9 1070.7L1643.1 974.4M1566.1 1071.8L1633.5 1117.5M1568 1070.4L1691.4 984.6M1534 846.6L1693.1 829.5M1533.6 847.4L1754.2 968.5M1534 846.6L1594.6 950.7M1533.2 846.9L1554 905.9M1534 846.6L1579.7 732.6M1534.2 847.4L1824.1 754.2M1581.2 734.6L1629.7 697.3M1579.1 733.2L1692.5 830.2M1578.3 733.6L1753.2 968.8M1579.2 734.2L1845.8 802.6M1579.1 733.2L1808.1 945.1M1627.4 695.7L1692.3 829.9M1628.1 695.3L1690.9 983.9M1683.5 675.1L1690 984M1682.2 676.5L1823.9 900.8M1786.2 712.5L1821.9 755M1821.6 754.5L1843.9 802M1843.7 800.9L1843.7 853.4M1846.2 800.9L1693.1 829.5M1843.7 801L1853 1056.4M1844.9 852.4L1753.3 966.7M1846.2 853.4L1690.9 983.9M1847 853.2L1905.1 1032.1M1692.5 830.1L1808 945.1M1693.1 829.5L1690.9 983.9M1825.9 898.6L1594.4 949.9M1808.3 943.7L1754.2 967M1807.1 945.1L1854 1057M1902.1 959L1754.5 965.2M1902.3 962.4L1691 984.8M1754.2 966.1L1690.5 982.3M1754.5 966.9L1641.8 972.5M1754.6 967.8L1877.9 1102M1642.5 971.8L1595.3 949.2M1641.8 973.4L1554.8 905.6M1640 975.2L1775.5 1105.7M1641.2 974L1717.4 1041.4M1716.1 1042.5L1775.4 1105.6M1854.8 1056.7L1877.2 1102.4" stroke="#2a2a2a" stroke-width="1.08" fill="none"/>
<path d="M1544.3 779.2L1403.5 914.4M1533.4 847.3L1690.3 984.6M1578 734.5L1691.4 831.5M1579.7 732.6L1690.9 983.9M1577.9 734.5L1806.9 946.4M1743.7 686.6L1693.1 829.5M1846.2 800.9L1808.6 944.5M1693.1 829.5L1641.8 973.4M1826 898.6L1554.8 904.8M1752.9 969.7L1853.9 1058.2" stroke="#a8a8f4" stroke-width="1.08" fill="none"/>
<circle cx="1685.3" cy="676.9" r="15" fill="#555" fill-opacity="0.3"/>
<circle cx="1684.4" cy="675.1" r="14.4" fill="#c9c98a" stroke="#7c7c55" stroke-width="0.9"/>
<circle cx="1684.4" cy="675.1" r="14.4" fill="url(#gloss)"/>
<path d="M1684.1 676.3L1679.4 680L1676.4 680L1681.5 675.8L1682.2 677L1676.4 675.8L1679 675.3L1681.9 671.9L1678.5 671.6L1678.6 675.8L1679.8 678.6L1678.3 681L1676.4 679L1678.6 681.2L1677.6 677.1L1676.4 674.2L1676.4 677.3" stroke="#3858c0" stroke-width="0.7" stroke-opacity="0.75" fill="none" stroke-linejoin="round"/>
<ellipse cx="1684.4" cy="668.7" rx="10.2" ry="6.8" fill="url(#hl)"/>
<circle cx="1744.6" cy="688.4" r="15" fill="#555" fill-opacity="0.3"/>
<circle cx="1743.7" cy="686.6" r="14.4" fill="#b5c97a" stroke="#707c4b" stroke-width="0.9"/>
<circle cx="1743.7" cy="686.6" r="14.4" fill="url(#gloss)"/>
<path d="M1745.4 685.6L1744.2 689.6L1748.7 686L1745.3 688.3L1749.9 693L1743.4 695.1L1739.5 695.1L1737.3 695.1L1735.7 695.1L1735.7 695.1L1736.2 692.1L1735.7 689L1739.2 691L1735.7 695.1L1738.6 690.5L1735.7 692.3L1740.3 694.8" stroke="#20a0a0" stroke-width="0.7" stroke-opacity="0.75" fill="none" stroke-linejoin="round"/>
<ellipse cx="1743.7" cy="680.2" rx="10.2" ry="6.8" fill="url(#hl)"/>
<circle cx="1629" cy="697.1" r="15" fill="#555" fill-opacity="0.3"/>
<circle cx="1628.1" cy="695.3" r="14.4" fill="#c3cf96" stroke="#78805d" stroke-width="0.9"/>
<circle cx="1628.1" cy="695.3" r="14.4" fill="url(#gloss)"/>
<path d="M1632.1 700.3L1627.2 702.3L1633 699.7L1634.5 695.1L1632.7 696.9L1633.9 699.6L1628.5 698.1L1633.3 698.9L1632.6 698L1636.1 698.7L1629.9 701.7L1627.6 701L1623.9 700.5L1621.6 696.4L1623.3 692.4L1627 691.8L1630.7 694.9" stroke="#d07020" stroke-width="0.7" stroke-opacity="0.75" fill="none" stroke-linejoin="round"/>
<ellipse cx="1628.1" cy="688.9" rx="10.2" ry="6.8" fill="url(#hl)"/>
<circle cx="1789" cy="712.6" r="15" fill="#555" fill-opacity="0.3"/>
<circle cx="1788.1" cy="710.8" r="14.4" fill="#8fd6a8" stroke="#588468" stroke-width="0.9"/>
<circle cx="1788.1" cy="710.8" r="14.4" fill="url(#gloss)"/>
<path d="M1786.9 714.5L1787.8 710.2L1789.7 707.3L1793.1 707.4L1796.1 708L1791.4 707.3L1793.9 711.1L1787.8 715.5L1791.9 713.1L1787.5 709.3L1782.9 707.3L1782.3 710.2L1780.1 707.3L1784 707.3L1783.8 707.3L1789.8 709.8L1787.1 707.3" stroke="#d07020" stroke-width="0.7" stroke-opacity="0.75" fill="none" stroke-linejoin="round"/>
<ellipse cx="1788.1" cy="704.4" rx="10.2" ry="6.8" fill="url(#hl)"/>
<circle cx="1895.3" cy="699.3" r="15" fill="#555" fill-opacity="0.3"/>
<circle cx="1894.4" cy="697.5" r="14.4" fill="#8ed8b4" stroke="#58856f" stroke-width="0.9"/>
<circle cx="1894.4" cy="697.5" r="14.4" fill="url(#gloss)"/>
<path d="M1894 700.7L1897.4 699.5L1902.4 696.2L1902.4 698.9L1902.4 698.9L1897.2 694.4L1897.6 694L1899.2 694L1902.4 694L1896.1 694L1895.5 694.6L1894 694L1893.8 698.4L1894.3 702.9L1888.1 706L1893.2 706L1893.5 706" stroke="#c050b0" stroke-width="0.7" stroke-opacity="0.75" fill="none" stroke-linejoin="round"/>
<ellipse cx="1894.4" cy="691.1" rx="10.2" ry="6.8" fill="url(#hl)"/>
<circle cx="1580.6" cy="734.4" r="15" fill="#555" fill-opacity="0.3"/>
<circle cx="1579.7" cy="732.6" r="14.4" fill="#8fcfae" stroke="#58806b" stroke-width="0.9"/>
<circle cx="1579.7" cy="732.6" r="14.4" fill="url(#gloss)"/>
<path d="M1582.7 735L1587.7 730.7L1584.1 729.1L1578.9 729.1L1573.2 733L1576.1 734.8L1571.7 732.2L1571.7 730.9L1577.7 731.6L1577.6 729.1L1579.2 729.1L1573.3 729.1L1574.5 729.1L1571.7 731.6L1571.7 729.1L1573.3 729.6L1573 731.6" stroke="#c050b0" stroke-width="0.7" stroke-opacity="0.75" fill="none" stroke-linejoin="round"/>
<ellipse cx="1579.7" cy="726.2" rx="10.2" ry="6.8" fill="url(#hl)"/>
<circle cx="1824.8" cy="755.2" r="15" fill="#555" fill-opacity="0.3"/>
<circle cx="1823.9" cy="753.4" r="14.4" fill="#9cc7df" stroke="#607b8a" stroke-width="0.9"/>
<circle cx="1823.9" cy="753.4" r="14.4" fill="url(#gloss)"/>
<path d="M1822.5 757.1L1816.1 761.6L1817.3 761.9L1823.6 761.9L1818.5 760.4L1815.9 761.9L1815.9 759.1L1815.9 755.3L1821.6 760.1L1819.9 761.9L1819.5 761.9L1817.8 761.9L1815.9 759.5L1816.1 756.4L1815.9 760.9L1815.9 756.9L1819.8 752.5" stroke="#28a848" stroke-width="0.7" stroke-opacity="0.75" fill="none" stroke-linejoin="round"/>
<ellipse cx="1823.9" cy="747" rx="10.2" ry="6.8" fill="url(#hl)"/>
<circle cx="1430.8" cy="769.2" r="15" fill="#555" fill-opacity="0.3"/>
<circle cx="1429.9" cy="767.4" r="14.4" fill="#d9a695" stroke="#86665c" stroke-width="0.9"/>
<circle cx="1429.9" cy="767.4" r="14.4" fill="url(#gloss)"/>
<path d="M1429.7 768.3L1434.6 769.7L1436.9 766L1430.9 763.9L1429 768.7L1427.8 763.9L1434 763.9L1437.9 763.9L1437.1 763.9L1434.8 764.5L1437.9 768.4L1437 764.2L1434.4 763.9L1437.9 763.9L1436.4 763.9L1430.7 763.9L1428.3 763.9" stroke="#3858c0" stroke-width="0.7" stroke-opacity="0.75" fill="none" stroke-linejoin="round"/>
<ellipse cx="1429.9" cy="761" rx="10.2" ry="6.8" fill="url(#hl)"/>
<circle cx="1545.8" cy="781.6" r="15" fill="#555" fill-opacity="0.3"/>
<circle cx="1544.9" cy="779.8" r="14.4" fill="#d9a9a4" stroke="#866865" stroke-width="0.9"/>
<circle cx="1544.9" cy="779.8" r="14.4" fill="url(#gloss)"/>
<ellipse cx="1544.9" cy="773.4" rx="10.2" ry="6.8" fill="url(#hl)"/>
<circle cx="1847.1" cy="802.7" r="15" fill="#555" fill-opacity="0.3"/>
<circle cx="1846.2" cy="800.9" r="14.4" fill="#3f4fa8" stroke="#273068" stroke-width="0.9"/>
<circle cx="1846.2" cy="800.9" r="14.4" fill="url(#gloss)"/>
<path d="M1847.9 803.9L1843.2 805.1L1841.1 804.6L1842.5 807.2L1847.5 809.4L1843.7 809.4L1841.6 804.6L1842.3 804.3L1847 802.6L1851.4 802.7L1846.2 804.9L1843.4 805.2L1838.2 800.3L1843.7 797.4L1839.1 797.4L1838.2 800.7L1844.7 802.2" stroke="#d07020" stroke-width="0.7" stroke-opacity="0.75" fill="none" stroke-linejoin="round"/>
<ellipse cx="1846.2" cy="794.5" rx="10.2" ry="6.8" fill="url(#hl)"/>
<circle cx="1418.4" cy="831.3" r="15" fill="#555" fill-opacity="0.3"/>
<circle cx="1417.5" cy="829.5" r="14.4" fill="#9addb0" stroke="#5f896d" stroke-width="0.9"/>
<circle cx="1417.5" cy="829.5" r="14.4" fill="url(#gloss)"/>
<path d="M1416.6 832L1421.4 832.1L1419.5 836.6L1415.7 838L1416.5 838L1420.1 834.8L1415.9 832.9L1420.9 830.7L1421.2 833.2L1420.2 838L1415 835.8L1415.2 835.6L1421.6 832.4L1417 834.2L1420.2 829.7L1417.3 828.1L1418.3 828.5" stroke="#20a0a0" stroke-width="0.7" stroke-opacity="0.75" fill="none" stroke-linejoin="round"/>
<ellipse cx="1417.5" cy="823.1" rx="10.2" ry="6.8" fill="url(#hl)"/>
<circle cx="1694" cy="831.3" r="15" fill="#555" fill-opacity="0.3"/>
<circle cx="1693.1" cy="829.5" r="14.4" fill="#a5dba0" stroke="#668763" stroke-width="0.9"/>
<circle cx="1693.1" cy="829.5" r="14.4" fill="url(#gloss)"/>
<path d="M1695.2 831.2L1693.1 833.7L1688.3 833L1688.5 836.3L1689.4 831.4L1690.1 826.9L1693.7 826L1692 826L1695.9 829.9L1695.1 832.2L1691.1 828.1L1686.7 829L1691.8 826.6L1688.5 826.3L1688.9 828.9L1685.1 830.5L1685.1 827.8" stroke="#3858c0" stroke-width="0.7" stroke-opacity="0.75" fill="none" stroke-linejoin="round"/>
<ellipse cx="1693.1" cy="823.1" rx="10.2" ry="6.8" fill="url(#hl)"/>
<circle cx="1534.9" cy="848.4" r="15" fill="#555" fill-opacity="0.3"/>
<circle cx="1534" cy="846.6" r="14.4" fill="#8bb4dc" stroke="#566f88" stroke-width="0.9"/>
<circle cx="1534" cy="846.6" r="14.4" fill="url(#gloss)"/>
<path d="M1530.2 849.9L1531.3 854.6L1533.4 853L1536.1 851.3L1534.7 847.1L1538.9 844.5L1538.4 846.5L1536 849.9L1541 852L1542 854.9L1542 853.7L1542 855.1L1542 855.1L1535.9 855.1L1531.2 854.3L1534.5 855.1L1536.6 855.1" stroke="#7060c0" stroke-width="0.7" stroke-opacity="0.75" fill="none" stroke-linejoin="round"/>
<ellipse cx="1534" cy="840.2" rx="10.2" ry="6.8" fill="url(#hl)"/>
<circle cx="1847.1" cy="855.2" r="15" fill="#555" fill-opacity="0.3"/>
<circle cx="1846.2" cy="853.4" r="14.4" fill="#b9d795" stroke="#72855c" stroke-width="0.9"/>
<circle cx="1846.2" cy="853.4" r="14.4" fill="url(#gloss)"/>
<path d="M1850 855.6L1846.7 856.7L1852.6 855.2L1846.3 852.1L1840.5 852.4L1838.2 855.9L1838.2 851.1L1838.2 849.9L1838.2 849.9L1838.2 851.3L1843.9 850L1845.7 849.9L1851.1 850.5L1845 852.9L1841.2 849.9L1838.2 853.3L1841 851.9" stroke="#7060c0" stroke-width="0.7" stroke-opacity="0.75" fill="none" stroke-linejoin="round"/>
<ellipse cx="1846.2" cy="847" rx="10.2" ry="6.8" fill="url(#hl)"/>
<circle cx="1555.7" cy="907.4" r="15" fill="#555" fill-opacity="0.3"/>
<circle cx="1554.8" cy="905.6" r="14.4" fill="#d7b19c" stroke="#856d60" stroke-width="0.9"/>
<circle cx="1554.8" cy="905.6" r="14.4" fill="url(#gloss)"/>
<path d="M1557 910.1L1551.7 909.2L1550.7 905.9L1547.4 902.5L1548.3 902.1L1551 902.1L1552.8 904.4L1553 903.5L1548.6 903.9L1546.8 902.1L1546.8 906.9L1546.8 909.5L1546.8 908.1L1549.8 909.7L1548.6 908.4L1547 913.3L1551 913.4" stroke="#20a0a0" stroke-width="0.7" stroke-opacity="0.75" fill="none" stroke-linejoin="round"/>
<ellipse cx="1554.8" cy="899.2" rx="10.2" ry="6.8" fill="url(#hl)"/>
<circle cx="1826.9" cy="901.2" r="15" fill="#555" fill-opacity="0.3"/>
<circle cx="1826" cy="899.4" r="14.4" fill="#e3b99a" stroke="#8c725f" stroke-width="0.9"/>
<circle cx="1826" cy="899.4" r="14.4" fill="url(#gloss)"/>
<path d="M1823.5 902.3L1827.4 903.8L1826.4 899L1825.6 897.9L1831.3 902.6L1834 907.4L1829.7 902.7L1827 897.8L1822.1 898.5L1818.2 899.6L1818 897.4L1824.1 895.9L1829.1 896.2L1831.2 895.9L1834 899.8L1830.1 899.6L1832.1 899.3" stroke="#7060c0" stroke-width="0.7" stroke-opacity="0.75" fill="none" stroke-linejoin="round"/>
<ellipse cx="1826" cy="893" rx="10.2" ry="6.8" fill="url(#hl)"/>
<circle cx="1405" cy="916.8" r="15" fill="#555" fill-opacity="0.3"/>
<circle cx="1404.1" cy="915" r="14.4" fill="#a98bd8" stroke="#685685" stroke-width="0.9"/>
<circle cx="1404.1" cy="915" r="14.4" fill="url(#gloss)"/>
<path d="M1405.3 915.8L1407.6 918.6L1407.2 919.5L1408.9 919.3L1403.6 918.3L1407.2 920.6L1401.6 920.3L1402.8 920.7L1398.2 922.1L1400.8 922.5L1406.5 923.3L1400.2 921.1L1402.8 916.9L1408.8 918.9L1412.1 915.6L1405.7 919.3L1405.8 918.8" stroke="#7060c0" stroke-width="0.7" stroke-opacity="0.75" fill="none" stroke-linejoin="round"/>
<ellipse cx="1404.1" cy="908.6" rx="10.2" ry="6.8" fill="url(#hl)"/>
<circle cx="1595.5" cy="952.5" r="15" fill="#555" fill-opacity="0.3"/>
<circle cx="1594.6" cy="950.7" r="14.4" fill="#9dd5c0" stroke="#618477" stroke-width="0.9"/>
<circle cx="1594.6" cy="950.7" r="14.4" fill="url(#gloss)"/>
<path d="M1598.2 955.7L1595.9 952.4L1598.5 950.6L1601.2 948.9L1595.7 951.8L1601.3 949.6L1596 950.2L1593.4 947.2L1592.1 947.2L1589.5 947.2L1586.9 947.2L1587 952.1L1586.6 953.9L1586.6 949.6L1586.6 951.3L1592.4 947.2L1597.5 950" stroke="#d07020" stroke-width="0.7" stroke-opacity="0.75" fill="none" stroke-linejoin="round"/>
<ellipse cx="1594.6" cy="944.3" rx="10.2" ry="6.8" fill="url(#hl)"/>
<circle cx="1809.5" cy="946.3" r="15" fill="#555" fill-opacity="0.3"/>
<circle cx="1808.6" cy="944.5" r="14.4" fill="#9ccb92" stroke="#607d5a" stroke-width="0.9"/>
<circle cx="1808.6" cy="944.5" r="14.4" fill="url(#gloss)"/>
<path d="M1810.5 944.4L1805.1 948.5L1800.6 951.1L1804.7 948.6L1803.1 945.9L1805.8 950.6L1809 950.5L1809.4 949.6L1812.2 947.3L1808.9 949.3L1805.7 953L1808.7 949.8L1802.5 950.8L1800.6 950.8L1801.9 953L1800.6 953L1804.7 949.3" stroke="#28a848" stroke-width="0.7" stroke-opacity="0.75" fill="none" stroke-linejoin="round"/>
<ellipse cx="1808.6" cy="938.1" rx="10.2" ry="6.8" fill="url(#hl)"/>
<circle cx="1903.1" cy="963.4" r="15" fill="#555" fill-opacity="0.3"/>
<circle cx="1902.2" cy="961.6" r="14.4" fill="#b7ad62" stroke="#716b3c" stroke-width="0.9"/>
<circle cx="1902.2" cy="961.6" r="14.4" fill="url(#gloss)"/>
<path d="M1904.6 962L1905.2 963.2L1900.1 958.2L1901 962.7L1902.9 964.5L1903.4 966L1897 965.6L1899.4 964L1897.7 961.9L1894.2 963L1894.2 966.4L1894.2 967.1L1898.1 962.3L1900.6 963.3L1902.3 962.4L1901.2 964.6L1898.4 966.1" stroke="#c050b0" stroke-width="0.7" stroke-opacity="0.75" fill="none" stroke-linejoin="round"/>
<ellipse cx="1902.2" cy="955.2" rx="10.2" ry="6.8" fill="url(#hl)"/>
<circle cx="1642.7" cy="975.2" r="15" fill="#555" fill-opacity="0.3"/>
<circle cx="1641.8" cy="973.4" r="14.4" fill="#c5d49f" stroke="#7a8362" stroke-width="0.9"/>
<circle cx="1641.8" cy="973.4" r="14.4" fill="url(#gloss)"/>
<path d="M1641.1 974.1L1643 970.6L1642.7 969.9L1641 973.8L1641.9 975.2L1643.8 970.3L1647.5 974L1649.8 974.2L1649.8 978.7L1646.9 975.3L1644.8 970.5L1641.3 969.9L1635 969.9L1633.8 969.9L1638.4 972L1633.8 974.3L1633.8 977.3" stroke="#20a0a0" stroke-width="0.7" stroke-opacity="0.75" fill="none" stroke-linejoin="round"/>
<ellipse cx="1641.8" cy="967" rx="10.2" ry="6.8" fill="url(#hl)"/>
<circle cx="1755.5" cy="969.6" r="15" fill="#555" fill-opacity="0.3"/>
<circle cx="1754.6" cy="967.8" r="14.4" fill="#e6cda2" stroke="#8e7f64" stroke-width="0.9"/>
<circle cx="1754.6" cy="967.8" r="14.4" fill="url(#gloss)"/>
<path d="M1753 967.2L1753.7 970.2L1755.9 970.4L1750.6 966.2L1748.3 965.8L1750.4 967.9L1752.5 968.9L1747.3 972.9L1752.3 975.6L1749.2 971.2L1747.4 967L1746.6 965.2L1746.6 964.3L1750.4 964.3L1746.6 964.3L1746.6 965.7L1749.2 964.3" stroke="#3858c0" stroke-width="0.7" stroke-opacity="0.75" fill="none" stroke-linejoin="round"/>
<ellipse cx="1754.6" cy="961.4" rx="10.2" ry="6.8" fill="url(#hl)"/>
<circle cx="1691.8" cy="985.7" r="15" fill="#555" fill-opacity="0.3"/>
<circle cx="1690.9" cy="983.9" r="14.4" fill="#e0585b" stroke="#8a3638" stroke-width="0.9"/>
<circle cx="1690.9" cy="983.9" r="14.4" fill="url(#gloss)"/>
<ellipse cx="1690.9" cy="977.5" rx="10.2" ry="6.8" fill="url(#hl)"/>
<circle cx="1407.5" cy="989.8" r="15" fill="#555" fill-opacity="0.3"/>
<circle cx="1406.6" cy="988" r="14.4" fill="#9cd9bc" stroke="#608674" stroke-width="0.9"/>
<circle cx="1406.6" cy="988" r="14.4" fill="url(#gloss)"/>
<path d="M1407.9 990.4L1407.3 990L1413.7 991L1414.6 988.2L1414.2 985.9L1408.5 986.7L1403.9 984.5L1398.8 984.5L1398.6 984.5L1398.6 984.5L1398.6 984.5L1404.7 984.6L1401.5 984.6L1400.8 984.5L1404.5 984.5L1401.8 984.5L1408.2 988.5" stroke="#28a848" stroke-width="0.7" stroke-opacity="0.75" fill="none" stroke-linejoin="round"/>
<ellipse cx="1406.6" cy="981.6" rx="10.2" ry="6.8" fill="url(#hl)"/>
<circle cx="1497.6" cy="1024.9" r="15" fill="#555" fill-opacity="0.3"/>
<circle cx="1496.7" cy="1023.1" r="14.4" fill="#4c9a40" stroke="#2f5f27" stroke-width="0.9"/>
<circle cx="1496.7" cy="1023.1" r="14.4" fill="url(#gloss)"/>
<path d="M1493.9 1022.5L1488.7 1019.6L1491.6 1020.5L1488.7 1024.9L1495 1024L1493.2 1027.8L1495.4 1030.2L1491.3 1031.6L1490.5 1027.1L1488.7 1024.8L1488.7 1022.5L1494.1 1021.4L1490.3 1019.6L1488.7 1019.6L1488.7 1019.6L1488.9 1019.6L1488.7 1019.6" stroke="#3858c0" stroke-width="0.7" stroke-opacity="0.75" fill="none" stroke-linejoin="round"/>
<ellipse cx="1496.7" cy="1016.7" rx="10.2" ry="6.8" fill="url(#hl)"/>
<circle cx="1905.2" cy="1034.2" r="15" fill="#555" fill-opacity="0.3"/>
<circle cx="1904.3" cy="1032.4" r="14.4" fill="#a5dce0" stroke="#66888a" stroke-width="0.9"/>
<circle cx="1904.3" cy="1032.4" r="14.4" fill="url(#gloss)"/>
<path d="M1903.6 1031.7L1901.9 1030.7L1899.2 1031.2L1896.3 1033.3L1902.1 1032.5L1904.1 1032.3L1901.6 1029.7L1907.7 1034.6L1910.5 1035.6L1904.8 1034.8L1906.9 1039.5L1903 1040.9L1908.2 1038.4L1909 1037L1912.3 1040.9L1906.7 1040.9L1904.2 1040.9" stroke="#3858c0" stroke-width="0.7" stroke-opacity="0.75" fill="none" stroke-linejoin="round"/>
<ellipse cx="1904.3" cy="1026" rx="10.2" ry="6.8" fill="url(#hl)"/>
<circle cx="1718.8" cy="1042.6" r="15" fill="#555" fill-opacity="0.3"/>
<circle cx="1717.9" cy="1040.8" r="14.4" fill="#3fa8a0" stroke="#276863" stroke-width="0.9"/>
<circle cx="1717.9" cy="1040.8" r="14.4" fill="url(#gloss)"/>
<ellipse cx="1717.9" cy="1034.4" rx="10.2" ry="6.8" fill="url(#hl)"/>
<circle cx="1856.5" cy="1058.1" r="15" fill="#555" fill-opacity="0.3"/>
<circle cx="1855.6" cy="1056.3" r="14.4" fill="#9fd9ce" stroke="#62867f" stroke-width="0.9"/>
<circle cx="1855.6" cy="1056.3" r="14.4" fill="url(#gloss)"/>
<path d="M1854.7 1058.4L1852.4 1059.3L1853 1056.1L1847.6 1058.6L1851.9 1057L1847.9 1053L1849.5 1053.8L1855.2 1055.6L1856.2 1056.5L1861.5 1060.7L1857.2 1056.9L1852.3 1052.8L1856.9 1057.5L1856.9 1060.1L1859 1061.6L1857.6 1064.8L1855.1 1060.8" stroke="#c050b0" stroke-width="0.7" stroke-opacity="0.75" fill="none" stroke-linejoin="round"/>
<ellipse cx="1855.6" cy="1049.9" rx="10.2" ry="6.8" fill="url(#hl)"/>
<circle cx="1568.4" cy="1071.5" r="15" fill="#555" fill-opacity="0.3"/>
<circle cx="1567.5" cy="1069.7" r="14.4" fill="#9edadb" stroke="#618787" stroke-width="0.9"/>
<circle cx="1567.5" cy="1069.7" r="14.4" fill="url(#gloss)"/>
<path d="M1569.3 1070.3L1566 1070.3L1565.3 1067.2L1563.6 1069.7L1559.5 1067.9L1559.5 1071.6L1560.8 1076.2L1559.5 1074.3L1561.6 1076.7L1565.2 1078.2L1568.4 1078.2L1567.8 1078.2L1572.4 1077L1567.8 1078.2L1565.4 1073.3L1559.9 1074.1L1561.5 1077.4" stroke="#c050b0" stroke-width="0.7" stroke-opacity="0.75" fill="none" stroke-linejoin="round"/>
<ellipse cx="1567.5" cy="1063.3" rx="10.2" ry="6.8" fill="url(#hl)"/>
<circle cx="1487.4" cy="1102.6" r="15" fill="#555" fill-opacity="0.3"/>
<circle cx="1486.5" cy="1100.8" r="14.4" fill="#ddb890" stroke="#897259" stroke-width="0.9"/>
<circle cx="1486.5" cy="1100.8" r="14.4" fill="url(#gloss)"/>
<path d="M1487.4 1100.4L1490.1 1097.3L1484.2 1097.3L1490.4 1097.3L1492.8 1097.3L1494.2 1097.3L1494.5 1099.6L1494.5 1100.1L1494.5 1097.3L1488.7 1097.3L1488 1099.9L1481.9 1097.3L1482.2 1097.3L1478.5 1097.3L1478.5 1097.3L1482.9 1097.3L1485.7 1097.3" stroke="#20a0a0" stroke-width="0.7" stroke-opacity="0.75" fill="none" stroke-linejoin="round"/>
<ellipse cx="1486.5" cy="1094.4" rx="10.2" ry="6.8" fill="url(#hl)"/>
<circle cx="1778.2" cy="1105.7" r="15" fill="#555" fill-opacity="0.3"/>
<circle cx="1777.3" cy="1103.9" r="14.4" fill="#9ad09a" stroke="#5f805f" stroke-width="0.9"/>
<circle cx="1777.3" cy="1103.9" r="14.4" fill="url(#gloss)"/>
<path d="M1773.8 1108.8L1775.4 1104.9L1773.8 1101.5L1769.3 1105.8L1770.4 1101.4L1769.3 1104.5L1775.5 1100.4L1773.2 1100.4L1779.2 1104.5L1775.5 1103L1772.9 1105L1771.8 1107.4L1770 1109.3L1769.3 1105.4L1771.7 1108.8L1769.3 1110.6L1769.3 1107.2" stroke="#d07020" stroke-width="0.7" stroke-opacity="0.75" fill="none" stroke-linejoin="round"/>
<ellipse cx="1777.3" cy="1097.5" rx="10.2" ry="6.8" fill="url(#hl)"/>
<circle cx="1878.8" cy="1103.8" r="15" fill="#555" fill-opacity="0.3"/>
<circle cx="1877.9" cy="1102" r="14.4" fill="#c9d398" stroke="#7c825e" stroke-width="0.9"/>
<circle cx="1877.9" cy="1102" r="14.4" fill="url(#gloss)"/>
<path d="M1878 1104.5L1873.5 1106.7L1870.4 1101.9L1876.4 1098.5L1880.3 1101.2L1879.3 1102.3L1876 1099.4L1881 1101.9L1884.5 1101.5L1878.4 1104.2L1884.4 1102.4L1885.9 1098.9L1885.9 1101L1880.2 1103L1882.5 1102.4L1883.6 1106.7L1885.9 1106.4" stroke="#28a848" stroke-width="0.7" stroke-opacity="0.75" fill="none" stroke-linejoin="round"/>
<ellipse cx="1877.9" cy="1095.6" rx="10.2" ry="6.8" fill="url(#hl)"/>
<circle cx="1635.9" cy="1117.2" r="15" fill="#555" fill-opacity="0.3"/>
<circle cx="1635" cy="1115.4" r="14.4" fill="#d3c98c" stroke="#827c56" stroke-width="0.9"/>
<circle cx="1635" cy="1115.4" r="14.4" fill="url(#gloss)"/>
<path d="M1636.1 1119L1636.8 1121.6L1640.4 1121.6L1639.9 1118.6L1641.9 1120.8L1640.7 1116.5L1643 1118L1643 1114.5L1643 1116.8L1643 1113.3L1640 1113.6L1633.6 1118.3L1629.3 1114.8L1633.2 1112.2L1634.1 1113.7L1630.3 1111.9L1632.9 1115.6" stroke="#20a0a0" stroke-width="0.7" stroke-opacity="0.75" fill="none" stroke-linejoin="round"/>
<ellipse cx="1635" cy="1109" rx="10.2" ry="6.8" fill="url(#hl)"/>
<circle cx="1551.7" cy="1129.6" r="15" fill="#555" fill-opacity="0.3"/>
<circle cx="1550.8" cy="1127.8" r="14.4" fill="#9adcd0" stroke="#5f8880" stroke-width="0.9"/>
<circle cx="1550.8" cy="1127.8" r="14.4" fill="url(#gloss)"/>
<path d="M1547.6 1128.8L1547 1124.3L1552 1127.6L1558.1 1131.7L1558.8 1129.7L1558.8 1133.4L1552.4 1129.2L1558.7 1125.1L1558.8 1124.3L1555.4 1124.3L1558.8 1125.8L1553.9 1129L1551.9 1132.2L1551.9 1135.9L1552.6 1134.4L1558.8 1136.3L1558.8 1136.3" stroke="#7060c0" stroke-width="0.7" stroke-opacity="0.75" fill="none" stroke-linejoin="round"/>
<ellipse cx="1550.8" cy="1121.4" rx="10.2" ry="6.8" fill="url(#hl)"/>
<circle cx="1703.9" cy="1151.3" r="15" fill="#555" fill-opacity="0.3"/>
<circle cx="1703" cy="1149.5" r="14.4" fill="#d98d98" stroke="#86575e" stroke-width="0.9"/>
<circle cx="1703" cy="1149.5" r="14.4" fill="url(#gloss)"/>
<path d="M1706.7 1150.5L1702.1 1154.3L1706.9 1157.2L1710.1 1153.9L1709.5 1149.8L1708.2 1146.6L1709.2 1150.3L1702.9 1151.1L1698.3 1152.6L1695 1149.8L1695 1147.2L1701.2 1150L1700.6 1154.7L1695.8 1152.2L1697.9 1153.2L1701.6 1154.2L1703.9 1152.8" stroke="#d07020" stroke-width="0.7" stroke-opacity="0.75" fill="none" stroke-linejoin="round"/>
<ellipse cx="1703" cy="1143.1" rx="10.2" ry="6.8" fill="url(#hl)"/>
<g font-size="9" stroke="#fff" stroke-width="1.8" stroke-opacity="0.75" paint-order="stroke" fill="#111">
<text x="1698" y="661.7">Irf4</text>
<text x="1757.7" y="672.3">Ccna2</text>
<text x="1642.1" y="682.6">Skp2</text>
<text x="1802.1" y="697.8">Il6st</text>
<text x="1907.8" y="683.8">Il1r2</text>
<text x="1593.6" y="718.9">Cdkn1a</text>
<text x="1837.8" y="740">Il6ra</text>
<text x="1443.9" y="753.7">Cldn5</text>
<text x="1558.8" y="766.5">Smad3</text>
<text x="1860.2" y="787.9">Stat5b</text>
<text x="1431.5" y="816.5">Bmp2</text>
<text x="1707" y="816.2">Foxo1</text>
<text x="1548" y="832.6">Il1b</text>
<text x="1860.2" y="839.8">Cd4</text>
<text x="1568.8" y="891.7">Rxra</text>
<text x="1840" y="885.8">Ikbkb</text>
<text x="1418.1" y="901.3">Serpine1</text>
<text x="1608.6" y="936.7">Pparg</text>
<text x="1822.6" y="930.5">Mtor</text>
<text x="1916.1" y="948.2">Ret</text>
<text x="1655.8" y="959.7">Nos3</text>
<text x="1768.6" y="954.1">Ccnd1</text>
<text x="1704.9" y="970.3">Nfkb1</text>
<text x="1420.6" y="974.6">Nr2f2</text>
<text x="1510.7" y="1009.1">Nr1h3</text>
<text x="1918.3" y="1019">Dll1</text>
<text x="1731.9" y="1027.4">F2rl3</text>
<text x="1869.5" y="1043">Fgfr1</text>
<text x="1581.5" y="1055.7">Ldlr</text>
<text x="1500.4" y="1087.4">Tnn</text>
<text x="1791.2" y="1090.5">Gnaq</text>
<text x="1891.9" y="1088.6">Ltbr</text>
<text x="1648.9" y="1102.3">Wnt7a</text>
<text x="1564.7" y="1114.7">Lama5</text>
<text x="1717" y="1136.2">Lpar1</text>
</g>
</g>
<g id="panelG">
<rect x="65.5" y="1213.3" width="582.5" height="253.1" rx="37" ry="37" fill="none" stroke="#4b7f24" stroke-width="2.8" stroke-dasharray="9.4 3.5"/>
<rect x="65.5" y="1502" width="582.5" height="254.3" rx="37" ry="37" fill="none" stroke="#4b7f24" stroke-width="2.8" stroke-dasharray="9.4 3.5"/>
<text x="53.5" y="1338" font-size="28.6" text-anchor="middle" transform="rotate(-90 53.5 1338)">Th17 related</text>
<text x="53.5" y="1627.5" font-size="28.7" text-anchor="middle" transform="rotate(-90 53.5 1627.5)">Treg related</text>
<path d="M162.8 1251.6V1428.7M200.2 1251.6V1428.7M237.8 1251.6V1428.7M275.2 1251.6V1428.7M312.8 1251.6V1428.7M125.2 1251.6V1428.7M113.1 1423.1H344.2M113.1 1392.5H344.2M113.1 1361.8H344.2M113.1 1331.2H344.2M113.1 1300.5H344.2M113.1 1269.9H344.2" stroke="#f1f1f1" stroke-width="0.6" fill="none"/>
<path d="M144 1251.6V1428.7M181.5 1251.6V1428.7M219 1251.6V1428.7M256.5 1251.6V1428.7M294 1251.6V1428.7M331.5 1251.6V1428.7M113.1 1407.8H344.2M113.1 1377.1H344.2M113.1 1346.5H344.2M113.1 1315.8H344.2M113.1 1285.2H344.2M113.1 1254.5H344.2" stroke="#e6e6e6" stroke-width="0.9" fill="none"/>
<path d="M113.4 1357.1h7.2M113.4 1308.6h7.2M113.4 1293.2h7.2M113.4 1370.6h7.2M113.4 1357.1h7.2M113.4 1329.9h7.2M113.4 1403.4h7.2M113.4 1268.1h7.2M113.4 1348.8h7.2M113.4 1309.8h7.2M113.4 1336.9h7.2M113.4 1282.2h7.2M113.4 1304.3h7.2M113.4 1335.6h7.2M113.4 1385.1h7.2M113.4 1328.1h7.2M113.4 1326.7h7.2M113.4 1321.8h7.2M113.4 1380.6h7.2M113.4 1359.1h7.2M113.4 1363.3h7.2M113.4 1322.3h7.2M113.4 1365.3h7.2M113.4 1340.1h7.2M113.4 1306.5h7.2M113.4 1347.7h7.2M113.4 1302.5h7.2M113.4 1325.7h7.2M113.4 1348.5h7.2M113.4 1313h7.2M113.4 1330.6h7.2M113.4 1352.8h7.2M113.4 1345.7h7.2M113.4 1339h7.2M113.4 1322.4h7.2M113.4 1308.6h7.2M113.4 1328.6h7.2M113.4 1354.7h7.2M113.4 1376.2h7.2M113.4 1325.4h7.2M113.4 1325.3h7.2M113.4 1299.8h7.2M113.4 1362.2h7.2M113.4 1370.2h7.2M113.4 1312.2h7.2M113.4 1331.2h7.2M113.4 1362.5h7.2M113.4 1284.2h7.2M113.4 1315h7.2M113.4 1338.3h7.2M113.4 1329.5h7.2M113.4 1353.6h7.2M113.4 1317.8h7.2M113.4 1342.6h7.2M113.4 1344.1h7.2M113.4 1347h7.2M113.4 1362.9h7.2M113.4 1308.1h7.2M113.4 1293.8h7.2M113.4 1313.9h7.2M113.4 1396.5h7.2M113.4 1344.8h7.2M113.4 1350.4h7.2M113.4 1308.7h7.2M113.4 1390.1h7.2M113.4 1397.1h7.2M113.4 1340h7.2M113.4 1305h7.2M113.4 1342.4h7.2M113.4 1280.5h7.2M113.4 1352.5h7.2M113.4 1331.9h7.2M113.4 1341.3h7.2M113.4 1362.4h7.2M113.4 1296.8h7.2M113.4 1383.6h7.2M113.4 1361.5h7.2M113.4 1352.1h7.2M113.4 1348.4h7.2M113.4 1306.1h7.2M113.4 1360h7.2M113.4 1325.5h7.2M113.4 1349.8h7.2M113.4 1294.1h7.2M113.4 1332.8h7.2M113.4 1320.7h7.2M113.4 1393.3h7.2M113.4 1307.4h7.2M113.4 1340.1h7.2M113.4 1319.6h7.2M113.4 1328.5h7.2M113.4 1318.5h7.2M113.4 1308.5h7.2M113.4 1320.7h7.2M113.4 1357.7h7.2M113.4 1334.2h7.2M113.4 1333.2h7.2M113.4 1366.8h7.2M113.4 1327.3h7.2M113.4 1298.3h7.2M113.4 1329.8h7.2M113.4 1326.2h7.2M113.4 1323.5h7.2M113.4 1303h7.2M113.4 1350.8h7.2M113.4 1313.2h7.2M113.4 1353.8h7.2M113.4 1322.2h7.2M113.4 1325.6h7.2M113.4 1374.3h7.2M113.4 1329.8h7.2M113.4 1320.2h7.2M113.4 1382.9h7.2M113.4 1342.2h7.2M113.4 1353.3h7.2M113.4 1375h7.2M113.4 1315.1h7.2M113.4 1356.7h7.2M113.4 1338.1h7.2M113.4 1367.2h7.2M113.4 1348.4h7.2M113.4 1275.5h7.2M113.4 1329.5h7.2M113.4 1374.8h7.2M113.4 1355.9h7.2M113.4 1343h7.2M113.4 1384.7h7.2M113.4 1304.1h7.2M113.4 1332.6h7.2M113.4 1336.8h7.2M113.4 1334.3h7.2M113.4 1354.3h7.2M113.4 1362.7h7.2M113.4 1411.4h7.2M113.4 1389.1h7.2M113.4 1330.1h7.2M113.4 1309.7h7.2M113.4 1332.5h7.2M113.4 1384.1h7.2M113.4 1343.2h7.2M113.4 1323.2h7.2M113.4 1380.3h7.2M113.4 1299.3h7.2M113.4 1365.9h7.2M113.4 1337.8h7.2M113.4 1368.1h7.2M113.4 1316h7.2M113.4 1372.5h7.2M113.4 1368.3h7.2M113.4 1312.8h7.2M113.4 1369.9h7.2M113.4 1348.7h7.2M113.4 1315.7h7.2M113.4 1324.5h7.2M113.4 1381.6h7.2M113.4 1318.8h7.2M113.4 1345.9h7.2M113.4 1304.2h7.2M113.4 1378.7h7.2M113.4 1320.1h7.2M113.4 1322.7h7.2M113.4 1346h7.2M113.4 1345h7.2M113.4 1313.9h7.2M113.4 1356.8h7.2M113.4 1336h7.2M113.4 1363.8h7.2M113.4 1332.2h7.2M113.4 1325.4h7.2M113.4 1384.6h7.2M113.4 1339h7.2M113.4 1334.8h7.2M113.4 1293h7.2M113.4 1365.4h7.2M113.4 1299.5h7.2M113.4 1349.9h7.2M113.4 1318.3h7.2M113.4 1332.6h7.2M113.4 1331.9h7.2M113.4 1342.8h7.2M113.4 1356.7h7.2M113.4 1293.5h7.2M113.4 1297h7.2M113.4 1338.3h7.2M113.4 1335.4h7.2M113.4 1337.9h7.2M113.4 1372.3h7.2M113.4 1353h7.2M113.4 1320.9h7.2M113.4 1316.9h7.2M113.4 1335.3h7.2M113.4 1361.3h7.2M113.4 1375.8h7.2M113.4 1357.3h7.2M113.4 1321.2h7.2M113.4 1333.8h7.2M113.4 1369.1h7.2M113.4 1384.8h7.2M113.4 1328.3h7.2M113.4 1328.8h7.2M113.4 1295.1h7.2M113.4 1299.6h7.2M113.4 1331h7.2M113.4 1349.2h7.2M113.4 1329.3h7.2M113.4 1367.3h7.2M113.4 1351.7h7.2M113.4 1302.7h7.2M113.4 1313.1h7.2M113.4 1309.1h7.2M113.4 1288.5h7.2M113.4 1349.9h7.2M113.4 1318.8h7.2M113.4 1335.6h7.2M113.4 1327.2h7.2M113.4 1338.1h7.2M113.4 1324.3h7.2M113.4 1367.1h7.2M113.4 1370.9h7.2M113.4 1334.4h7.2M113.4 1317.3h7.2M113.4 1353.8h7.2M113.4 1329.2h7.2M113.4 1365.3h7.2M113.4 1314.1h7.2M113.4 1326.1h7.2M113.4 1284.6h7.2M113.4 1347.9h7.2M113.4 1346.1h7.2M113.4 1327.9h7.2M113.4 1290.6h7.2M113.4 1313.2h7.2M113.4 1319.4h7.2M113.4 1373h7.2M113.4 1357.6h7.2M113.4 1369.7h7.2M113.4 1341.5h7.2M113.4 1323.9h7.2M113.4 1328.6h7.2M113.4 1367h7.2M113.4 1284.7h7.2M113.4 1354.4h7.2M113.4 1297.3h7.2M113.4 1302.9h7.2M113.4 1326.8h7.2M113.4 1302.1h7.2M113.4 1364.3h7.2M113.4 1353.6h7.2M113.4 1342.3h7.2M113.4 1324.6h7.2M113.4 1336.7h7.2M113.4 1300.1h7.2M113.4 1346.4h7.2M113.4 1336.3h7.2M113.4 1381.1h7.2M113.4 1331h7.2M113.4 1312.3h7.2M113.4 1353.7h7.2M113.4 1367.5h7.2M113.4 1382h7.2M113.4 1301.1h7.2M113.4 1309.6h7.2M113.4 1332.7h7.2M113.4 1312.9h7.2M113.4 1321.9h7.2M113.4 1333.7h7.2M113.4 1386.7h7.2M113.4 1328.1h7.2M113.4 1318.3h7.2M113.4 1310.8h7.2M113.4 1307.6h7.2M113.4 1360.5h7.2M113.4 1334.2h7.2M113.4 1373.8h7.2M113.4 1288h7.2M113.4 1377.8h7.2M113.4 1315.3h7.2M113.4 1361.6h7.2M113.4 1355.8h7.2M113.4 1364.2h7.2M113.4 1350.5h7.2M113.4 1338.2h7.2M113.4 1314h7.2M113.4 1346.5h7.2M113.4 1319.6h7.2M113.4 1307.8h7.2M113.4 1284h7.2M113.4 1353.6h7.2M113.4 1334.5h7.2M113.4 1318.2h7.2M113.4 1330.6h7.2M113.4 1314.3h7.2M113.4 1361.8h7.2M113.4 1346.4h7.2M113.4 1357.7h7.2M113.4 1356.7h7.2M113.4 1349.9h7.2M113.4 1342.1h7.2M113.4 1368.7h7.2M113.4 1354.4h7.2M113.4 1322.1h7.2M113.4 1370.6h7.2M113.4 1364.2h7.2M333.4 1422.5v5.8M125.2 1422.5v5.8M127.1 1422.5v5.8M309 1422.5v5.8M305.2 1422.5v5.8M288.4 1422.5v5.8M309.8 1422.5v5.8M132.8 1422.5v5.8M138.4 1422.5v5.8M286.5 1422.5v5.8M250.1 1422.5v5.8M219.6 1422.5v5.8M208.5 1422.5v5.8M212.8 1422.5v5.8M225.4 1422.5v5.8M196.4 1422.5v5.8M220 1422.5v5.8M228.4 1422.5v5.8M271.8 1422.5v5.8M218.2 1422.5v5.8M250.6 1422.5v5.8M187.5 1422.5v5.8M247.1 1422.5v5.8M225.1 1422.5v5.8M203 1422.5v5.8M219.2 1422.5v5.8M248.5 1422.5v5.8M209.8 1422.5v5.8M252.5 1422.5v5.8M268.2 1422.5v5.8M271.3 1422.5v5.8M271.3 1422.5v5.8M179.9 1422.5v5.8M230.9 1422.5v5.8M198.5 1422.5v5.8M250 1422.5v5.8M222.4 1422.5v5.8M227.2 1422.5v5.8M234.7 1422.5v5.8M201.4 1422.5v5.8M223.2 1422.5v5.8M197.3 1422.5v5.8M286 1422.5v5.8M205.7 1422.5v5.8M220.6 1422.5v5.8M164.3 1422.5v5.8M173.4 1422.5v5.8M193.6 1422.5v5.8M245.3 1422.5v5.8M244.5 1422.5v5.8M229.1 1422.5v5.8M199.9 1422.5v5.8M278.7 1422.5v5.8M187.7 1422.5v5.8M193.1 1422.5v5.8M235.5 1422.5v5.8M188.6 1422.5v5.8M228.6 1422.5v5.8M250.9 1422.5v5.8M218 1422.5v5.8M233.1 1422.5v5.8M221.4 1422.5v5.8M198.8 1422.5v5.8M123.4 1422.5v5.8M181.5 1422.5v5.8M219.9 1422.5v5.8M168.1 1422.5v5.8M202.3 1422.5v5.8M226.7 1422.5v5.8M262.5 1422.5v5.8M176.8 1422.5v5.8M203.4 1422.5v5.8M227.3 1422.5v5.8M236.9 1422.5v5.8M176.3 1422.5v5.8M279.2 1422.5v5.8M194.2 1422.5v5.8M254.7 1422.5v5.8M213.8 1422.5v5.8M233.1 1422.5v5.8M273.2 1422.5v5.8M242.7 1422.5v5.8M224.3 1422.5v5.8M188.2 1422.5v5.8M199.3 1422.5v5.8M174.8 1422.5v5.8M284.4 1422.5v5.8M170.7 1422.5v5.8M138.1 1422.5v5.8M272.5 1422.5v5.8M260.8 1422.5v5.8M208.7 1422.5v5.8M246.8 1422.5v5.8M193.9 1422.5v5.8M201.8 1422.5v5.8M236.1 1422.5v5.8M232.7 1422.5v5.8M205.5 1422.5v5.8M271.9 1422.5v5.8M243.6 1422.5v5.8M224.5 1422.5v5.8M182.4 1422.5v5.8M224.5 1422.5v5.8M210 1422.5v5.8M217.7 1422.5v5.8M245.7 1422.5v5.8M201.7 1422.5v5.8M228.6 1422.5v5.8M245.6 1422.5v5.8M231.4 1422.5v5.8M293.4 1422.5v5.8M164.3 1422.5v5.8M218 1422.5v5.8M182.2 1422.5v5.8M217.9 1422.5v5.8M300.5 1422.5v5.8M167.6 1422.5v5.8M210.6 1422.5v5.8M240.9 1422.5v5.8M222.9 1422.5v5.8M249.2 1422.5v5.8M170.2 1422.5v5.8M251.2 1422.5v5.8M189.4 1422.5v5.8M181 1422.5v5.8M238.1 1422.5v5.8M235.2 1422.5v5.8M196.5 1422.5v5.8M193.7 1422.5v5.8M213.5 1422.5v5.8M219.5 1422.5v5.8M214.4 1422.5v5.8M187.4 1422.5v5.8M145.5 1422.5v5.8M261.8 1422.5v5.8M225.4 1422.5v5.8M180 1422.5v5.8M169.5 1422.5v5.8M197.5 1422.5v5.8M206.4 1422.5v5.8M151.5 1422.5v5.8M264.5 1422.5v5.8M233.3 1422.5v5.8M209.3 1422.5v5.8M230.9 1422.5v5.8M227 1422.5v5.8M253.7 1422.5v5.8M224.6 1422.5v5.8M260.1 1422.5v5.8M269.2 1422.5v5.8M209.6 1422.5v5.8M205.1 1422.5v5.8M191.3 1422.5v5.8M212.1 1422.5v5.8M196.3 1422.5v5.8M219.9 1422.5v5.8M229.3 1422.5v5.8M236.8 1422.5v5.8M182.5 1422.5v5.8M254.2 1422.5v5.8M209.6 1422.5v5.8M215.9 1422.5v5.8M203 1422.5v5.8M155.3 1422.5v5.8M227.7 1422.5v5.8M162.6 1422.5v5.8M255 1422.5v5.8M220.8 1422.5v5.8M269.5 1422.5v5.8M240.3 1422.5v5.8M242 1422.5v5.8M264.3 1422.5v5.8M218.1 1422.5v5.8M268.8 1422.5v5.8M215.3 1422.5v5.8M227.7 1422.5v5.8M197.7 1422.5v5.8M236.8 1422.5v5.8M240.9 1422.5v5.8M203.3 1422.5v5.8M178.3 1422.5v5.8M218.2 1422.5v5.8M232.9 1422.5v5.8M214.3 1422.5v5.8M188.1 1422.5v5.8M196.2 1422.5v5.8M210.8 1422.5v5.8M135.1 1422.5v5.8M200.5 1422.5v5.8M265.5 1422.5v5.8M178.2 1422.5v5.8M212.3 1422.5v5.8M273.5 1422.5v5.8M242.1 1422.5v5.8M248.9 1422.5v5.8M214.6 1422.5v5.8M176.7 1422.5v5.8M311.7 1422.5v5.8M229 1422.5v5.8M227 1422.5v5.8M272 1422.5v5.8M245.3 1422.5v5.8M221.2 1422.5v5.8M183.9 1422.5v5.8M214.3 1422.5v5.8M214.5 1422.5v5.8M197.6 1422.5v5.8M191.5 1422.5v5.8M187.2 1422.5v5.8M215.5 1422.5v5.8M200.2 1422.5v5.8M232.4 1422.5v5.8M251.8 1422.5v5.8M229.4 1422.5v5.8M219.9 1422.5v5.8M269.3 1422.5v5.8M240.2 1422.5v5.8M171.8 1422.5v5.8M196.2 1422.5v5.8M225.5 1422.5v5.8M191 1422.5v5.8M243.6 1422.5v5.8M163 1422.5v5.8M158 1422.5v5.8M250.7 1422.5v5.8M237.8 1422.5v5.8M167.8 1422.5v5.8M221.6 1422.5v5.8M262.3 1422.5v5.8M183.4 1422.5v5.8M181 1422.5v5.8M180.1 1422.5v5.8M187.6 1422.5v5.8M163.5 1422.5v5.8M203.6 1422.5v5.8M172.6 1422.5v5.8M221.1 1422.5v5.8M290.9 1422.5v5.8M185.4 1422.5v5.8M248.3 1422.5v5.8M256.6 1422.5v5.8M145 1422.5v5.8M222.6 1422.5v5.8M218.8 1422.5v5.8M208.3 1422.5v5.8M244.7 1422.5v5.8M205 1422.5v5.8M230.4 1422.5v5.8M206.6 1422.5v5.8M214.7 1422.5v5.8M193.9 1422.5v5.8M292.1 1422.5v5.8M217.3 1422.5v5.8M183.1 1422.5v5.8M281.7 1422.5v5.8M269.7 1422.5v5.8M212.8 1422.5v5.8M198 1422.5v5.8M195.4 1422.5v5.8M258.7 1422.5v5.8M208.6 1422.5v5.8M196.2 1422.5v5.8M246.1 1422.5v5.8M210.4 1422.5v5.8M217.3 1422.5v5.8M281.3 1422.5v5.8M246.8 1422.5v5.8M259.1 1422.5v5.8M232.5 1422.5v5.8M260.4 1422.5v5.8M213.6 1422.5v5.8M250 1422.5v5.8M252.7 1422.5v5.8M205.8 1422.5v5.8M177.8 1422.5v5.8M236.3 1422.5v5.8M215.2 1422.5v5.8M238.6 1422.5v5.8M199.7 1422.5v5.8M236.1 1422.5v5.8M250 1422.5v5.8M295 1422.5v5.8M276.4 1422.5v5.8M231.6 1422.5v5.8M265.2 1422.5v5.8M198.9 1422.5v5.8M256.8 1422.5v5.8M223.5 1422.5v5.8M261.8 1422.5v5.8M229.8 1422.5v5.8M211.7 1422.5v5.8M196.2 1422.5v5.8M259.4 1422.5v5.8M220.9 1422.5v5.8M242 1422.5v5.8M234.5 1422.5v5.8M153.4 1422.5v5.8M238.4 1422.5v5.8M207.1 1422.5v5.8M231.7 1422.5v5.8M234.5 1422.5v5.8M161.1 1422.5v5.8M208.9 1422.5v5.8" stroke="#7dca72" stroke-width="0.9" fill="none"/>
<path d="M124 1315.3Q228.8 1339.2 333.6 1343L333.6 1361Q228.8 1333.2 124 1325.3Z" fill="#999" fill-opacity="0.4"/>
<g fill="#9440a8"><circle cx="333.4" cy="1357.1" r="2.15"/><circle cx="125.2" cy="1308.6" r="2.15"/><circle cx="127.1" cy="1293.2" r="2.15"/><circle cx="309" cy="1370.6" r="2.15"/><circle cx="305.2" cy="1357.1" r="2.15"/><circle cx="288.4" cy="1329.9" r="2.15"/><circle cx="309.8" cy="1403.4" r="2.15"/><circle cx="132.8" cy="1268.1" r="2.15"/><circle cx="138.4" cy="1348.8" r="2.15"/><circle cx="286.5" cy="1309.8" r="2.15"/><circle cx="250.1" cy="1336.9" r="2.15"/><circle cx="219.6" cy="1282.2" r="2.15"/><circle cx="208.5" cy="1304.3" r="2.15"/><circle cx="212.8" cy="1335.6" r="2.15"/><circle cx="225.4" cy="1385.1" r="2.15"/><circle cx="196.4" cy="1328.1" r="2.15"/><circle cx="220" cy="1326.7" r="2.15"/><circle cx="228.4" cy="1321.8" r="2.15"/><circle cx="271.8" cy="1380.6" r="2.15"/><circle cx="218.2" cy="1359.1" r="2.15"/><circle cx="250.6" cy="1363.3" r="2.15"/><circle cx="187.5" cy="1322.3" r="2.15"/><circle cx="247.1" cy="1365.3" r="2.15"/><circle cx="225.1" cy="1340.1" r="2.15"/><circle cx="203" cy="1306.5" r="2.15"/><circle cx="219.2" cy="1347.7" r="2.15"/><circle cx="248.5" cy="1302.5" r="2.15"/><circle cx="209.8" cy="1325.7" r="2.15"/><circle cx="252.5" cy="1348.5" r="2.15"/><circle cx="268.2" cy="1313" r="2.15"/><circle cx="271.3" cy="1330.6" r="2.15"/><circle cx="271.3" cy="1352.8" r="2.15"/><circle cx="179.9" cy="1345.7" r="2.15"/><circle cx="230.9" cy="1339" r="2.15"/><circle cx="198.5" cy="1322.4" r="2.15"/><circle cx="250" cy="1308.6" r="2.15"/><circle cx="222.4" cy="1328.6" r="2.15"/><circle cx="227.2" cy="1354.7" r="2.15"/><circle cx="234.7" cy="1376.2" r="2.15"/><circle cx="201.4" cy="1325.4" r="2.15"/><circle cx="223.2" cy="1325.3" r="2.15"/><circle cx="197.3" cy="1299.8" r="2.15"/><circle cx="286" cy="1362.2" r="2.15"/><circle cx="205.7" cy="1370.2" r="2.15"/><circle cx="220.6" cy="1312.2" r="2.15"/><circle cx="164.3" cy="1331.2" r="2.15"/><circle cx="173.4" cy="1362.5" r="2.15"/><circle cx="193.6" cy="1284.2" r="2.15"/><circle cx="245.3" cy="1315" r="2.15"/><circle cx="244.5" cy="1338.3" r="2.15"/><circle cx="229.1" cy="1329.5" r="2.15"/><circle cx="199.9" cy="1353.6" r="2.15"/><circle cx="278.7" cy="1317.8" r="2.15"/><circle cx="187.7" cy="1342.6" r="2.15"/><circle cx="193.1" cy="1344.1" r="2.15"/><circle cx="235.5" cy="1347" r="2.15"/><circle cx="188.6" cy="1362.9" r="2.15"/><circle cx="228.6" cy="1308.1" r="2.15"/><circle cx="250.9" cy="1293.8" r="2.15"/><circle cx="218" cy="1313.9" r="2.15"/><circle cx="233.1" cy="1396.5" r="2.15"/><circle cx="221.4" cy="1344.8" r="2.15"/><circle cx="198.8" cy="1350.4" r="2.15"/><circle cx="123.4" cy="1308.7" r="2.15"/><circle cx="181.5" cy="1390.1" r="2.15"/><circle cx="219.9" cy="1397.1" r="2.15"/><circle cx="168.1" cy="1340" r="2.15"/><circle cx="202.3" cy="1305" r="2.15"/><circle cx="226.7" cy="1342.4" r="2.15"/><circle cx="262.5" cy="1280.5" r="2.15"/><circle cx="176.8" cy="1352.5" r="2.15"/><circle cx="203.4" cy="1331.9" r="2.15"/><circle cx="227.3" cy="1341.3" r="2.15"/><circle cx="236.9" cy="1362.4" r="2.15"/><circle cx="176.3" cy="1296.8" r="2.15"/><circle cx="279.2" cy="1383.6" r="2.15"/><circle cx="194.2" cy="1361.5" r="2.15"/><circle cx="254.7" cy="1352.1" r="2.15"/><circle cx="213.8" cy="1348.4" r="2.15"/><circle cx="233.1" cy="1306.1" r="2.15"/><circle cx="273.2" cy="1360" r="2.15"/><circle cx="242.7" cy="1325.5" r="2.15"/><circle cx="224.3" cy="1349.8" r="2.15"/><circle cx="188.2" cy="1294.1" r="2.15"/><circle cx="199.3" cy="1332.8" r="2.15"/><circle cx="174.8" cy="1320.7" r="2.15"/><circle cx="284.4" cy="1393.3" r="2.15"/><circle cx="170.7" cy="1307.4" r="2.15"/><circle cx="138.1" cy="1340.1" r="2.15"/><circle cx="272.5" cy="1319.6" r="2.15"/><circle cx="260.8" cy="1328.5" r="2.15"/><circle cx="208.7" cy="1318.5" r="2.15"/><circle cx="246.8" cy="1308.5" r="2.15"/><circle cx="193.9" cy="1320.7" r="2.15"/><circle cx="201.8" cy="1357.7" r="2.15"/><circle cx="236.1" cy="1334.2" r="2.15"/><circle cx="232.7" cy="1333.2" r="2.15"/><circle cx="205.5" cy="1366.8" r="2.15"/><circle cx="271.9" cy="1327.3" r="2.15"/><circle cx="243.6" cy="1298.3" r="2.15"/><circle cx="224.5" cy="1329.8" r="2.15"/><circle cx="182.4" cy="1326.2" r="2.15"/><circle cx="224.5" cy="1323.5" r="2.15"/><circle cx="210" cy="1303" r="2.15"/><circle cx="217.7" cy="1350.8" r="2.15"/><circle cx="245.7" cy="1313.2" r="2.15"/><circle cx="201.7" cy="1353.8" r="2.15"/><circle cx="228.6" cy="1322.2" r="2.15"/><circle cx="245.6" cy="1325.6" r="2.15"/><circle cx="231.4" cy="1374.3" r="2.15"/><circle cx="293.4" cy="1329.8" r="2.15"/><circle cx="164.3" cy="1320.2" r="2.15"/><circle cx="218" cy="1382.9" r="2.15"/><circle cx="182.2" cy="1342.2" r="2.15"/><circle cx="217.9" cy="1353.3" r="2.15"/><circle cx="300.5" cy="1375" r="2.15"/><circle cx="167.6" cy="1315.1" r="2.15"/><circle cx="210.6" cy="1356.7" r="2.15"/><circle cx="240.9" cy="1338.1" r="2.15"/><circle cx="222.9" cy="1367.2" r="2.15"/><circle cx="249.2" cy="1348.4" r="2.15"/><circle cx="170.2" cy="1275.5" r="2.15"/><circle cx="251.2" cy="1329.5" r="2.15"/><circle cx="189.4" cy="1374.8" r="2.15"/><circle cx="181" cy="1355.9" r="2.15"/><circle cx="238.1" cy="1343" r="2.15"/><circle cx="235.2" cy="1384.7" r="2.15"/><circle cx="196.5" cy="1304.1" r="2.15"/><circle cx="193.7" cy="1332.6" r="2.15"/><circle cx="213.5" cy="1336.8" r="2.15"/><circle cx="219.5" cy="1334.3" r="2.15"/><circle cx="214.4" cy="1354.3" r="2.15"/><circle cx="187.4" cy="1362.7" r="2.15"/><circle cx="145.5" cy="1411.4" r="2.15"/><circle cx="261.8" cy="1389.1" r="2.15"/><circle cx="225.4" cy="1330.1" r="2.15"/><circle cx="180" cy="1309.7" r="2.15"/><circle cx="169.5" cy="1332.5" r="2.15"/><circle cx="197.5" cy="1384.1" r="2.15"/><circle cx="206.4" cy="1343.2" r="2.15"/><circle cx="151.5" cy="1323.2" r="2.15"/><circle cx="264.5" cy="1380.3" r="2.15"/><circle cx="233.3" cy="1299.3" r="2.15"/><circle cx="209.3" cy="1365.9" r="2.15"/><circle cx="230.9" cy="1337.8" r="2.15"/><circle cx="227" cy="1368.1" r="2.15"/><circle cx="253.7" cy="1316" r="2.15"/><circle cx="224.6" cy="1372.5" r="2.15"/><circle cx="260.1" cy="1368.3" r="2.15"/><circle cx="269.2" cy="1312.8" r="2.15"/><circle cx="209.6" cy="1369.9" r="2.15"/><circle cx="205.1" cy="1348.7" r="2.15"/><circle cx="191.3" cy="1315.7" r="2.15"/><circle cx="212.1" cy="1324.5" r="2.15"/><circle cx="196.3" cy="1381.6" r="2.15"/><circle cx="219.9" cy="1318.8" r="2.15"/><circle cx="229.3" cy="1345.9" r="2.15"/><circle cx="236.8" cy="1304.2" r="2.15"/><circle cx="182.5" cy="1378.7" r="2.15"/><circle cx="254.2" cy="1320.1" r="2.15"/><circle cx="209.6" cy="1322.7" r="2.15"/><circle cx="215.9" cy="1346" r="2.15"/><circle cx="203" cy="1345" r="2.15"/><circle cx="155.3" cy="1313.9" r="2.15"/><circle cx="227.7" cy="1356.8" r="2.15"/><circle cx="162.6" cy="1336" r="2.15"/><circle cx="255" cy="1363.8" r="2.15"/><circle cx="220.8" cy="1332.2" r="2.15"/><circle cx="269.5" cy="1325.4" r="2.15"/><circle cx="240.3" cy="1384.6" r="2.15"/><circle cx="242" cy="1339" r="2.15"/><circle cx="264.3" cy="1334.8" r="2.15"/><circle cx="218.1" cy="1293" r="2.15"/><circle cx="268.8" cy="1365.4" r="2.15"/><circle cx="215.3" cy="1299.5" r="2.15"/><circle cx="227.7" cy="1349.9" r="2.15"/><circle cx="197.7" cy="1318.3" r="2.15"/><circle cx="236.8" cy="1332.6" r="2.15"/><circle cx="240.9" cy="1331.9" r="2.15"/><circle cx="203.3" cy="1342.8" r="2.15"/><circle cx="178.3" cy="1356.7" r="2.15"/><circle cx="218.2" cy="1293.5" r="2.15"/><circle cx="232.9" cy="1297" r="2.15"/><circle cx="214.3" cy="1338.3" r="2.15"/><circle cx="188.1" cy="1335.4" r="2.15"/><circle cx="196.2" cy="1337.9" r="2.15"/><circle cx="210.8" cy="1372.3" r="2.15"/><circle cx="135.1" cy="1353" r="2.15"/><circle cx="200.5" cy="1320.9" r="2.15"/><circle cx="265.5" cy="1316.9" r="2.15"/><circle cx="178.2" cy="1335.3" r="2.15"/><circle cx="212.3" cy="1361.3" r="2.15"/><circle cx="273.5" cy="1375.8" r="2.15"/><circle cx="242.1" cy="1357.3" r="2.15"/><circle cx="248.9" cy="1321.2" r="2.15"/><circle cx="214.6" cy="1333.8" r="2.15"/><circle cx="176.7" cy="1369.1" r="2.15"/><circle cx="311.7" cy="1384.8" r="2.15"/><circle cx="229" cy="1328.3" r="2.15"/><circle cx="227" cy="1328.8" r="2.15"/><circle cx="272" cy="1295.1" r="2.15"/><circle cx="245.3" cy="1299.6" r="2.15"/><circle cx="221.2" cy="1331" r="2.15"/><circle cx="183.9" cy="1349.2" r="2.15"/><circle cx="214.3" cy="1329.3" r="2.15"/><circle cx="214.5" cy="1367.3" r="2.15"/><circle cx="197.6" cy="1351.7" r="2.15"/><circle cx="191.5" cy="1302.7" r="2.15"/><circle cx="187.2" cy="1313.1" r="2.15"/><circle cx="215.5" cy="1309.1" r="2.15"/><circle cx="200.2" cy="1288.5" r="2.15"/><circle cx="232.4" cy="1349.9" r="2.15"/><circle cx="251.8" cy="1318.8" r="2.15"/><circle cx="229.4" cy="1335.6" r="2.15"/><circle cx="219.9" cy="1327.2" r="2.15"/><circle cx="269.3" cy="1338.1" r="2.15"/><circle cx="240.2" cy="1324.3" r="2.15"/><circle cx="171.8" cy="1367.1" r="2.15"/><circle cx="196.2" cy="1370.9" r="2.15"/><circle cx="225.5" cy="1334.4" r="2.15"/><circle cx="191" cy="1317.3" r="2.15"/><circle cx="243.6" cy="1353.8" r="2.15"/><circle cx="163" cy="1329.2" r="2.15"/><circle cx="158" cy="1365.3" r="2.15"/><circle cx="250.7" cy="1314.1" r="2.15"/><circle cx="237.8" cy="1326.1" r="2.15"/><circle cx="167.8" cy="1284.6" r="2.15"/><circle cx="221.6" cy="1347.9" r="2.15"/><circle cx="262.3" cy="1346.1" r="2.15"/><circle cx="183.4" cy="1327.9" r="2.15"/><circle cx="181" cy="1290.6" r="2.15"/><circle cx="180.1" cy="1313.2" r="2.15"/><circle cx="187.6" cy="1319.4" r="2.15"/><circle cx="163.5" cy="1373" r="2.15"/><circle cx="203.6" cy="1357.6" r="2.15"/><circle cx="172.6" cy="1369.7" r="2.15"/><circle cx="221.1" cy="1341.5" r="2.15"/><circle cx="290.9" cy="1323.9" r="2.15"/><circle cx="185.4" cy="1328.6" r="2.15"/><circle cx="248.3" cy="1367" r="2.15"/><circle cx="256.6" cy="1284.7" r="2.15"/><circle cx="145" cy="1354.4" r="2.15"/><circle cx="222.6" cy="1297.3" r="2.15"/><circle cx="218.8" cy="1302.9" r="2.15"/><circle cx="208.3" cy="1326.8" r="2.15"/><circle cx="244.7" cy="1302.1" r="2.15"/><circle cx="205" cy="1364.3" r="2.15"/><circle cx="230.4" cy="1353.6" r="2.15"/><circle cx="206.6" cy="1342.3" r="2.15"/><circle cx="214.7" cy="1324.6" r="2.15"/><circle cx="193.9" cy="1336.7" r="2.15"/><circle cx="292.1" cy="1300.1" r="2.15"/><circle cx="217.3" cy="1346.4" r="2.15"/><circle cx="183.1" cy="1336.3" r="2.15"/><circle cx="281.7" cy="1381.1" r="2.15"/><circle cx="269.7" cy="1331" r="2.15"/><circle cx="212.8" cy="1312.3" r="2.15"/><circle cx="198" cy="1353.7" r="2.15"/><circle cx="195.4" cy="1367.5" r="2.15"/><circle cx="258.7" cy="1382" r="2.15"/><circle cx="208.6" cy="1301.1" r="2.15"/><circle cx="196.2" cy="1309.6" r="2.15"/><circle cx="246.1" cy="1332.7" r="2.15"/><circle cx="210.4" cy="1312.9" r="2.15"/><circle cx="217.3" cy="1321.9" r="2.15"/><circle cx="281.3" cy="1333.7" r="2.15"/><circle cx="246.8" cy="1386.7" r="2.15"/><circle cx="259.1" cy="1328.1" r="2.15"/><circle cx="232.5" cy="1318.3" r="2.15"/><circle cx="260.4" cy="1310.8" r="2.15"/><circle cx="213.6" cy="1307.6" r="2.15"/><circle cx="250" cy="1360.5" r="2.15"/><circle cx="252.7" cy="1334.2" r="2.15"/><circle cx="205.8" cy="1373.8" r="2.15"/><circle cx="177.8" cy="1288" r="2.15"/><circle cx="236.3" cy="1377.8" r="2.15"/><circle cx="215.2" cy="1315.3" r="2.15"/><circle cx="238.6" cy="1361.6" r="2.15"/><circle cx="199.7" cy="1355.8" r="2.15"/><circle cx="236.1" cy="1364.2" r="2.15"/><circle cx="250" cy="1350.5" r="2.15"/><circle cx="295" cy="1338.2" r="2.15"/><circle cx="276.4" cy="1314" r="2.15"/><circle cx="231.6" cy="1346.5" r="2.15"/><circle cx="265.2" cy="1319.6" r="2.15"/><circle cx="198.9" cy="1307.8" r="2.15"/><circle cx="256.8" cy="1284" r="2.15"/><circle cx="223.5" cy="1353.6" r="2.15"/><circle cx="261.8" cy="1334.5" r="2.15"/><circle cx="229.8" cy="1318.2" r="2.15"/><circle cx="211.7" cy="1330.6" r="2.15"/><circle cx="196.2" cy="1314.3" r="2.15"/><circle cx="259.4" cy="1361.8" r="2.15"/><circle cx="220.9" cy="1346.4" r="2.15"/><circle cx="242" cy="1357.7" r="2.15"/><circle cx="234.5" cy="1356.7" r="2.15"/><circle cx="153.4" cy="1349.9" r="2.15"/><circle cx="238.4" cy="1342.1" r="2.15"/><circle cx="207.1" cy="1368.7" r="2.15"/><circle cx="231.7" cy="1354.4" r="2.15"/><circle cx="234.5" cy="1322.1" r="2.15"/><circle cx="161.1" cy="1370.6" r="2.15"/><circle cx="208.9" cy="1364.2" r="2.15"/></g>
<path d="M124 1320.3L333.6 1352" stroke="#fbb77e" stroke-width="3.4" fill="none"/>
<text x="228.4" y="1242.9" font-size="12.35" text-anchor="middle" fill="#111">n = 303, r = -0.19(pearson), p.value= 0</text>
<text x="228.8" y="1450.5" font-size="10.4" text-anchor="middle" fill="#222">Expression of FOXO1 (log2(TPM))</text>
<text x="98.5" y="1339.2" font-size="10.3" text-anchor="middle" fill="#222" transform="rotate(-90 98.5 1339.2)">Expression of IRF5 (log2(TPM))</text>
<text x="144" y="1439.2" font-size="8.5" text-anchor="middle" fill="#4d4d4d">0</text>
<text x="181.5" y="1439.2" font-size="8.5" text-anchor="middle" fill="#4d4d4d">1</text>
<text x="219" y="1439.2" font-size="8.5" text-anchor="middle" fill="#4d4d4d">2</text>
<text x="256.5" y="1439.2" font-size="8.5" text-anchor="middle" fill="#4d4d4d">3</text>
<text x="294" y="1439.2" font-size="8.5" text-anchor="middle" fill="#4d4d4d">4</text>
<text x="331.5" y="1439.2" font-size="8.5" text-anchor="middle" fill="#4d4d4d">5</text>
<text x="108.6" y="1410.8" font-size="8.5" text-anchor="end" fill="#4d4d4d">2</text>
<text x="108.6" y="1380.1" font-size="8.5" text-anchor="end" fill="#4d4d4d">3</text>
<text x="108.6" y="1349.5" font-size="8.5" text-anchor="end" fill="#4d4d4d">4</text>
<text x="108.6" y="1318.8" font-size="8.5" text-anchor="end" fill="#4d4d4d">5</text>
<text x="108.6" y="1288.2" font-size="8.5" text-anchor="end" fill="#4d4d4d">6</text>
<text x="108.6" y="1257.5" font-size="8.5" text-anchor="end" fill="#4d4d4d">7</text>
<path d="M451.2 1251.6V1430.3M488.7 1251.6V1430.3M526.1 1251.6V1430.3M563.5 1251.6V1430.3M601 1251.6V1430.3M413.8 1251.6V1430.3M401.4 1416.1H632.5M401.4 1372.7H632.5M401.4 1329.4H632.5M401.4 1286H632.5" stroke="#f1f1f1" stroke-width="0.6" fill="none"/>
<path d="M432.5 1251.6V1430.3M469.9 1251.6V1430.3M507.4 1251.6V1430.3M544.8 1251.6V1430.3M582.3 1251.6V1430.3M619.7 1251.6V1430.3M401.4 1394.4H632.5M401.4 1351.1H632.5M401.4 1307.7H632.5M401.4 1264.4H632.5" stroke="#e6e6e6" stroke-width="0.9" fill="none"/>
<path d="M401.7 1278.9h7.2M401.7 1400.3h7.2M401.7 1397.9h7.2M401.7 1257.8h7.2M401.7 1278.1h7.2M401.7 1303.3h7.2M401.7 1298.1h7.2M401.7 1406.7h7.2M401.7 1395.5h7.2M401.7 1343.1h7.2M401.7 1301.8h7.2M401.7 1340h7.2M401.7 1316h7.2M401.7 1333h7.2M401.7 1368.1h7.2M401.7 1301.5h7.2M401.7 1318.3h7.2M401.7 1306.1h7.2M401.7 1313.9h7.2M401.7 1341.8h7.2M401.7 1317.1h7.2M401.7 1308.4h7.2M401.7 1341.3h7.2M401.7 1348.8h7.2M401.7 1327h7.2M401.7 1370.7h7.2M401.7 1283.3h7.2M401.7 1358.5h7.2M401.7 1287.5h7.2M401.7 1307.3h7.2M401.7 1309.9h7.2M401.7 1326.5h7.2M401.7 1319.4h7.2M401.7 1329.1h7.2M401.7 1368.2h7.2M401.7 1300.2h7.2M401.7 1330.7h7.2M401.7 1314.5h7.2M401.7 1329.9h7.2M401.7 1331h7.2M401.7 1317.9h7.2M401.7 1340.3h7.2M401.7 1329.1h7.2M401.7 1326.1h7.2M401.7 1299.9h7.2M401.7 1348.6h7.2M401.7 1333.7h7.2M401.7 1326.3h7.2M401.7 1322.3h7.2M401.7 1294.2h7.2M401.7 1329.3h7.2M401.7 1360.4h7.2M401.7 1325h7.2M401.7 1324.1h7.2M401.7 1328.2h7.2M401.7 1307.8h7.2M401.7 1357h7.2M401.7 1362.6h7.2M401.7 1296.8h7.2M401.7 1332h7.2M401.7 1335h7.2M401.7 1341.1h7.2M401.7 1352h7.2M401.7 1417.7h7.2M401.7 1335.9h7.2M401.7 1314.3h7.2M401.7 1337.6h7.2M401.7 1345.7h7.2M401.7 1351.7h7.2M401.7 1335.7h7.2M401.7 1357.8h7.2M401.7 1301.2h7.2M401.7 1305.8h7.2M401.7 1319.7h7.2M401.7 1341.7h7.2M401.7 1281.4h7.2M401.7 1341.1h7.2M401.7 1306.3h7.2M401.7 1327.8h7.2M401.7 1334.4h7.2M401.7 1325.4h7.2M401.7 1329h7.2M401.7 1302.7h7.2M401.7 1378.4h7.2M401.7 1348.8h7.2M401.7 1361.1h7.2M401.7 1294.9h7.2M401.7 1363.9h7.2M401.7 1354.9h7.2M401.7 1309.6h7.2M401.7 1308h7.2M401.7 1320h7.2M401.7 1344.7h7.2M401.7 1319.7h7.2M401.7 1316.9h7.2M401.7 1348.1h7.2M401.7 1324.4h7.2M401.7 1352h7.2M401.7 1309.8h7.2M401.7 1300.5h7.2M401.7 1365.8h7.2M401.7 1330.8h7.2M401.7 1317.7h7.2M401.7 1334.3h7.2M401.7 1284h7.2M401.7 1326h7.2M401.7 1369.7h7.2M401.7 1316.6h7.2M401.7 1312.7h7.2M401.7 1336.2h7.2M401.7 1335.5h7.2M401.7 1397.3h7.2M401.7 1295.9h7.2M401.7 1380.1h7.2M401.7 1301.2h7.2M401.7 1270.3h7.2M401.7 1402h7.2M401.7 1329.8h7.2M401.7 1304.8h7.2M401.7 1304.3h7.2M401.7 1286.1h7.2M401.7 1328.4h7.2M401.7 1313.7h7.2M401.7 1349.9h7.2M401.7 1353.3h7.2M401.7 1308.7h7.2M401.7 1340.6h7.2M401.7 1363.3h7.2M401.7 1294.6h7.2M401.7 1312.4h7.2M401.7 1306.9h7.2M401.7 1336.7h7.2M401.7 1363.6h7.2M401.7 1376.4h7.2M401.7 1324h7.2M401.7 1339.2h7.2M401.7 1382.2h7.2M401.7 1342.2h7.2M401.7 1333.6h7.2M401.7 1319.5h7.2M401.7 1363h7.2M401.7 1320.9h7.2M401.7 1279.8h7.2M401.7 1314.9h7.2M401.7 1311.6h7.2M401.7 1306.9h7.2M401.7 1317.8h7.2M401.7 1311.4h7.2M401.7 1323.9h7.2M401.7 1282.5h7.2M401.7 1314.8h7.2M401.7 1319.2h7.2M401.7 1335.6h7.2M401.7 1330.2h7.2M401.7 1336.5h7.2M401.7 1314h7.2M401.7 1333.5h7.2M401.7 1305.5h7.2M401.7 1332.2h7.2M401.7 1337.6h7.2M401.7 1370h7.2M401.7 1324.9h7.2M401.7 1344.8h7.2M401.7 1379.2h7.2M401.7 1350.9h7.2M401.7 1381.7h7.2M401.7 1345.2h7.2M401.7 1336h7.2M401.7 1335.8h7.2M401.7 1354.2h7.2M401.7 1320.3h7.2M401.7 1274.6h7.2M401.7 1304.3h7.2M401.7 1307.4h7.2M401.7 1323.5h7.2M401.7 1330.2h7.2M401.7 1343.1h7.2M401.7 1336.5h7.2M401.7 1318h7.2M401.7 1359.6h7.2M401.7 1366h7.2M401.7 1333.3h7.2M401.7 1324h7.2M401.7 1289.6h7.2M401.7 1363.8h7.2M401.7 1364.4h7.2M401.7 1320.5h7.2M401.7 1361h7.2M401.7 1325h7.2M401.7 1308.2h7.2M401.7 1382.1h7.2M401.7 1340.5h7.2M401.7 1327.9h7.2M401.7 1319.2h7.2M401.7 1277.8h7.2M401.7 1338.5h7.2M401.7 1349.4h7.2M401.7 1259.2h7.2M401.7 1352.2h7.2M401.7 1309.8h7.2M401.7 1309.4h7.2M401.7 1330.4h7.2M401.7 1336.2h7.2M401.7 1368.5h7.2M401.7 1314.3h7.2M401.7 1330h7.2M401.7 1350.4h7.2M401.7 1333.8h7.2M401.7 1377.3h7.2M401.7 1389h7.2M401.7 1312.1h7.2M401.7 1334.9h7.2M401.7 1297.1h7.2M401.7 1343.2h7.2M401.7 1367.1h7.2M401.7 1326.5h7.2M401.7 1299.8h7.2M401.7 1346.4h7.2M401.7 1354.7h7.2M401.7 1312.3h7.2M401.7 1350.3h7.2M401.7 1313.5h7.2M401.7 1381.1h7.2M401.7 1408.6h7.2M401.7 1311.7h7.2M401.7 1306.2h7.2M401.7 1374.9h7.2M401.7 1295.6h7.2M401.7 1301.7h7.2M401.7 1312h7.2M401.7 1335.8h7.2M401.7 1324.4h7.2M401.7 1351.3h7.2M401.7 1389.1h7.2M401.7 1291.8h7.2M401.7 1326.6h7.2M401.7 1314.3h7.2M401.7 1312h7.2M401.7 1328.6h7.2M401.7 1336.4h7.2M401.7 1299.5h7.2M401.7 1349.1h7.2M401.7 1317.4h7.2M401.7 1350.8h7.2M401.7 1322.6h7.2M401.7 1312.8h7.2M401.7 1325.7h7.2M401.7 1297.7h7.2M401.7 1350h7.2M401.7 1349.7h7.2M401.7 1386.9h7.2M401.7 1260.8h7.2M401.7 1347.6h7.2M401.7 1321.6h7.2M401.7 1289.9h7.2M401.7 1278.9h7.2M401.7 1328.2h7.2M401.7 1330.9h7.2M401.7 1347h7.2M401.7 1299.9h7.2M401.7 1357.3h7.2M401.7 1320.3h7.2M401.7 1351.2h7.2M401.7 1345.2h7.2M401.7 1339h7.2M401.7 1295.9h7.2M401.7 1318h7.2M401.7 1329.8h7.2M401.7 1321.9h7.2M401.7 1365.4h7.2M401.7 1348h7.2M401.7 1315.8h7.2M401.7 1327.5h7.2M401.7 1316.9h7.2M401.7 1354.8h7.2M401.7 1311.6h7.2M401.7 1356.1h7.2M401.7 1300.9h7.2M401.7 1324.9h7.2M401.7 1353.2h7.2M401.7 1285.1h7.2M401.7 1315.3h7.2M401.7 1325.4h7.2M401.7 1306.8h7.2M401.7 1270.2h7.2M401.7 1327.2h7.2M401.7 1314.2h7.2M401.7 1343h7.2M401.7 1323.8h7.2M401.7 1320.9h7.2M401.7 1326.9h7.2M401.7 1362.5h7.2M401.7 1299.3h7.2M401.7 1375.3h7.2M401.7 1313.9h7.2M401.7 1341.7h7.2M401.7 1391.2h7.2M401.7 1276.8h7.2M401.7 1324.2h7.2M401.7 1330.6h7.2M401.7 1345.4h7.2M401.7 1331h7.2M401.7 1333.9h7.2M621.6 1424.1v5.8M413.8 1424.1v5.8M415.7 1424.1v5.8M597.2 1424.1v5.8M593.5 1424.1v5.8M576.6 1424.1v5.8M598 1424.1v5.8M421.3 1424.1v5.8M426.9 1424.1v5.8M574.8 1424.1v5.8M538.4 1424.1v5.8M508 1424.1v5.8M496.9 1424.1v5.8M501.1 1424.1v5.8M513.7 1424.1v5.8M484.8 1424.1v5.8M508.4 1424.1v5.8M516.8 1424.1v5.8M560.1 1424.1v5.8M506.6 1424.1v5.8M538.9 1424.1v5.8M475.9 1424.1v5.8M535.5 1424.1v5.8M513.5 1424.1v5.8M491.4 1424.1v5.8M507.6 1424.1v5.8M536.9 1424.1v5.8M498.2 1424.1v5.8M540.8 1424.1v5.8M556.5 1424.1v5.8M559.6 1424.1v5.8M559.6 1424.1v5.8M468.3 1424.1v5.8M519.2 1424.1v5.8M486.9 1424.1v5.8M538.3 1424.1v5.8M510.8 1424.1v5.8M515.6 1424.1v5.8M523.1 1424.1v5.8M489.8 1424.1v5.8M511.5 1424.1v5.8M485.8 1424.1v5.8M574.3 1424.1v5.8M494.1 1424.1v5.8M509 1424.1v5.8M452.8 1424.1v5.8M461.9 1424.1v5.8M482.1 1424.1v5.8M533.7 1424.1v5.8M532.9 1424.1v5.8M517.4 1424.1v5.8M488.3 1424.1v5.8M567 1424.1v5.8M476.1 1424.1v5.8M481.5 1424.1v5.8M523.9 1424.1v5.8M477.1 1424.1v5.8M517 1424.1v5.8M539.2 1424.1v5.8M506.3 1424.1v5.8M521.4 1424.1v5.8M509.8 1424.1v5.8M487.2 1424.1v5.8M411.9 1424.1v5.8M469.9 1424.1v5.8M508.3 1424.1v5.8M456.6 1424.1v5.8M490.7 1424.1v5.8M515.1 1424.1v5.8M550.8 1424.1v5.8M465.2 1424.1v5.8M491.8 1424.1v5.8M515.7 1424.1v5.8M525.2 1424.1v5.8M464.7 1424.1v5.8M567.5 1424.1v5.8M482.6 1424.1v5.8M543 1424.1v5.8M502.1 1424.1v5.8M521.5 1424.1v5.8M561.5 1424.1v5.8M531 1424.1v5.8M512.7 1424.1v5.8M476.6 1424.1v5.8M487.7 1424.1v5.8M463.2 1424.1v5.8M572.6 1424.1v5.8M459.1 1424.1v5.8M426.6 1424.1v5.8M560.8 1424.1v5.8M549.1 1424.1v5.8M497.1 1424.1v5.8M535.2 1424.1v5.8M482.3 1424.1v5.8M490.2 1424.1v5.8M524.5 1424.1v5.8M521 1424.1v5.8M493.9 1424.1v5.8M560.2 1424.1v5.8M532 1424.1v5.8M512.9 1424.1v5.8M470.8 1424.1v5.8M512.9 1424.1v5.8M498.4 1424.1v5.8M506 1424.1v5.8M534 1424.1v5.8M490.1 1424.1v5.8M516.9 1424.1v5.8M533.9 1424.1v5.8M519.7 1424.1v5.8M581.7 1424.1v5.8M452.8 1424.1v5.8M506.4 1424.1v5.8M470.6 1424.1v5.8M506.2 1424.1v5.8M588.7 1424.1v5.8M456.1 1424.1v5.8M499 1424.1v5.8M529.3 1424.1v5.8M511.3 1424.1v5.8M537.6 1424.1v5.8M458.6 1424.1v5.8M539.5 1424.1v5.8M477.8 1424.1v5.8M469.4 1424.1v5.8M526.4 1424.1v5.8M523.5 1424.1v5.8M485 1424.1v5.8M482.1 1424.1v5.8M501.8 1424.1v5.8M507.9 1424.1v5.8M502.8 1424.1v5.8M475.8 1424.1v5.8M434 1424.1v5.8M550.1 1424.1v5.8M513.7 1424.1v5.8M468.5 1424.1v5.8M458 1424.1v5.8M486 1424.1v5.8M494.8 1424.1v5.8M440 1424.1v5.8M552.8 1424.1v5.8M521.7 1424.1v5.8M497.7 1424.1v5.8M519.2 1424.1v5.8M515.4 1424.1v5.8M542 1424.1v5.8M512.9 1424.1v5.8M548.4 1424.1v5.8M557.5 1424.1v5.8M498 1424.1v5.8M493.5 1424.1v5.8M479.7 1424.1v5.8M500.5 1424.1v5.8M484.7 1424.1v5.8M508.3 1424.1v5.8M517.7 1424.1v5.8M525.1 1424.1v5.8M470.9 1424.1v5.8M542.6 1424.1v5.8M498 1424.1v5.8M504.3 1424.1v5.8M491.4 1424.1v5.8M443.8 1424.1v5.8M516 1424.1v5.8M451.1 1424.1v5.8M543.3 1424.1v5.8M509.1 1424.1v5.8M557.8 1424.1v5.8M528.6 1424.1v5.8M530.3 1424.1v5.8M552.7 1424.1v5.8M506.5 1424.1v5.8M557.1 1424.1v5.8M503.7 1424.1v5.8M516.1 1424.1v5.8M486.2 1424.1v5.8M525.2 1424.1v5.8M529.2 1424.1v5.8M491.7 1424.1v5.8M466.7 1424.1v5.8M506.6 1424.1v5.8M521.3 1424.1v5.8M502.7 1424.1v5.8M476.5 1424.1v5.8M484.6 1424.1v5.8M499.2 1424.1v5.8M423.6 1424.1v5.8M489 1424.1v5.8M553.8 1424.1v5.8M466.6 1424.1v5.8M500.7 1424.1v5.8M561.8 1424.1v5.8M530.4 1424.1v5.8M537.2 1424.1v5.8M503 1424.1v5.8M465.2 1424.1v5.8M600 1424.1v5.8M517.4 1424.1v5.8M515.4 1424.1v5.8M560.3 1424.1v5.8M533.7 1424.1v5.8M509.6 1424.1v5.8M472.3 1424.1v5.8M502.7 1424.1v5.8M502.9 1424.1v5.8M486 1424.1v5.8M479.9 1424.1v5.8M475.6 1424.1v5.8M503.9 1424.1v5.8M488.6 1424.1v5.8M520.7 1424.1v5.8M540.1 1424.1v5.8M517.8 1424.1v5.8M508.3 1424.1v5.8M557.6 1424.1v5.8M528.6 1424.1v5.8M460.3 1424.1v5.8M484.6 1424.1v5.8M513.8 1424.1v5.8M479.4 1424.1v5.8M531.9 1424.1v5.8M451.4 1424.1v5.8M446.4 1424.1v5.8M539 1424.1v5.8M526.2 1424.1v5.8M456.3 1424.1v5.8M510 1424.1v5.8M550.6 1424.1v5.8M471.8 1424.1v5.8M469.4 1424.1v5.8M468.6 1424.1v5.8M476 1424.1v5.8M451.9 1424.1v5.8M492 1424.1v5.8M461.1 1424.1v5.8M509.5 1424.1v5.8M579.1 1424.1v5.8M473.8 1424.1v5.8M536.6 1424.1v5.8M544.9 1424.1v5.8M433.5 1424.1v5.8M511 1424.1v5.8M507.1 1424.1v5.8M496.7 1424.1v5.8M533.1 1424.1v5.8M493.4 1424.1v5.8M518.8 1424.1v5.8M495 1424.1v5.8M503.1 1424.1v5.8M482.3 1424.1v5.8M580.4 1424.1v5.8M505.7 1424.1v5.8M471.6 1424.1v5.8M570 1424.1v5.8M558 1424.1v5.8M501.1 1424.1v5.8M486.4 1424.1v5.8M483.8 1424.1v5.8M547 1424.1v5.8M497 1424.1v5.8M484.6 1424.1v5.8M534.4 1424.1v5.8M498.8 1424.1v5.8M505.7 1424.1v5.8M569.6 1424.1v5.8M535.1 1424.1v5.8M547.4 1424.1v5.8M520.8 1424.1v5.8M548.7 1424.1v5.8M502 1424.1v5.8M538.3 1424.1v5.8M541 1424.1v5.8M494.2 1424.1v5.8M466.2 1424.1v5.8M524.6 1424.1v5.8M503.6 1424.1v5.8M526.9 1424.1v5.8M488.2 1424.1v5.8M524.4 1424.1v5.8M538.3 1424.1v5.8M583.3 1424.1v5.8M564.7 1424.1v5.8M520 1424.1v5.8M553.5 1424.1v5.8M487.3 1424.1v5.8M545.1 1424.1v5.8M511.9 1424.1v5.8M550.1 1424.1v5.8M518.1 1424.1v5.8M500.1 1424.1v5.8M484.7 1424.1v5.8M547.7 1424.1v5.8M509.3 1424.1v5.8M530.3 1424.1v5.8M522.9 1424.1v5.8M441.9 1424.1v5.8M526.8 1424.1v5.8M495.5 1424.1v5.8M520 1424.1v5.8M522.9 1424.1v5.8M449.6 1424.1v5.8M497.3 1424.1v5.8" stroke="#7dca72" stroke-width="0.9" fill="none"/>
<path d="M412.1 1369.1Q517 1326.6 621.8 1266.5L621.8 1280.5Q517 1321.4 412.1 1379.9Z" fill="#999" fill-opacity="0.4"/>
<g fill="#9440a8"><circle cx="621.6" cy="1278.9" r="2.15"/><circle cx="413.8" cy="1400.3" r="2.15"/><circle cx="415.7" cy="1397.9" r="2.15"/><circle cx="597.2" cy="1257.8" r="2.15"/><circle cx="593.5" cy="1278.1" r="2.15"/><circle cx="576.6" cy="1303.3" r="2.15"/><circle cx="598" cy="1298.1" r="2.15"/><circle cx="421.3" cy="1406.7" r="2.15"/><circle cx="426.9" cy="1395.5" r="2.15"/><circle cx="574.8" cy="1343.1" r="2.15"/><circle cx="538.4" cy="1301.8" r="2.15"/><circle cx="508" cy="1340" r="2.15"/><circle cx="496.9" cy="1316" r="2.15"/><circle cx="501.1" cy="1333" r="2.15"/><circle cx="513.7" cy="1368.1" r="2.15"/><circle cx="484.8" cy="1301.5" r="2.15"/><circle cx="508.4" cy="1318.3" r="2.15"/><circle cx="516.8" cy="1306.1" r="2.15"/><circle cx="560.1" cy="1313.9" r="2.15"/><circle cx="506.6" cy="1341.8" r="2.15"/><circle cx="538.9" cy="1317.1" r="2.15"/><circle cx="475.9" cy="1308.4" r="2.15"/><circle cx="535.5" cy="1341.3" r="2.15"/><circle cx="513.5" cy="1348.8" r="2.15"/><circle cx="491.4" cy="1327" r="2.15"/><circle cx="507.6" cy="1370.7" r="2.15"/><circle cx="536.9" cy="1283.3" r="2.15"/><circle cx="498.2" cy="1358.5" r="2.15"/><circle cx="540.8" cy="1287.5" r="2.15"/><circle cx="556.5" cy="1307.3" r="2.15"/><circle cx="559.6" cy="1309.9" r="2.15"/><circle cx="559.6" cy="1326.5" r="2.15"/><circle cx="468.3" cy="1319.4" r="2.15"/><circle cx="519.2" cy="1329.1" r="2.15"/><circle cx="486.9" cy="1368.2" r="2.15"/><circle cx="538.3" cy="1300.2" r="2.15"/><circle cx="510.8" cy="1330.7" r="2.15"/><circle cx="515.6" cy="1314.5" r="2.15"/><circle cx="523.1" cy="1329.9" r="2.15"/><circle cx="489.8" cy="1331" r="2.15"/><circle cx="511.5" cy="1317.9" r="2.15"/><circle cx="485.8" cy="1340.3" r="2.15"/><circle cx="574.3" cy="1329.1" r="2.15"/><circle cx="494.1" cy="1326.1" r="2.15"/><circle cx="509" cy="1299.9" r="2.15"/><circle cx="452.8" cy="1348.6" r="2.15"/><circle cx="461.9" cy="1333.7" r="2.15"/><circle cx="482.1" cy="1326.3" r="2.15"/><circle cx="533.7" cy="1322.3" r="2.15"/><circle cx="532.9" cy="1294.2" r="2.15"/><circle cx="517.4" cy="1329.3" r="2.15"/><circle cx="488.3" cy="1360.4" r="2.15"/><circle cx="567" cy="1325" r="2.15"/><circle cx="476.1" cy="1324.1" r="2.15"/><circle cx="481.5" cy="1328.2" r="2.15"/><circle cx="523.9" cy="1307.8" r="2.15"/><circle cx="477.1" cy="1357" r="2.15"/><circle cx="517" cy="1362.6" r="2.15"/><circle cx="539.2" cy="1296.8" r="2.15"/><circle cx="506.3" cy="1332" r="2.15"/><circle cx="521.4" cy="1335" r="2.15"/><circle cx="509.8" cy="1341.1" r="2.15"/><circle cx="487.2" cy="1352" r="2.15"/><circle cx="411.9" cy="1417.7" r="2.15"/><circle cx="469.9" cy="1335.9" r="2.15"/><circle cx="508.3" cy="1314.3" r="2.15"/><circle cx="456.6" cy="1337.6" r="2.15"/><circle cx="490.7" cy="1345.7" r="2.15"/><circle cx="515.1" cy="1351.7" r="2.15"/><circle cx="550.8" cy="1335.7" r="2.15"/><circle cx="465.2" cy="1357.8" r="2.15"/><circle cx="491.8" cy="1301.2" r="2.15"/><circle cx="515.7" cy="1305.8" r="2.15"/><circle cx="525.2" cy="1319.7" r="2.15"/><circle cx="464.7" cy="1341.7" r="2.15"/><circle cx="567.5" cy="1281.4" r="2.15"/><circle cx="482.6" cy="1341.1" r="2.15"/><circle cx="543" cy="1306.3" r="2.15"/><circle cx="502.1" cy="1327.8" r="2.15"/><circle cx="521.5" cy="1334.4" r="2.15"/><circle cx="561.5" cy="1325.4" r="2.15"/><circle cx="531" cy="1329" r="2.15"/><circle cx="512.7" cy="1302.7" r="2.15"/><circle cx="476.6" cy="1378.4" r="2.15"/><circle cx="487.7" cy="1348.8" r="2.15"/><circle cx="463.2" cy="1361.1" r="2.15"/><circle cx="572.6" cy="1294.9" r="2.15"/><circle cx="459.1" cy="1363.9" r="2.15"/><circle cx="426.6" cy="1354.9" r="2.15"/><circle cx="560.8" cy="1309.6" r="2.15"/><circle cx="549.1" cy="1308" r="2.15"/><circle cx="497.1" cy="1320" r="2.15"/><circle cx="535.2" cy="1344.7" r="2.15"/><circle cx="482.3" cy="1319.7" r="2.15"/><circle cx="490.2" cy="1316.9" r="2.15"/><circle cx="524.5" cy="1348.1" r="2.15"/><circle cx="521" cy="1324.4" r="2.15"/><circle cx="493.9" cy="1352" r="2.15"/><circle cx="560.2" cy="1309.8" r="2.15"/><circle cx="532" cy="1300.5" r="2.15"/><circle cx="512.9" cy="1365.8" r="2.15"/><circle cx="470.8" cy="1330.8" r="2.15"/><circle cx="512.9" cy="1317.7" r="2.15"/><circle cx="498.4" cy="1334.3" r="2.15"/><circle cx="506" cy="1284" r="2.15"/><circle cx="534" cy="1326" r="2.15"/><circle cx="490.1" cy="1369.7" r="2.15"/><circle cx="516.9" cy="1316.6" r="2.15"/><circle cx="533.9" cy="1312.7" r="2.15"/><circle cx="519.7" cy="1336.2" r="2.15"/><circle cx="581.7" cy="1335.5" r="2.15"/><circle cx="452.8" cy="1397.3" r="2.15"/><circle cx="506.4" cy="1295.9" r="2.15"/><circle cx="470.6" cy="1380.1" r="2.15"/><circle cx="506.2" cy="1301.2" r="2.15"/><circle cx="588.7" cy="1270.3" r="2.15"/><circle cx="456.1" cy="1402" r="2.15"/><circle cx="499" cy="1329.8" r="2.15"/><circle cx="529.3" cy="1304.8" r="2.15"/><circle cx="511.3" cy="1304.3" r="2.15"/><circle cx="537.6" cy="1286.1" r="2.15"/><circle cx="458.6" cy="1328.4" r="2.15"/><circle cx="539.5" cy="1313.7" r="2.15"/><circle cx="477.8" cy="1349.9" r="2.15"/><circle cx="469.4" cy="1353.3" r="2.15"/><circle cx="526.4" cy="1308.7" r="2.15"/><circle cx="523.5" cy="1340.6" r="2.15"/><circle cx="485" cy="1363.3" r="2.15"/><circle cx="482.1" cy="1294.6" r="2.15"/><circle cx="501.8" cy="1312.4" r="2.15"/><circle cx="507.9" cy="1306.9" r="2.15"/><circle cx="502.8" cy="1336.7" r="2.15"/><circle cx="475.8" cy="1363.6" r="2.15"/><circle cx="434" cy="1376.4" r="2.15"/><circle cx="550.1" cy="1324" r="2.15"/><circle cx="513.7" cy="1339.2" r="2.15"/><circle cx="468.5" cy="1382.2" r="2.15"/><circle cx="458" cy="1342.2" r="2.15"/><circle cx="486" cy="1333.6" r="2.15"/><circle cx="494.8" cy="1319.5" r="2.15"/><circle cx="440" cy="1363" r="2.15"/><circle cx="552.8" cy="1320.9" r="2.15"/><circle cx="521.7" cy="1279.8" r="2.15"/><circle cx="497.7" cy="1314.9" r="2.15"/><circle cx="519.2" cy="1311.6" r="2.15"/><circle cx="515.4" cy="1306.9" r="2.15"/><circle cx="542" cy="1317.8" r="2.15"/><circle cx="512.9" cy="1311.4" r="2.15"/><circle cx="548.4" cy="1323.9" r="2.15"/><circle cx="557.5" cy="1282.5" r="2.15"/><circle cx="498" cy="1314.8" r="2.15"/><circle cx="493.5" cy="1319.2" r="2.15"/><circle cx="479.7" cy="1335.6" r="2.15"/><circle cx="500.5" cy="1330.2" r="2.15"/><circle cx="484.7" cy="1336.5" r="2.15"/><circle cx="508.3" cy="1314" r="2.15"/><circle cx="517.7" cy="1333.5" r="2.15"/><circle cx="525.1" cy="1305.5" r="2.15"/><circle cx="470.9" cy="1332.2" r="2.15"/><circle cx="542.6" cy="1337.6" r="2.15"/><circle cx="498" cy="1370" r="2.15"/><circle cx="504.3" cy="1324.9" r="2.15"/><circle cx="491.4" cy="1344.8" r="2.15"/><circle cx="443.8" cy="1379.2" r="2.15"/><circle cx="516" cy="1350.9" r="2.15"/><circle cx="451.1" cy="1381.7" r="2.15"/><circle cx="543.3" cy="1345.2" r="2.15"/><circle cx="509.1" cy="1336" r="2.15"/><circle cx="557.8" cy="1335.8" r="2.15"/><circle cx="528.6" cy="1354.2" r="2.15"/><circle cx="530.3" cy="1320.3" r="2.15"/><circle cx="552.7" cy="1274.6" r="2.15"/><circle cx="506.5" cy="1304.3" r="2.15"/><circle cx="557.1" cy="1307.4" r="2.15"/><circle cx="503.7" cy="1323.5" r="2.15"/><circle cx="516.1" cy="1330.2" r="2.15"/><circle cx="486.2" cy="1343.1" r="2.15"/><circle cx="525.2" cy="1336.5" r="2.15"/><circle cx="529.2" cy="1318" r="2.15"/><circle cx="491.7" cy="1359.6" r="2.15"/><circle cx="466.7" cy="1366" r="2.15"/><circle cx="506.6" cy="1333.3" r="2.15"/><circle cx="521.3" cy="1324" r="2.15"/><circle cx="502.7" cy="1289.6" r="2.15"/><circle cx="476.5" cy="1363.8" r="2.15"/><circle cx="484.6" cy="1364.4" r="2.15"/><circle cx="499.2" cy="1320.5" r="2.15"/><circle cx="423.6" cy="1361" r="2.15"/><circle cx="489" cy="1325" r="2.15"/><circle cx="553.8" cy="1308.2" r="2.15"/><circle cx="466.6" cy="1382.1" r="2.15"/><circle cx="500.7" cy="1340.5" r="2.15"/><circle cx="561.8" cy="1327.9" r="2.15"/><circle cx="530.4" cy="1319.2" r="2.15"/><circle cx="537.2" cy="1277.8" r="2.15"/><circle cx="503" cy="1338.5" r="2.15"/><circle cx="465.2" cy="1349.4" r="2.15"/><circle cx="600" cy="1259.2" r="2.15"/><circle cx="517.4" cy="1352.2" r="2.15"/><circle cx="515.4" cy="1309.8" r="2.15"/><circle cx="560.3" cy="1309.4" r="2.15"/><circle cx="533.7" cy="1330.4" r="2.15"/><circle cx="509.6" cy="1336.2" r="2.15"/><circle cx="472.3" cy="1368.5" r="2.15"/><circle cx="502.7" cy="1314.3" r="2.15"/><circle cx="502.9" cy="1330" r="2.15"/><circle cx="486" cy="1350.4" r="2.15"/><circle cx="479.9" cy="1333.8" r="2.15"/><circle cx="475.6" cy="1377.3" r="2.15"/><circle cx="503.9" cy="1389" r="2.15"/><circle cx="488.6" cy="1312.1" r="2.15"/><circle cx="520.7" cy="1334.9" r="2.15"/><circle cx="540.1" cy="1297.1" r="2.15"/><circle cx="517.8" cy="1343.2" r="2.15"/><circle cx="508.3" cy="1367.1" r="2.15"/><circle cx="557.6" cy="1326.5" r="2.15"/><circle cx="528.6" cy="1299.8" r="2.15"/><circle cx="460.3" cy="1346.4" r="2.15"/><circle cx="484.6" cy="1354.7" r="2.15"/><circle cx="513.8" cy="1312.3" r="2.15"/><circle cx="479.4" cy="1350.3" r="2.15"/><circle cx="531.9" cy="1313.5" r="2.15"/><circle cx="451.4" cy="1381.1" r="2.15"/><circle cx="446.4" cy="1408.6" r="2.15"/><circle cx="539" cy="1311.7" r="2.15"/><circle cx="526.2" cy="1306.2" r="2.15"/><circle cx="456.3" cy="1374.9" r="2.15"/><circle cx="510" cy="1295.6" r="2.15"/><circle cx="550.6" cy="1301.7" r="2.15"/><circle cx="471.8" cy="1312" r="2.15"/><circle cx="469.4" cy="1335.8" r="2.15"/><circle cx="468.6" cy="1324.4" r="2.15"/><circle cx="476" cy="1351.3" r="2.15"/><circle cx="451.9" cy="1389.1" r="2.15"/><circle cx="492" cy="1291.8" r="2.15"/><circle cx="461.1" cy="1326.6" r="2.15"/><circle cx="509.5" cy="1314.3" r="2.15"/><circle cx="579.1" cy="1312" r="2.15"/><circle cx="473.8" cy="1328.6" r="2.15"/><circle cx="536.6" cy="1336.4" r="2.15"/><circle cx="544.9" cy="1299.5" r="2.15"/><circle cx="433.5" cy="1349.1" r="2.15"/><circle cx="511" cy="1317.4" r="2.15"/><circle cx="507.1" cy="1350.8" r="2.15"/><circle cx="496.7" cy="1322.6" r="2.15"/><circle cx="533.1" cy="1312.8" r="2.15"/><circle cx="493.4" cy="1325.7" r="2.15"/><circle cx="518.8" cy="1297.7" r="2.15"/><circle cx="495" cy="1350" r="2.15"/><circle cx="503.1" cy="1349.7" r="2.15"/><circle cx="482.3" cy="1386.9" r="2.15"/><circle cx="580.4" cy="1260.8" r="2.15"/><circle cx="505.7" cy="1347.6" r="2.15"/><circle cx="471.6" cy="1321.6" r="2.15"/><circle cx="570" cy="1289.9" r="2.15"/><circle cx="558" cy="1278.9" r="2.15"/><circle cx="501.1" cy="1328.2" r="2.15"/><circle cx="486.4" cy="1330.9" r="2.15"/><circle cx="483.8" cy="1347" r="2.15"/><circle cx="547" cy="1299.9" r="2.15"/><circle cx="497" cy="1357.3" r="2.15"/><circle cx="484.6" cy="1320.3" r="2.15"/><circle cx="534.4" cy="1351.2" r="2.15"/><circle cx="498.8" cy="1345.2" r="2.15"/><circle cx="505.7" cy="1339" r="2.15"/><circle cx="569.6" cy="1295.9" r="2.15"/><circle cx="535.1" cy="1318" r="2.15"/><circle cx="547.4" cy="1329.8" r="2.15"/><circle cx="520.8" cy="1321.9" r="2.15"/><circle cx="548.7" cy="1365.4" r="2.15"/><circle cx="502" cy="1348" r="2.15"/><circle cx="538.3" cy="1315.8" r="2.15"/><circle cx="541" cy="1327.5" r="2.15"/><circle cx="494.2" cy="1316.9" r="2.15"/><circle cx="466.2" cy="1354.8" r="2.15"/><circle cx="524.6" cy="1311.6" r="2.15"/><circle cx="503.6" cy="1356.1" r="2.15"/><circle cx="526.9" cy="1300.9" r="2.15"/><circle cx="488.2" cy="1324.9" r="2.15"/><circle cx="524.4" cy="1353.2" r="2.15"/><circle cx="538.3" cy="1285.1" r="2.15"/><circle cx="583.3" cy="1315.3" r="2.15"/><circle cx="564.7" cy="1325.4" r="2.15"/><circle cx="520" cy="1306.8" r="2.15"/><circle cx="553.5" cy="1270.2" r="2.15"/><circle cx="487.3" cy="1327.2" r="2.15"/><circle cx="545.1" cy="1314.2" r="2.15"/><circle cx="511.9" cy="1343" r="2.15"/><circle cx="550.1" cy="1323.8" r="2.15"/><circle cx="518.1" cy="1320.9" r="2.15"/><circle cx="500.1" cy="1326.9" r="2.15"/><circle cx="484.7" cy="1362.5" r="2.15"/><circle cx="547.7" cy="1299.3" r="2.15"/><circle cx="509.3" cy="1375.3" r="2.15"/><circle cx="530.3" cy="1313.9" r="2.15"/><circle cx="522.9" cy="1341.7" r="2.15"/><circle cx="441.9" cy="1391.2" r="2.15"/><circle cx="526.8" cy="1276.8" r="2.15"/><circle cx="495.5" cy="1324.2" r="2.15"/><circle cx="520" cy="1330.6" r="2.15"/><circle cx="522.9" cy="1345.4" r="2.15"/><circle cx="449.6" cy="1331" r="2.15"/><circle cx="497.3" cy="1333.9" r="2.15"/></g>
<path d="M412.1 1374.5L621.8 1273.5" stroke="#fbb77e" stroke-width="3.4" fill="none"/>
<text x="516.9" y="1243.4" font-size="12.35" text-anchor="middle" fill="#111">n = 303, r = 0.62(pearson), p.value= 0</text>
<text x="517.1" y="1452" font-size="10.4" text-anchor="middle" fill="#222">Expression of FOXO1 (log2(TPM))</text>
<text x="387" y="1339.9" font-size="10.3" text-anchor="middle" fill="#222" transform="rotate(-90 387 1339.9)">Expression of STAT5B (log2(TPM))</text>
<text x="432.5" y="1440.8" font-size="8.5" text-anchor="middle" fill="#4d4d4d">0</text>
<text x="469.9" y="1440.8" font-size="8.5" text-anchor="middle" fill="#4d4d4d">1</text>
<text x="507.4" y="1440.8" font-size="8.5" text-anchor="middle" fill="#4d4d4d">2</text>
<text x="544.8" y="1440.8" font-size="8.5" text-anchor="middle" fill="#4d4d4d">3</text>
<text x="582.3" y="1440.8" font-size="8.5" text-anchor="middle" fill="#4d4d4d">4</text>
<text x="619.7" y="1440.8" font-size="8.5" text-anchor="middle" fill="#4d4d4d">5</text>
<text x="396.9" y="1397.4" font-size="8.5" text-anchor="end" fill="#4d4d4d">3</text>
<text x="396.9" y="1354.1" font-size="8.5" text-anchor="end" fill="#4d4d4d">4</text>
<text x="396.9" y="1310.7" font-size="8.5" text-anchor="end" fill="#4d4d4d">5</text>
<text x="396.9" y="1267.4" font-size="8.5" text-anchor="end" fill="#4d4d4d">6</text>
<path d="M164.6 1534.9V1712.2M201.7 1534.9V1712.2M238.8 1534.9V1712.2M275.9 1534.9V1712.2M313 1534.9V1712.2M127.6 1534.9V1712.2M125.6 1675.4H343.2M125.6 1630.2H343.2M125.6 1585H343.2M125.6 1539.8H343.2" stroke="#f1f1f1" stroke-width="0.6" fill="none"/>
<path d="M146.1 1534.9V1712.2M183.2 1534.9V1712.2M220.3 1534.9V1712.2M257.3 1534.9V1712.2M294.4 1534.9V1712.2M331.5 1534.9V1712.2M125.6 1698H343.2M125.6 1652.8H343.2M125.6 1607.6H343.2M125.6 1562.4H343.2" stroke="#e6e6e6" stroke-width="0.9" fill="none"/>
<path d="M115.2 1631.8h7.2M115.2 1704.8h7.2M115.2 1625.7h7.2M115.2 1595.4h7.2M115.2 1602.9h7.2M115.2 1648.8h7.2M115.2 1665.5h7.2M115.2 1618.6h7.2M115.2 1657h7.2M115.2 1599.8h7.2M115.2 1696.8h7.2M115.2 1640.7h7.2M115.2 1616h7.2M115.2 1635.4h7.2M115.2 1582.1h7.2M115.2 1613.5h7.2M115.2 1604.5h7.2M115.2 1612.8h7.2M115.2 1629h7.2M115.2 1654.9h7.2M115.2 1649.7h7.2M115.2 1605.1h7.2M115.2 1632.9h7.2M115.2 1689.7h7.2M115.2 1631h7.2M115.2 1631.1h7.2M115.2 1641.1h7.2M115.2 1623.9h7.2M115.2 1651.1h7.2M115.2 1552.4h7.2M115.2 1635.1h7.2M115.2 1649.8h7.2M115.2 1637.6h7.2M115.2 1625.9h7.2M115.2 1613.3h7.2M115.2 1620.8h7.2M115.2 1614.6h7.2M115.2 1630.9h7.2M115.2 1637.2h7.2M115.2 1665h7.2M115.2 1652.2h7.2M115.2 1638.7h7.2M115.2 1653.9h7.2M115.2 1613.8h7.2M115.2 1640.9h7.2M115.2 1611.5h7.2M115.2 1620h7.2M115.2 1646.2h7.2M115.2 1544.8h7.2M115.2 1589.3h7.2M115.2 1649.2h7.2M115.2 1624.7h7.2M115.2 1637.7h7.2M115.2 1664.3h7.2M115.2 1633.8h7.2M115.2 1643.2h7.2M115.2 1615.1h7.2M115.2 1669.2h7.2M115.2 1619.6h7.2M115.2 1597.6h7.2M115.2 1623.2h7.2M115.2 1580.5h7.2M115.2 1583h7.2M115.2 1684.6h7.2M115.2 1650.3h7.2M115.2 1648.3h7.2M115.2 1601.6h7.2M115.2 1649.6h7.2M115.2 1688.4h7.2M115.2 1642.1h7.2M115.2 1650.1h7.2M115.2 1640.5h7.2M115.2 1636.1h7.2M115.2 1628.8h7.2M115.2 1663.1h7.2M115.2 1622.5h7.2M115.2 1650.5h7.2M115.2 1638.2h7.2M115.2 1642h7.2M115.2 1607.6h7.2M115.2 1616h7.2M115.2 1610.9h7.2M115.2 1652.6h7.2M115.2 1685.5h7.2M115.2 1642.1h7.2M115.2 1618.7h7.2M115.2 1621.6h7.2M115.2 1657.2h7.2M115.2 1692.1h7.2M115.2 1614.1h7.2M115.2 1647.7h7.2M115.2 1680.9h7.2M115.2 1618.2h7.2M115.2 1636.3h7.2M115.2 1602.9h7.2M115.2 1664h7.2M115.2 1668.7h7.2M115.2 1632.3h7.2M115.2 1580.4h7.2M115.2 1623.3h7.2M115.2 1614.5h7.2M115.2 1677.8h7.2M115.2 1624.5h7.2M115.2 1675.7h7.2M115.2 1683.3h7.2M115.2 1608.8h7.2M115.2 1605.6h7.2M115.2 1650.7h7.2M115.2 1623.5h7.2M115.2 1615.6h7.2M115.2 1624.6h7.2M115.2 1642.4h7.2M115.2 1623.6h7.2M115.2 1663.4h7.2M115.2 1663.2h7.2M115.2 1605.4h7.2M115.2 1579.9h7.2M115.2 1645.2h7.2M115.2 1641h7.2M115.2 1580.2h7.2M115.2 1644.8h7.2M115.2 1662.3h7.2M115.2 1574.4h7.2M115.2 1619.6h7.2M115.2 1620.1h7.2M115.2 1687.6h7.2M115.2 1594.7h7.2M115.2 1643.9h7.2M115.2 1610.3h7.2M115.2 1618.9h7.2M115.2 1582.1h7.2M115.2 1610.5h7.2M115.2 1588.6h7.2M115.2 1664.3h7.2M115.2 1593.8h7.2M115.2 1614.6h7.2M115.2 1654h7.2M115.2 1679.4h7.2M115.2 1642.5h7.2M115.2 1658.6h7.2M115.2 1657.6h7.2M115.2 1637.1h7.2M115.2 1647.6h7.2M115.2 1631.1h7.2M115.2 1626h7.2M115.2 1658.1h7.2M115.2 1646.9h7.2M115.2 1625.3h7.2M115.2 1638.7h7.2M115.2 1635.8h7.2M115.2 1659.9h7.2M115.2 1685.4h7.2M115.2 1644.8h7.2M115.2 1661.9h7.2M115.2 1639.2h7.2M115.2 1640.7h7.2M115.2 1641.7h7.2M115.2 1604.7h7.2M115.2 1662.2h7.2M115.2 1594.1h7.2M115.2 1624.8h7.2M115.2 1559.9h7.2M115.2 1660.1h7.2M115.2 1663h7.2M115.2 1620h7.2M115.2 1621.4h7.2M115.2 1633.2h7.2M115.2 1610.4h7.2M115.2 1619.3h7.2M115.2 1667.8h7.2M115.2 1619.3h7.2M115.2 1599.9h7.2M115.2 1621.4h7.2M115.2 1625.3h7.2M115.2 1657.1h7.2M115.2 1610.1h7.2M115.2 1596.7h7.2M115.2 1667h7.2M115.2 1610.6h7.2M115.2 1684.5h7.2M115.2 1634.2h7.2M115.2 1704.8h7.2M115.2 1634.3h7.2M115.2 1615.2h7.2M115.2 1677.9h7.2M115.2 1673.5h7.2M115.2 1630.6h7.2M115.2 1655.3h7.2M115.2 1627.2h7.2M115.2 1584.9h7.2M115.2 1672.4h7.2M115.2 1626.8h7.2M115.2 1675.1h7.2M115.2 1704.8h7.2M115.2 1653.5h7.2M115.2 1704.8h7.2M115.2 1626.5h7.2M115.2 1590h7.2M115.2 1616.3h7.2M115.2 1675.7h7.2M115.2 1643.1h7.2M115.2 1674.5h7.2M115.2 1637.2h7.2M115.2 1667.2h7.2M115.2 1602.7h7.2M115.2 1621.4h7.2M115.2 1671.2h7.2M115.2 1596.7h7.2M115.2 1632.2h7.2M115.2 1608.6h7.2M115.2 1634.9h7.2M115.2 1593.6h7.2M115.2 1594.1h7.2M115.2 1607.8h7.2M115.2 1592.9h7.2M115.2 1604.8h7.2M115.2 1619h7.2M115.2 1661.6h7.2M115.2 1694.7h7.2M115.2 1595.8h7.2M115.2 1620.2h7.2M115.2 1657.3h7.2M115.2 1619h7.2M115.2 1638.6h7.2M115.2 1622.9h7.2M115.2 1576.6h7.2M115.2 1613.6h7.2M115.2 1668.7h7.2M115.2 1620.7h7.2M115.2 1610.1h7.2M115.2 1607.5h7.2M115.2 1623.9h7.2M115.2 1648h7.2M115.2 1631.8h7.2M115.2 1686.8h7.2M115.2 1604.7h7.2M115.2 1632.7h7.2M115.2 1633h7.2M115.2 1657.8h7.2M115.2 1621.1h7.2M115.2 1647.4h7.2M115.2 1673.2h7.2M115.2 1657.7h7.2M115.2 1583h7.2M115.2 1636.6h7.2M115.2 1612.2h7.2M115.2 1624.3h7.2M115.2 1646.4h7.2M115.2 1612.1h7.2M115.2 1636.6h7.2M115.2 1657.1h7.2M115.2 1645.4h7.2M115.2 1642.6h7.2M115.2 1651.7h7.2M115.2 1582.1h7.2M115.2 1691.9h7.2M115.2 1601.6h7.2M115.2 1594.8h7.2M115.2 1593.1h7.2M115.2 1643.6h7.2M115.2 1656.5h7.2M115.2 1600.6h7.2M115.2 1607.4h7.2M115.2 1624.6h7.2M115.2 1655.8h7.2M115.2 1627.2h7.2M115.2 1659h7.2M115.2 1577.6h7.2M115.2 1599.4h7.2M115.2 1635.3h7.2M115.2 1603.2h7.2M115.2 1621.3h7.2M115.2 1681h7.2M115.2 1617.8h7.2M115.2 1660.2h7.2M115.2 1618.9h7.2M115.2 1645.1h7.2M115.2 1655.4h7.2M115.2 1644.4h7.2M115.2 1598.7h7.2M115.2 1658.3h7.2M115.2 1643.9h7.2M115.2 1662.6h7.2M115.2 1646.1h7.2M115.2 1598h7.2M115.2 1614.8h7.2M115.2 1608.6h7.2M115.2 1616.5h7.2M115.2 1580.6h7.2M115.2 1587.2h7.2M115.2 1588.3h7.2M115.2 1659.9h7.2M115.2 1641.2h7.2M115.2 1609h7.2M115.2 1606.5h7.2M115.2 1642.5h7.2M115.2 1650h7.2M115.2 1601.8h7.2M115.2 1637.4h7.2M115.2 1649.6h7.2M115.2 1619.3h7.2M115.2 1658h7.2M115.2 1617.4h7.2M333.4 1706v5.8M127.6 1706v5.8M129.4 1706v5.8M309.3 1706v5.8M305.5 1706v5.8M288.9 1706v5.8M310 1706v5.8M135 1706v5.8M140.5 1706v5.8M287 1706v5.8M251 1706v5.8M220.9 1706v5.8M209.9 1706v5.8M214.1 1706v5.8M226.6 1706v5.8M197.9 1706v5.8M221.3 1706v5.8M229.6 1706v5.8M272.5 1706v5.8M219.5 1706v5.8M251.5 1706v5.8M189.1 1706v5.8M248.1 1706v5.8M226.3 1706v5.8M204.4 1706v5.8M220.5 1706v5.8M249.5 1706v5.8M211.2 1706v5.8M253.4 1706v5.8M268.9 1706v5.8M272 1706v5.8M271.9 1706v5.8M181.6 1706v5.8M232 1706v5.8M200 1706v5.8M250.9 1706v5.8M223.6 1706v5.8M228.4 1706v5.8M235.8 1706v5.8M202.8 1706v5.8M224.4 1706v5.8M198.8 1706v5.8M286.5 1706v5.8M207.1 1706v5.8M221.9 1706v5.8M166.2 1706v5.8M175.2 1706v5.8M195.2 1706v5.8M246.3 1706v5.8M245.5 1706v5.8M230.2 1706v5.8M201.3 1706v5.8M279.3 1706v5.8M189.3 1706v5.8M194.6 1706v5.8M236.6 1706v5.8M190.2 1706v5.8M229.7 1706v5.8M251.8 1706v5.8M219.2 1706v5.8M234.2 1706v5.8M222.6 1706v5.8M200.3 1706v5.8M125.7 1706v5.8M183.2 1706v5.8M221.2 1706v5.8M169.9 1706v5.8M203.8 1706v5.8M227.9 1706v5.8M263.3 1706v5.8M178.5 1706v5.8M204.8 1706v5.8M228.5 1706v5.8M237.9 1706v5.8M178 1706v5.8M279.8 1706v5.8M195.7 1706v5.8M255.6 1706v5.8M215.1 1706v5.8M234.2 1706v5.8M273.8 1706v5.8M243.7 1706v5.8M225.5 1706v5.8M189.8 1706v5.8M200.8 1706v5.8M176.5 1706v5.8M284.9 1706v5.8M172.5 1706v5.8M140.3 1706v5.8M273.1 1706v5.8M261.6 1706v5.8M210 1706v5.8M247.8 1706v5.8M195.4 1706v5.8M203.2 1706v5.8M237.2 1706v5.8M233.8 1706v5.8M206.9 1706v5.8M272.6 1706v5.8M244.6 1706v5.8M225.7 1706v5.8M184 1706v5.8M225.7 1706v5.8M211.3 1706v5.8M218.9 1706v5.8M246.6 1706v5.8M203.2 1706v5.8M229.7 1706v5.8M246.5 1706v5.8M232.5 1706v5.8M293.9 1706v5.8M166.2 1706v5.8M219.3 1706v5.8M183.9 1706v5.8M219.1 1706v5.8M300.8 1706v5.8M169.4 1706v5.8M212 1706v5.8M241.9 1706v5.8M224.2 1706v5.8M250.2 1706v5.8M172 1706v5.8M252.1 1706v5.8M190.9 1706v5.8M182.6 1706v5.8M239.1 1706v5.8M236.3 1706v5.8M198.1 1706v5.8M195.2 1706v5.8M214.8 1706v5.8M220.8 1706v5.8M215.7 1706v5.8M189 1706v5.8M147.6 1706v5.8M262.6 1706v5.8M226.6 1706v5.8M181.7 1706v5.8M171.3 1706v5.8M199 1706v5.8M207.8 1706v5.8M153.5 1706v5.8M265.3 1706v5.8M234.4 1706v5.8M210.7 1706v5.8M232 1706v5.8M228.2 1706v5.8M254.5 1706v5.8M225.8 1706v5.8M260.9 1706v5.8M269.9 1706v5.8M211 1706v5.8M206.5 1706v5.8M192.9 1706v5.8M213.5 1706v5.8M197.8 1706v5.8M221.1 1706v5.8M230.5 1706v5.8M237.8 1706v5.8M184.2 1706v5.8M255.1 1706v5.8M210.9 1706v5.8M217.2 1706v5.8M204.5 1706v5.8M157.3 1706v5.8M228.8 1706v5.8M164.5 1706v5.8M255.8 1706v5.8M222 1706v5.8M270.2 1706v5.8M241.3 1706v5.8M243 1706v5.8M265.1 1706v5.8M219.4 1706v5.8M269.5 1706v5.8M216.6 1706v5.8M228.9 1706v5.8M199.2 1706v5.8M237.9 1706v5.8M241.9 1706v5.8M204.7 1706v5.8M180 1706v5.8M219.5 1706v5.8M234 1706v5.8M215.6 1706v5.8M189.7 1706v5.8M197.7 1706v5.8M212.2 1706v5.8M137.3 1706v5.8M202 1706v5.8M266.2 1706v5.8M179.9 1706v5.8M213.7 1706v5.8M274.2 1706v5.8M243.1 1706v5.8M249.8 1706v5.8M215.9 1706v5.8M178.4 1706v5.8M311.9 1706v5.8M230.2 1706v5.8M228.2 1706v5.8M272.7 1706v5.8M246.3 1706v5.8M222.4 1706v5.8M185.6 1706v5.8M215.7 1706v5.8M215.9 1706v5.8M199.1 1706v5.8M193.1 1706v5.8M188.8 1706v5.8M216.8 1706v5.8M201.7 1706v5.8M233.5 1706v5.8M252.7 1706v5.8M230.5 1706v5.8M221.2 1706v5.8M270 1706v5.8M241.2 1706v5.8M173.6 1706v5.8M197.7 1706v5.8M226.7 1706v5.8M192.6 1706v5.8M244.5 1706v5.8M164.9 1706v5.8M159.9 1706v5.8M251.6 1706v5.8M238.9 1706v5.8M169.6 1706v5.8M222.8 1706v5.8M263.1 1706v5.8M185 1706v5.8M182.7 1706v5.8M181.8 1706v5.8M189.2 1706v5.8M165.3 1706v5.8M205 1706v5.8M174.4 1706v5.8M222.4 1706v5.8M291.3 1706v5.8M187 1706v5.8M249.2 1706v5.8M257.5 1706v5.8M147 1706v5.8M223.9 1706v5.8M220 1706v5.8M209.7 1706v5.8M245.7 1706v5.8M206.4 1706v5.8M231.5 1706v5.8M208 1706v5.8M216 1706v5.8M195.4 1706v5.8M292.6 1706v5.8M218.6 1706v5.8M184.8 1706v5.8M282.2 1706v5.8M270.4 1706v5.8M214.1 1706v5.8M199.5 1706v5.8M196.9 1706v5.8M259.5 1706v5.8M209.9 1706v5.8M197.7 1706v5.8M247.1 1706v5.8M211.8 1706v5.8M218.6 1706v5.8M281.9 1706v5.8M247.8 1706v5.8M259.9 1706v5.8M233.6 1706v5.8M261.2 1706v5.8M214.9 1706v5.8M250.9 1706v5.8M253.6 1706v5.8M207.2 1706v5.8M179.5 1706v5.8M237.3 1706v5.8M216.5 1706v5.8M239.6 1706v5.8M201.2 1706v5.8M237.1 1706v5.8M250.9 1706v5.8M295.4 1706v5.8M277.1 1706v5.8M232.7 1706v5.8M265.9 1706v5.8M200.4 1706v5.8M257.6 1706v5.8M224.7 1706v5.8M262.6 1706v5.8M230.9 1706v5.8M213 1706v5.8M197.8 1706v5.8M260.2 1706v5.8M222.2 1706v5.8M243 1706v5.8M235.6 1706v5.8M155.4 1706v5.8M239.5 1706v5.8M208.5 1706v5.8M232.8 1706v5.8M235.6 1706v5.8M163 1706v5.8M210.3 1706v5.8" stroke="#7dca72" stroke-width="0.9" fill="none"/>
<path d="M125.9 1640.1Q229.6 1633.5 333.3 1601L333.3 1621Q229.6 1625.1 125.9 1655.3Z" fill="#999" fill-opacity="0.4"/>
<g fill="#9440a8"><circle cx="333.4" cy="1631.8" r="2.15"/><circle cx="127.6" cy="1704.8" r="2.15"/><circle cx="129.4" cy="1625.7" r="2.15"/><circle cx="309.3" cy="1595.4" r="2.15"/><circle cx="305.5" cy="1602.9" r="2.15"/><circle cx="288.9" cy="1648.8" r="2.15"/><circle cx="310" cy="1665.5" r="2.15"/><circle cx="135" cy="1618.6" r="2.15"/><circle cx="140.5" cy="1657" r="2.15"/><circle cx="287" cy="1599.8" r="2.15"/><circle cx="251" cy="1696.8" r="2.15"/><circle cx="220.9" cy="1640.7" r="2.15"/><circle cx="209.9" cy="1616" r="2.15"/><circle cx="214.1" cy="1635.4" r="2.15"/><circle cx="226.6" cy="1582.1" r="2.15"/><circle cx="197.9" cy="1613.5" r="2.15"/><circle cx="221.3" cy="1604.5" r="2.15"/><circle cx="229.6" cy="1612.8" r="2.15"/><circle cx="272.5" cy="1629" r="2.15"/><circle cx="219.5" cy="1654.9" r="2.15"/><circle cx="251.5" cy="1649.7" r="2.15"/><circle cx="189.1" cy="1605.1" r="2.15"/><circle cx="248.1" cy="1632.9" r="2.15"/><circle cx="226.3" cy="1689.7" r="2.15"/><circle cx="204.4" cy="1631" r="2.15"/><circle cx="220.5" cy="1631.1" r="2.15"/><circle cx="249.5" cy="1641.1" r="2.15"/><circle cx="211.2" cy="1623.9" r="2.15"/><circle cx="253.4" cy="1651.1" r="2.15"/><circle cx="268.9" cy="1552.4" r="2.15"/><circle cx="272" cy="1635.1" r="2.15"/><circle cx="271.9" cy="1649.8" r="2.15"/><circle cx="181.6" cy="1637.6" r="2.15"/><circle cx="232" cy="1625.9" r="2.15"/><circle cx="200" cy="1613.3" r="2.15"/><circle cx="250.9" cy="1620.8" r="2.15"/><circle cx="223.6" cy="1614.6" r="2.15"/><circle cx="228.4" cy="1630.9" r="2.15"/><circle cx="235.8" cy="1637.2" r="2.15"/><circle cx="202.8" cy="1665" r="2.15"/><circle cx="224.4" cy="1652.2" r="2.15"/><circle cx="198.8" cy="1638.7" r="2.15"/><circle cx="286.5" cy="1653.9" r="2.15"/><circle cx="207.1" cy="1613.8" r="2.15"/><circle cx="221.9" cy="1640.9" r="2.15"/><circle cx="166.2" cy="1611.5" r="2.15"/><circle cx="175.2" cy="1620" r="2.15"/><circle cx="195.2" cy="1646.2" r="2.15"/><circle cx="246.3" cy="1544.8" r="2.15"/><circle cx="245.5" cy="1589.3" r="2.15"/><circle cx="230.2" cy="1649.2" r="2.15"/><circle cx="201.3" cy="1624.7" r="2.15"/><circle cx="279.3" cy="1637.7" r="2.15"/><circle cx="189.3" cy="1664.3" r="2.15"/><circle cx="194.6" cy="1633.8" r="2.15"/><circle cx="236.6" cy="1643.2" r="2.15"/><circle cx="190.2" cy="1615.1" r="2.15"/><circle cx="229.7" cy="1669.2" r="2.15"/><circle cx="251.8" cy="1619.6" r="2.15"/><circle cx="219.2" cy="1597.6" r="2.15"/><circle cx="234.2" cy="1623.2" r="2.15"/><circle cx="222.6" cy="1580.5" r="2.15"/><circle cx="200.3" cy="1583" r="2.15"/><circle cx="125.7" cy="1684.6" r="2.15"/><circle cx="183.2" cy="1650.3" r="2.15"/><circle cx="221.2" cy="1648.3" r="2.15"/><circle cx="169.9" cy="1601.6" r="2.15"/><circle cx="203.8" cy="1649.6" r="2.15"/><circle cx="227.9" cy="1688.4" r="2.15"/><circle cx="263.3" cy="1642.1" r="2.15"/><circle cx="178.5" cy="1650.1" r="2.15"/><circle cx="204.8" cy="1640.5" r="2.15"/><circle cx="228.5" cy="1636.1" r="2.15"/><circle cx="237.9" cy="1628.8" r="2.15"/><circle cx="178" cy="1663.1" r="2.15"/><circle cx="279.8" cy="1622.5" r="2.15"/><circle cx="195.7" cy="1650.5" r="2.15"/><circle cx="255.6" cy="1638.2" r="2.15"/><circle cx="215.1" cy="1642" r="2.15"/><circle cx="234.2" cy="1607.6" r="2.15"/><circle cx="273.8" cy="1616" r="2.15"/><circle cx="243.7" cy="1610.9" r="2.15"/><circle cx="225.5" cy="1652.6" r="2.15"/><circle cx="189.8" cy="1685.5" r="2.15"/><circle cx="200.8" cy="1642.1" r="2.15"/><circle cx="176.5" cy="1618.7" r="2.15"/><circle cx="284.9" cy="1621.6" r="2.15"/><circle cx="172.5" cy="1657.2" r="2.15"/><circle cx="140.3" cy="1692.1" r="2.15"/><circle cx="273.1" cy="1614.1" r="2.15"/><circle cx="261.6" cy="1647.7" r="2.15"/><circle cx="210" cy="1680.9" r="2.15"/><circle cx="247.8" cy="1618.2" r="2.15"/><circle cx="195.4" cy="1636.3" r="2.15"/><circle cx="203.2" cy="1602.9" r="2.15"/><circle cx="237.2" cy="1664" r="2.15"/><circle cx="233.8" cy="1668.7" r="2.15"/><circle cx="206.9" cy="1632.3" r="2.15"/><circle cx="272.6" cy="1580.4" r="2.15"/><circle cx="244.6" cy="1623.3" r="2.15"/><circle cx="225.7" cy="1614.5" r="2.15"/><circle cx="184" cy="1677.8" r="2.15"/><circle cx="225.7" cy="1624.5" r="2.15"/><circle cx="211.3" cy="1675.7" r="2.15"/><circle cx="218.9" cy="1683.3" r="2.15"/><circle cx="246.6" cy="1608.8" r="2.15"/><circle cx="203.2" cy="1605.6" r="2.15"/><circle cx="229.7" cy="1650.7" r="2.15"/><circle cx="246.5" cy="1623.5" r="2.15"/><circle cx="232.5" cy="1615.6" r="2.15"/><circle cx="293.9" cy="1624.6" r="2.15"/><circle cx="166.2" cy="1642.4" r="2.15"/><circle cx="219.3" cy="1623.6" r="2.15"/><circle cx="183.9" cy="1663.4" r="2.15"/><circle cx="219.1" cy="1663.2" r="2.15"/><circle cx="300.8" cy="1605.4" r="2.15"/><circle cx="169.4" cy="1579.9" r="2.15"/><circle cx="212" cy="1645.2" r="2.15"/><circle cx="241.9" cy="1641" r="2.15"/><circle cx="224.2" cy="1580.2" r="2.15"/><circle cx="250.2" cy="1644.8" r="2.15"/><circle cx="172" cy="1662.3" r="2.15"/><circle cx="252.1" cy="1574.4" r="2.15"/><circle cx="190.9" cy="1619.6" r="2.15"/><circle cx="182.6" cy="1620.1" r="2.15"/><circle cx="239.1" cy="1687.6" r="2.15"/><circle cx="236.3" cy="1594.7" r="2.15"/><circle cx="198.1" cy="1643.9" r="2.15"/><circle cx="195.2" cy="1610.3" r="2.15"/><circle cx="214.8" cy="1618.9" r="2.15"/><circle cx="220.8" cy="1582.1" r="2.15"/><circle cx="215.7" cy="1610.5" r="2.15"/><circle cx="189" cy="1588.6" r="2.15"/><circle cx="147.6" cy="1664.3" r="2.15"/><circle cx="262.6" cy="1593.8" r="2.15"/><circle cx="226.6" cy="1614.6" r="2.15"/><circle cx="181.7" cy="1654" r="2.15"/><circle cx="171.3" cy="1679.4" r="2.15"/><circle cx="199" cy="1642.5" r="2.15"/><circle cx="207.8" cy="1658.6" r="2.15"/><circle cx="153.5" cy="1657.6" r="2.15"/><circle cx="265.3" cy="1637.1" r="2.15"/><circle cx="234.4" cy="1647.6" r="2.15"/><circle cx="210.7" cy="1631.1" r="2.15"/><circle cx="232" cy="1626" r="2.15"/><circle cx="228.2" cy="1658.1" r="2.15"/><circle cx="254.5" cy="1646.9" r="2.15"/><circle cx="225.8" cy="1625.3" r="2.15"/><circle cx="260.9" cy="1638.7" r="2.15"/><circle cx="269.9" cy="1635.8" r="2.15"/><circle cx="211" cy="1659.9" r="2.15"/><circle cx="206.5" cy="1685.4" r="2.15"/><circle cx="192.9" cy="1644.8" r="2.15"/><circle cx="213.5" cy="1661.9" r="2.15"/><circle cx="197.8" cy="1639.2" r="2.15"/><circle cx="221.1" cy="1640.7" r="2.15"/><circle cx="230.5" cy="1641.7" r="2.15"/><circle cx="237.8" cy="1604.7" r="2.15"/><circle cx="184.2" cy="1662.2" r="2.15"/><circle cx="255.1" cy="1594.1" r="2.15"/><circle cx="210.9" cy="1624.8" r="2.15"/><circle cx="217.2" cy="1559.9" r="2.15"/><circle cx="204.5" cy="1660.1" r="2.15"/><circle cx="157.3" cy="1663" r="2.15"/><circle cx="228.8" cy="1620" r="2.15"/><circle cx="164.5" cy="1621.4" r="2.15"/><circle cx="255.8" cy="1633.2" r="2.15"/><circle cx="222" cy="1610.4" r="2.15"/><circle cx="270.2" cy="1619.3" r="2.15"/><circle cx="241.3" cy="1667.8" r="2.15"/><circle cx="243" cy="1619.3" r="2.15"/><circle cx="265.1" cy="1599.9" r="2.15"/><circle cx="219.4" cy="1621.4" r="2.15"/><circle cx="269.5" cy="1625.3" r="2.15"/><circle cx="216.6" cy="1657.1" r="2.15"/><circle cx="228.9" cy="1610.1" r="2.15"/><circle cx="199.2" cy="1596.7" r="2.15"/><circle cx="237.9" cy="1667" r="2.15"/><circle cx="241.9" cy="1610.6" r="2.15"/><circle cx="204.7" cy="1684.5" r="2.15"/><circle cx="180" cy="1634.2" r="2.15"/><circle cx="219.5" cy="1704.8" r="2.15"/><circle cx="234" cy="1634.3" r="2.15"/><circle cx="215.6" cy="1615.2" r="2.15"/><circle cx="189.7" cy="1677.9" r="2.15"/><circle cx="197.7" cy="1673.5" r="2.15"/><circle cx="212.2" cy="1630.6" r="2.15"/><circle cx="137.3" cy="1655.3" r="2.15"/><circle cx="202" cy="1627.2" r="2.15"/><circle cx="266.2" cy="1584.9" r="2.15"/><circle cx="179.9" cy="1672.4" r="2.15"/><circle cx="213.7" cy="1626.8" r="2.15"/><circle cx="274.2" cy="1675.1" r="2.15"/><circle cx="243.1" cy="1704.8" r="2.15"/><circle cx="249.8" cy="1653.5" r="2.15"/><circle cx="215.9" cy="1704.8" r="2.15"/><circle cx="178.4" cy="1626.5" r="2.15"/><circle cx="311.9" cy="1590" r="2.15"/><circle cx="230.2" cy="1616.3" r="2.15"/><circle cx="228.2" cy="1675.7" r="2.15"/><circle cx="272.7" cy="1643.1" r="2.15"/><circle cx="246.3" cy="1674.5" r="2.15"/><circle cx="222.4" cy="1637.2" r="2.15"/><circle cx="185.6" cy="1667.2" r="2.15"/><circle cx="215.7" cy="1602.7" r="2.15"/><circle cx="215.9" cy="1621.4" r="2.15"/><circle cx="199.1" cy="1671.2" r="2.15"/><circle cx="193.1" cy="1596.7" r="2.15"/><circle cx="188.8" cy="1632.2" r="2.15"/><circle cx="216.8" cy="1608.6" r="2.15"/><circle cx="201.7" cy="1634.9" r="2.15"/><circle cx="233.5" cy="1593.6" r="2.15"/><circle cx="252.7" cy="1594.1" r="2.15"/><circle cx="230.5" cy="1607.8" r="2.15"/><circle cx="221.2" cy="1592.9" r="2.15"/><circle cx="270" cy="1604.8" r="2.15"/><circle cx="241.2" cy="1619" r="2.15"/><circle cx="173.6" cy="1661.6" r="2.15"/><circle cx="197.7" cy="1694.7" r="2.15"/><circle cx="226.7" cy="1595.8" r="2.15"/><circle cx="192.6" cy="1620.2" r="2.15"/><circle cx="244.5" cy="1657.3" r="2.15"/><circle cx="164.9" cy="1619" r="2.15"/><circle cx="159.9" cy="1638.6" r="2.15"/><circle cx="251.6" cy="1622.9" r="2.15"/><circle cx="238.9" cy="1576.6" r="2.15"/><circle cx="169.6" cy="1613.6" r="2.15"/><circle cx="222.8" cy="1668.7" r="2.15"/><circle cx="263.1" cy="1620.7" r="2.15"/><circle cx="185" cy="1610.1" r="2.15"/><circle cx="182.7" cy="1607.5" r="2.15"/><circle cx="181.8" cy="1623.9" r="2.15"/><circle cx="189.2" cy="1648" r="2.15"/><circle cx="165.3" cy="1631.8" r="2.15"/><circle cx="205" cy="1686.8" r="2.15"/><circle cx="174.4" cy="1604.7" r="2.15"/><circle cx="222.4" cy="1632.7" r="2.15"/><circle cx="291.3" cy="1633" r="2.15"/><circle cx="187" cy="1657.8" r="2.15"/><circle cx="249.2" cy="1621.1" r="2.15"/><circle cx="257.5" cy="1647.4" r="2.15"/><circle cx="147" cy="1673.2" r="2.15"/><circle cx="223.9" cy="1657.7" r="2.15"/><circle cx="220" cy="1583" r="2.15"/><circle cx="209.7" cy="1636.6" r="2.15"/><circle cx="245.7" cy="1612.2" r="2.15"/><circle cx="206.4" cy="1624.3" r="2.15"/><circle cx="231.5" cy="1646.4" r="2.15"/><circle cx="208" cy="1612.1" r="2.15"/><circle cx="216" cy="1636.6" r="2.15"/><circle cx="195.4" cy="1657.1" r="2.15"/><circle cx="292.6" cy="1645.4" r="2.15"/><circle cx="218.6" cy="1642.6" r="2.15"/><circle cx="184.8" cy="1651.7" r="2.15"/><circle cx="282.2" cy="1582.1" r="2.15"/><circle cx="270.4" cy="1691.9" r="2.15"/><circle cx="214.1" cy="1601.6" r="2.15"/><circle cx="199.5" cy="1594.8" r="2.15"/><circle cx="196.9" cy="1593.1" r="2.15"/><circle cx="259.5" cy="1643.6" r="2.15"/><circle cx="209.9" cy="1656.5" r="2.15"/><circle cx="197.7" cy="1600.6" r="2.15"/><circle cx="247.1" cy="1607.4" r="2.15"/><circle cx="211.8" cy="1624.6" r="2.15"/><circle cx="218.6" cy="1655.8" r="2.15"/><circle cx="281.9" cy="1627.2" r="2.15"/><circle cx="247.8" cy="1659" r="2.15"/><circle cx="259.9" cy="1577.6" r="2.15"/><circle cx="233.6" cy="1599.4" r="2.15"/><circle cx="261.2" cy="1635.3" r="2.15"/><circle cx="214.9" cy="1603.2" r="2.15"/><circle cx="250.9" cy="1621.3" r="2.15"/><circle cx="253.6" cy="1681" r="2.15"/><circle cx="207.2" cy="1617.8" r="2.15"/><circle cx="179.5" cy="1660.2" r="2.15"/><circle cx="237.3" cy="1618.9" r="2.15"/><circle cx="216.5" cy="1645.1" r="2.15"/><circle cx="239.6" cy="1655.4" r="2.15"/><circle cx="201.2" cy="1644.4" r="2.15"/><circle cx="237.1" cy="1598.7" r="2.15"/><circle cx="250.9" cy="1658.3" r="2.15"/><circle cx="295.4" cy="1643.9" r="2.15"/><circle cx="277.1" cy="1662.6" r="2.15"/><circle cx="232.7" cy="1646.1" r="2.15"/><circle cx="265.9" cy="1598" r="2.15"/><circle cx="200.4" cy="1614.8" r="2.15"/><circle cx="257.6" cy="1608.6" r="2.15"/><circle cx="224.7" cy="1616.5" r="2.15"/><circle cx="262.6" cy="1580.6" r="2.15"/><circle cx="230.9" cy="1587.2" r="2.15"/><circle cx="213" cy="1588.3" r="2.15"/><circle cx="197.8" cy="1659.9" r="2.15"/><circle cx="260.2" cy="1641.2" r="2.15"/><circle cx="222.2" cy="1609" r="2.15"/><circle cx="243" cy="1606.5" r="2.15"/><circle cx="235.6" cy="1642.5" r="2.15"/><circle cx="155.4" cy="1650" r="2.15"/><circle cx="239.5" cy="1601.8" r="2.15"/><circle cx="208.5" cy="1637.4" r="2.15"/><circle cx="232.8" cy="1649.6" r="2.15"/><circle cx="235.6" cy="1619.3" r="2.15"/><circle cx="163" cy="1658" r="2.15"/><circle cx="210.3" cy="1617.4" r="2.15"/></g>
<path d="M125.9 1647.7L333.3 1611" stroke="#fbb77e" stroke-width="3.4" fill="none"/>
<text x="229.4" y="1526.8" font-size="12.35" text-anchor="middle" fill="#111">n = 303, r = 0.22(pearson), p.value= 0</text>
<text x="229.8" y="1733.7" font-size="10.4" text-anchor="middle" fill="#222">Expression of FOXO1 (log2(TPM))</text>
<text x="98.5" y="1622.6" font-size="10.3" text-anchor="middle" fill="#222" transform="rotate(-90 98.5 1622.6)">Expression of FOXP3 (log2(TPM))</text>
<text x="146.1" y="1722.7" font-size="8.5" text-anchor="middle" fill="#4d4d4d">0</text>
<text x="183.2" y="1722.7" font-size="8.5" text-anchor="middle" fill="#4d4d4d">1</text>
<text x="220.3" y="1722.7" font-size="8.5" text-anchor="middle" fill="#4d4d4d">2</text>
<text x="257.3" y="1722.7" font-size="8.5" text-anchor="middle" fill="#4d4d4d">3</text>
<text x="294.4" y="1722.7" font-size="8.5" text-anchor="middle" fill="#4d4d4d">4</text>
<text x="331.5" y="1722.7" font-size="8.5" text-anchor="middle" fill="#4d4d4d">5</text>
<text x="110.4" y="1701" font-size="8.5" text-anchor="end" fill="#4d4d4d">-4</text>
<text x="110.4" y="1655.8" font-size="8.5" text-anchor="end" fill="#4d4d4d">-2</text>
<text x="110.4" y="1610.6" font-size="8.5" text-anchor="end" fill="#4d4d4d">0</text>
<text x="110.4" y="1565.4" font-size="8.5" text-anchor="end" fill="#4d4d4d">2</text>
<path d="M451.2 1531.4V1714.5M488.7 1531.4V1714.5M526.1 1531.4V1714.5M563.5 1531.4V1714.5M601 1531.4V1714.5M413.8 1531.4V1714.5M401.4 1684H632.5M401.4 1636H632.5M401.4 1588H632.5M401.4 1540H632.5" stroke="#f1f1f1" stroke-width="0.6" fill="none"/>
<path d="M432.5 1531.4V1714.5M469.9 1531.4V1714.5M507.4 1531.4V1714.5M544.8 1531.4V1714.5M582.3 1531.4V1714.5M619.7 1531.4V1714.5M401.4 1708H632.5M401.4 1660H632.5M401.4 1612H632.5M401.4 1564H632.5" stroke="#e6e6e6" stroke-width="0.9" fill="none"/>
<path d="M401.7 1591.6h7.2M401.7 1644.7h7.2M401.7 1659.4h7.2M401.7 1576.2h7.2M401.7 1625.5h7.2M401.7 1603.2h7.2M401.7 1611.3h7.2M401.7 1634.5h7.2M401.7 1644.1h7.2M401.7 1580.8h7.2M401.7 1610.5h7.2M401.7 1646.2h7.2M401.7 1653.4h7.2M401.7 1601.4h7.2M401.7 1623.4h7.2M401.7 1591.4h7.2M401.7 1606.9h7.2M401.7 1583.9h7.2M401.7 1645.6h7.2M401.7 1628.5h7.2M401.7 1581h7.2M401.7 1657.5h7.2M401.7 1595.2h7.2M401.7 1619.4h7.2M401.7 1595.5h7.2M401.7 1627.1h7.2M401.7 1632.6h7.2M401.7 1599.9h7.2M401.7 1556.7h7.2M401.7 1640.3h7.2M401.7 1602h7.2M401.7 1629.8h7.2M401.7 1613.8h7.2M401.7 1605.2h7.2M401.7 1641.8h7.2M401.7 1648.7h7.2M401.7 1616.5h7.2M401.7 1616.8h7.2M401.7 1592.9h7.2M401.7 1623.2h7.2M401.7 1590.6h7.2M401.7 1615.8h7.2M401.7 1568h7.2M401.7 1594.5h7.2M401.7 1653.7h7.2M401.7 1636h7.2M401.7 1615.9h7.2M401.7 1629.8h7.2M401.7 1604.4h7.2M401.7 1570.3h7.2M401.7 1638.9h7.2M401.7 1640h7.2M401.7 1630h7.2M401.7 1597h7.2M401.7 1565.2h7.2M401.7 1637.4h7.2M401.7 1563.1h7.2M401.7 1652.7h7.2M401.7 1609h7.2M401.7 1614.9h7.2M401.7 1607.3h7.2M401.7 1635.8h7.2M401.7 1651.6h7.2M401.7 1641.2h7.2M401.7 1598.9h7.2M401.7 1623.6h7.2M401.7 1617.3h7.2M401.7 1609.3h7.2M401.7 1578.9h7.2M401.7 1637.9h7.2M401.7 1584.9h7.2M401.7 1571.3h7.2M401.7 1646.3h7.2M401.7 1586h7.2M401.7 1673.9h7.2M401.7 1627.9h7.2M401.7 1630.2h7.2M401.7 1612.1h7.2M401.7 1667.1h7.2M401.7 1634.3h7.2M401.7 1649.7h7.2M401.7 1589.2h7.2M401.7 1641.1h7.2M401.7 1617h7.2M401.7 1634.6h7.2M401.7 1613.2h7.2M401.7 1671.9h7.2M401.7 1628.6h7.2M401.7 1671.4h7.2M401.7 1632.8h7.2M401.7 1600.7h7.2M401.7 1598.9h7.2M401.7 1636.1h7.2M401.7 1636.1h7.2M401.7 1570.8h7.2M401.7 1613.1h7.2M401.7 1590.7h7.2M401.7 1594.4h7.2M401.7 1588.2h7.2M401.7 1617.1h7.2M401.7 1621h7.2M401.7 1603.2h7.2M401.7 1687.5h7.2M401.7 1639.7h7.2M401.7 1607.6h7.2M401.7 1599h7.2M401.7 1606h7.2M401.7 1630h7.2M401.7 1634.7h7.2M401.7 1652.5h7.2M401.7 1599.1h7.2M401.7 1629.5h7.2M401.7 1616.1h7.2M401.7 1683.6h7.2M401.7 1629.2h7.2M401.7 1631h7.2M401.7 1603.6h7.2M401.7 1602.1h7.2M401.7 1597.5h7.2M401.7 1604h7.2M401.7 1583.4h7.2M401.7 1621.6h7.2M401.7 1633.7h7.2M401.7 1620.5h7.2M401.7 1624.7h7.2M401.7 1606.3h7.2M401.7 1603h7.2M401.7 1621.1h7.2M401.7 1617.3h7.2M401.7 1621h7.2M401.7 1625h7.2M401.7 1647.8h7.2M401.7 1643.8h7.2M401.7 1644.5h7.2M401.7 1564.8h7.2M401.7 1623.6h7.2M401.7 1649.1h7.2M401.7 1613.1h7.2M401.7 1610.2h7.2M401.7 1629h7.2M401.7 1606.8h7.2M401.7 1636h7.2M401.7 1645.4h7.2M401.7 1634h7.2M401.7 1626.4h7.2M401.7 1623.7h7.2M401.7 1612.5h7.2M401.7 1594.2h7.2M401.7 1609.5h7.2M401.7 1599.1h7.2M401.7 1627.2h7.2M401.7 1648h7.2M401.7 1625.8h7.2M401.7 1646.1h7.2M401.7 1605.5h7.2M401.7 1625.9h7.2M401.7 1644.1h7.2M401.7 1617.9h7.2M401.7 1622.6h7.2M401.7 1625.7h7.2M401.7 1648.1h7.2M401.7 1627.8h7.2M401.7 1635.5h7.2M401.7 1644.4h7.2M401.7 1689.4h7.2M401.7 1649.6h7.2M401.7 1557.7h7.2M401.7 1577.6h7.2M401.7 1582.3h7.2M401.7 1621h7.2M401.7 1588.6h7.2M401.7 1596h7.2M401.7 1618.2h7.2M401.7 1610.1h7.2M401.7 1619.1h7.2M401.7 1662.3h7.2M401.7 1597.1h7.2M401.7 1592.7h7.2M401.7 1608.1h7.2M401.7 1612.7h7.2M401.7 1648.3h7.2M401.7 1622.2h7.2M401.7 1633.6h7.2M401.7 1646.5h7.2M401.7 1617.6h7.2M401.7 1566.2h7.2M401.7 1574.5h7.2M401.7 1633.2h7.2M401.7 1633.7h7.2M401.7 1556.5h7.2M401.7 1649.1h7.2M401.7 1638.2h7.2M401.7 1598.2h7.2M401.7 1565.4h7.2M401.7 1572.6h7.2M401.7 1671h7.2M401.7 1676.6h7.2M401.7 1632.9h7.2M401.7 1587.3h7.2M401.7 1641.1h7.2M401.7 1627.7h7.2M401.7 1584.6h7.2M401.7 1644.8h7.2M401.7 1586.6h7.2M401.7 1668.8h7.2M401.7 1636.9h7.2M401.7 1589.7h7.2M401.7 1651.4h7.2M401.7 1618.5h7.2M401.7 1597.6h7.2M401.7 1602.8h7.2M401.7 1604.8h7.2M401.7 1601.1h7.2M401.7 1599.1h7.2M401.7 1615.5h7.2M401.7 1622.2h7.2M401.7 1564.8h7.2M401.7 1656.7h7.2M401.7 1621h7.2M401.7 1636.8h7.2M401.7 1631.6h7.2M401.7 1587.1h7.2M401.7 1672.8h7.2M401.7 1670.5h7.2M401.7 1602.4h7.2M401.7 1614.3h7.2M401.7 1626.4h7.2M401.7 1623.6h7.2M401.7 1598.1h7.2M401.7 1636.1h7.2M401.7 1597.7h7.2M401.7 1630.8h7.2M401.7 1662.8h7.2M401.7 1659.3h7.2M401.7 1610.3h7.2M401.7 1651.8h7.2M401.7 1662.7h7.2M401.7 1594.5h7.2M401.7 1626.4h7.2M401.7 1591.8h7.2M401.7 1575.5h7.2M401.7 1671.6h7.2M401.7 1607.5h7.2M401.7 1640.1h7.2M401.7 1627.9h7.2M401.7 1604.3h7.2M401.7 1617.8h7.2M401.7 1624.1h7.2M401.7 1619.2h7.2M401.7 1614.8h7.2M401.7 1705.6h7.2M401.7 1583h7.2M401.7 1601.8h7.2M401.7 1617.6h7.2M401.7 1612h7.2M401.7 1570h7.2M401.7 1630.2h7.2M401.7 1610.7h7.2M401.7 1643.4h7.2M401.7 1663.2h7.2M401.7 1616.4h7.2M401.7 1615.5h7.2M401.7 1664.2h7.2M401.7 1587.8h7.2M401.7 1606.5h7.2M401.7 1602.4h7.2M401.7 1640.5h7.2M401.7 1646.1h7.2M401.7 1624.1h7.2M401.7 1609.1h7.2M401.7 1631.4h7.2M401.7 1617.1h7.2M401.7 1605h7.2M401.7 1617.7h7.2M401.7 1615.9h7.2M401.7 1620.6h7.2M401.7 1667h7.2M401.7 1608.1h7.2M401.7 1615h7.2M401.7 1591.7h7.2M401.7 1604.4h7.2M401.7 1636.8h7.2M401.7 1597.4h7.2M401.7 1586.9h7.2M401.7 1563.1h7.2M401.7 1624.5h7.2M401.7 1606.6h7.2M401.7 1619.7h7.2M401.7 1582.8h7.2M401.7 1606.3h7.2M401.7 1555h7.2M401.7 1618.3h7.2M401.7 1620.1h7.2M401.7 1587.5h7.2M401.7 1595.5h7.2M401.7 1635.1h7.2M401.7 1630.1h7.2M401.7 1630.4h7.2M401.7 1660.4h7.2M401.7 1602.8h7.2M401.7 1632.4h7.2M401.7 1626.8h7.2M401.7 1605.8h7.2M621.6 1708.3v5.8M413.8 1708.3v5.8M415.7 1708.3v5.8M597.2 1708.3v5.8M593.5 1708.3v5.8M576.6 1708.3v5.8M598 1708.3v5.8M421.3 1708.3v5.8M426.9 1708.3v5.8M574.8 1708.3v5.8M538.4 1708.3v5.8M508 1708.3v5.8M496.9 1708.3v5.8M501.1 1708.3v5.8M513.7 1708.3v5.8M484.8 1708.3v5.8M508.4 1708.3v5.8M516.8 1708.3v5.8M560.1 1708.3v5.8M506.6 1708.3v5.8M538.9 1708.3v5.8M475.9 1708.3v5.8M535.5 1708.3v5.8M513.5 1708.3v5.8M491.4 1708.3v5.8M507.6 1708.3v5.8M536.9 1708.3v5.8M498.2 1708.3v5.8M540.8 1708.3v5.8M556.5 1708.3v5.8M559.6 1708.3v5.8M559.6 1708.3v5.8M468.3 1708.3v5.8M519.2 1708.3v5.8M486.9 1708.3v5.8M538.3 1708.3v5.8M510.8 1708.3v5.8M515.6 1708.3v5.8M523.1 1708.3v5.8M489.8 1708.3v5.8M511.5 1708.3v5.8M485.8 1708.3v5.8M574.3 1708.3v5.8M494.1 1708.3v5.8M509 1708.3v5.8M452.8 1708.3v5.8M461.9 1708.3v5.8M482.1 1708.3v5.8M533.7 1708.3v5.8M532.9 1708.3v5.8M517.4 1708.3v5.8M488.3 1708.3v5.8M567 1708.3v5.8M476.1 1708.3v5.8M481.5 1708.3v5.8M523.9 1708.3v5.8M477.1 1708.3v5.8M517 1708.3v5.8M539.2 1708.3v5.8M506.3 1708.3v5.8M521.4 1708.3v5.8M509.8 1708.3v5.8M487.2 1708.3v5.8M411.9 1708.3v5.8M469.9 1708.3v5.8M508.3 1708.3v5.8M456.6 1708.3v5.8M490.7 1708.3v5.8M515.1 1708.3v5.8M550.8 1708.3v5.8M465.2 1708.3v5.8M491.8 1708.3v5.8M515.7 1708.3v5.8M525.2 1708.3v5.8M464.7 1708.3v5.8M567.5 1708.3v5.8M482.6 1708.3v5.8M543 1708.3v5.8M502.1 1708.3v5.8M521.5 1708.3v5.8M561.5 1708.3v5.8M531 1708.3v5.8M512.7 1708.3v5.8M476.6 1708.3v5.8M487.7 1708.3v5.8M463.2 1708.3v5.8M572.6 1708.3v5.8M459.1 1708.3v5.8M426.6 1708.3v5.8M560.8 1708.3v5.8M549.1 1708.3v5.8M497.1 1708.3v5.8M535.2 1708.3v5.8M482.3 1708.3v5.8M490.2 1708.3v5.8M524.5 1708.3v5.8M521 1708.3v5.8M493.9 1708.3v5.8M560.2 1708.3v5.8M532 1708.3v5.8M512.9 1708.3v5.8M470.8 1708.3v5.8M512.9 1708.3v5.8M498.4 1708.3v5.8M506 1708.3v5.8M534 1708.3v5.8M490.1 1708.3v5.8M516.9 1708.3v5.8M533.9 1708.3v5.8M519.7 1708.3v5.8M581.7 1708.3v5.8M452.8 1708.3v5.8M506.4 1708.3v5.8M470.6 1708.3v5.8M506.2 1708.3v5.8M588.7 1708.3v5.8M456.1 1708.3v5.8M499 1708.3v5.8M529.3 1708.3v5.8M511.3 1708.3v5.8M537.6 1708.3v5.8M458.6 1708.3v5.8M539.5 1708.3v5.8M477.8 1708.3v5.8M469.4 1708.3v5.8M526.4 1708.3v5.8M523.5 1708.3v5.8M485 1708.3v5.8M482.1 1708.3v5.8M501.8 1708.3v5.8M507.9 1708.3v5.8M502.8 1708.3v5.8M475.8 1708.3v5.8M434 1708.3v5.8M550.1 1708.3v5.8M513.7 1708.3v5.8M468.5 1708.3v5.8M458 1708.3v5.8M486 1708.3v5.8M494.8 1708.3v5.8M440 1708.3v5.8M552.8 1708.3v5.8M521.7 1708.3v5.8M497.7 1708.3v5.8M519.2 1708.3v5.8M515.4 1708.3v5.8M542 1708.3v5.8M512.9 1708.3v5.8M548.4 1708.3v5.8M557.5 1708.3v5.8M498 1708.3v5.8M493.5 1708.3v5.8M479.7 1708.3v5.8M500.5 1708.3v5.8M484.7 1708.3v5.8M508.3 1708.3v5.8M517.7 1708.3v5.8M525.1 1708.3v5.8M470.9 1708.3v5.8M542.6 1708.3v5.8M498 1708.3v5.8M504.3 1708.3v5.8M491.4 1708.3v5.8M443.8 1708.3v5.8M516 1708.3v5.8M451.1 1708.3v5.8M543.3 1708.3v5.8M509.1 1708.3v5.8M557.8 1708.3v5.8M528.6 1708.3v5.8M530.3 1708.3v5.8M552.7 1708.3v5.8M506.5 1708.3v5.8M557.1 1708.3v5.8M503.7 1708.3v5.8M516.1 1708.3v5.8M486.2 1708.3v5.8M525.2 1708.3v5.8M529.2 1708.3v5.8M491.7 1708.3v5.8M466.7 1708.3v5.8M506.6 1708.3v5.8M521.3 1708.3v5.8M502.7 1708.3v5.8M476.5 1708.3v5.8M484.6 1708.3v5.8M499.2 1708.3v5.8M423.6 1708.3v5.8M489 1708.3v5.8M553.8 1708.3v5.8M466.6 1708.3v5.8M500.7 1708.3v5.8M561.8 1708.3v5.8M530.4 1708.3v5.8M537.2 1708.3v5.8M503 1708.3v5.8M465.2 1708.3v5.8M600 1708.3v5.8M517.4 1708.3v5.8M515.4 1708.3v5.8M560.3 1708.3v5.8M533.7 1708.3v5.8M509.6 1708.3v5.8M472.3 1708.3v5.8M502.7 1708.3v5.8M502.9 1708.3v5.8M486 1708.3v5.8M479.9 1708.3v5.8M475.6 1708.3v5.8M503.9 1708.3v5.8M488.6 1708.3v5.8M520.7 1708.3v5.8M540.1 1708.3v5.8M517.8 1708.3v5.8M508.3 1708.3v5.8M557.6 1708.3v5.8M528.6 1708.3v5.8M460.3 1708.3v5.8M484.6 1708.3v5.8M513.8 1708.3v5.8M479.4 1708.3v5.8M531.9 1708.3v5.8M451.4 1708.3v5.8M446.4 1708.3v5.8M539 1708.3v5.8M526.2 1708.3v5.8M456.3 1708.3v5.8M510 1708.3v5.8M550.6 1708.3v5.8M471.8 1708.3v5.8M469.4 1708.3v5.8M468.6 1708.3v5.8M476 1708.3v5.8M451.9 1708.3v5.8M492 1708.3v5.8M461.1 1708.3v5.8M509.5 1708.3v5.8M579.1 1708.3v5.8M473.8 1708.3v5.8M536.6 1708.3v5.8M544.9 1708.3v5.8M433.5 1708.3v5.8M511 1708.3v5.8M507.1 1708.3v5.8M496.7 1708.3v5.8M533.1 1708.3v5.8M493.4 1708.3v5.8M518.8 1708.3v5.8M495 1708.3v5.8M503.1 1708.3v5.8M482.3 1708.3v5.8M580.4 1708.3v5.8M505.7 1708.3v5.8M471.6 1708.3v5.8M570 1708.3v5.8M558 1708.3v5.8M501.1 1708.3v5.8M486.4 1708.3v5.8M483.8 1708.3v5.8M547 1708.3v5.8M497 1708.3v5.8M484.6 1708.3v5.8M534.4 1708.3v5.8M498.8 1708.3v5.8M505.7 1708.3v5.8M569.6 1708.3v5.8M535.1 1708.3v5.8M547.4 1708.3v5.8M520.8 1708.3v5.8M548.7 1708.3v5.8M502 1708.3v5.8M538.3 1708.3v5.8M541 1708.3v5.8M494.2 1708.3v5.8M466.2 1708.3v5.8M524.6 1708.3v5.8M503.6 1708.3v5.8M526.9 1708.3v5.8M488.2 1708.3v5.8M524.4 1708.3v5.8M538.3 1708.3v5.8M583.3 1708.3v5.8M564.7 1708.3v5.8M520 1708.3v5.8M553.5 1708.3v5.8M487.3 1708.3v5.8M545.1 1708.3v5.8M511.9 1708.3v5.8M550.1 1708.3v5.8M518.1 1708.3v5.8M500.1 1708.3v5.8M484.7 1708.3v5.8M547.7 1708.3v5.8M509.3 1708.3v5.8M530.3 1708.3v5.8M522.9 1708.3v5.8M441.9 1708.3v5.8M526.8 1708.3v5.8M495.5 1708.3v5.8M520 1708.3v5.8M522.9 1708.3v5.8M449.6 1708.3v5.8M497.3 1708.3v5.8" stroke="#7dca72" stroke-width="0.9" fill="none"/>
<path d="M411.9 1630.4Q517 1623.8 622.1 1592.5L622.1 1612.5Q517 1616.7 411.9 1645.6Z" fill="#999" fill-opacity="0.4"/>
<g fill="#9440a8"><circle cx="621.6" cy="1591.6" r="2.15"/><circle cx="413.8" cy="1644.7" r="2.15"/><circle cx="415.7" cy="1659.4" r="2.15"/><circle cx="597.2" cy="1576.2" r="2.15"/><circle cx="593.5" cy="1625.5" r="2.15"/><circle cx="576.6" cy="1603.2" r="2.15"/><circle cx="598" cy="1611.3" r="2.15"/><circle cx="421.3" cy="1634.5" r="2.15"/><circle cx="426.9" cy="1644.1" r="2.15"/><circle cx="574.8" cy="1580.8" r="2.15"/><circle cx="538.4" cy="1610.5" r="2.15"/><circle cx="508" cy="1646.2" r="2.15"/><circle cx="496.9" cy="1653.4" r="2.15"/><circle cx="501.1" cy="1601.4" r="2.15"/><circle cx="513.7" cy="1623.4" r="2.15"/><circle cx="484.8" cy="1591.4" r="2.15"/><circle cx="508.4" cy="1606.9" r="2.15"/><circle cx="516.8" cy="1583.9" r="2.15"/><circle cx="560.1" cy="1645.6" r="2.15"/><circle cx="506.6" cy="1628.5" r="2.15"/><circle cx="538.9" cy="1581" r="2.15"/><circle cx="475.9" cy="1657.5" r="2.15"/><circle cx="535.5" cy="1595.2" r="2.15"/><circle cx="513.5" cy="1619.4" r="2.15"/><circle cx="491.4" cy="1595.5" r="2.15"/><circle cx="507.6" cy="1627.1" r="2.15"/><circle cx="536.9" cy="1632.6" r="2.15"/><circle cx="498.2" cy="1599.9" r="2.15"/><circle cx="540.8" cy="1556.7" r="2.15"/><circle cx="556.5" cy="1640.3" r="2.15"/><circle cx="559.6" cy="1602" r="2.15"/><circle cx="559.6" cy="1629.8" r="2.15"/><circle cx="468.3" cy="1613.8" r="2.15"/><circle cx="519.2" cy="1605.2" r="2.15"/><circle cx="486.9" cy="1641.8" r="2.15"/><circle cx="538.3" cy="1648.7" r="2.15"/><circle cx="510.8" cy="1616.5" r="2.15"/><circle cx="515.6" cy="1616.8" r="2.15"/><circle cx="523.1" cy="1592.9" r="2.15"/><circle cx="489.8" cy="1623.2" r="2.15"/><circle cx="511.5" cy="1590.6" r="2.15"/><circle cx="485.8" cy="1615.8" r="2.15"/><circle cx="574.3" cy="1568" r="2.15"/><circle cx="494.1" cy="1594.5" r="2.15"/><circle cx="509" cy="1653.7" r="2.15"/><circle cx="452.8" cy="1636" r="2.15"/><circle cx="461.9" cy="1615.9" r="2.15"/><circle cx="482.1" cy="1629.8" r="2.15"/><circle cx="533.7" cy="1604.4" r="2.15"/><circle cx="532.9" cy="1570.3" r="2.15"/><circle cx="517.4" cy="1638.9" r="2.15"/><circle cx="488.3" cy="1640" r="2.15"/><circle cx="567" cy="1630" r="2.15"/><circle cx="476.1" cy="1597" r="2.15"/><circle cx="481.5" cy="1565.2" r="2.15"/><circle cx="523.9" cy="1637.4" r="2.15"/><circle cx="477.1" cy="1563.1" r="2.15"/><circle cx="517" cy="1652.7" r="2.15"/><circle cx="539.2" cy="1609" r="2.15"/><circle cx="506.3" cy="1614.9" r="2.15"/><circle cx="521.4" cy="1607.3" r="2.15"/><circle cx="509.8" cy="1635.8" r="2.15"/><circle cx="487.2" cy="1651.6" r="2.15"/><circle cx="411.9" cy="1641.2" r="2.15"/><circle cx="469.9" cy="1598.9" r="2.15"/><circle cx="508.3" cy="1623.6" r="2.15"/><circle cx="456.6" cy="1617.3" r="2.15"/><circle cx="490.7" cy="1609.3" r="2.15"/><circle cx="515.1" cy="1578.9" r="2.15"/><circle cx="550.8" cy="1637.9" r="2.15"/><circle cx="465.2" cy="1584.9" r="2.15"/><circle cx="491.8" cy="1571.3" r="2.15"/><circle cx="515.7" cy="1646.3" r="2.15"/><circle cx="525.2" cy="1586" r="2.15"/><circle cx="464.7" cy="1673.9" r="2.15"/><circle cx="567.5" cy="1627.9" r="2.15"/><circle cx="482.6" cy="1630.2" r="2.15"/><circle cx="543" cy="1612.1" r="2.15"/><circle cx="502.1" cy="1667.1" r="2.15"/><circle cx="521.5" cy="1634.3" r="2.15"/><circle cx="561.5" cy="1649.7" r="2.15"/><circle cx="531" cy="1589.2" r="2.15"/><circle cx="512.7" cy="1641.1" r="2.15"/><circle cx="476.6" cy="1617" r="2.15"/><circle cx="487.7" cy="1634.6" r="2.15"/><circle cx="463.2" cy="1613.2" r="2.15"/><circle cx="572.6" cy="1671.9" r="2.15"/><circle cx="459.1" cy="1628.6" r="2.15"/><circle cx="426.6" cy="1671.4" r="2.15"/><circle cx="560.8" cy="1632.8" r="2.15"/><circle cx="549.1" cy="1600.7" r="2.15"/><circle cx="497.1" cy="1598.9" r="2.15"/><circle cx="535.2" cy="1636.1" r="2.15"/><circle cx="482.3" cy="1636.1" r="2.15"/><circle cx="490.2" cy="1570.8" r="2.15"/><circle cx="524.5" cy="1613.1" r="2.15"/><circle cx="521" cy="1590.7" r="2.15"/><circle cx="493.9" cy="1594.4" r="2.15"/><circle cx="560.2" cy="1588.2" r="2.15"/><circle cx="532" cy="1617.1" r="2.15"/><circle cx="512.9" cy="1621" r="2.15"/><circle cx="470.8" cy="1603.2" r="2.15"/><circle cx="512.9" cy="1687.5" r="2.15"/><circle cx="498.4" cy="1639.7" r="2.15"/><circle cx="506" cy="1607.6" r="2.15"/><circle cx="534" cy="1599" r="2.15"/><circle cx="490.1" cy="1606" r="2.15"/><circle cx="516.9" cy="1630" r="2.15"/><circle cx="533.9" cy="1634.7" r="2.15"/><circle cx="519.7" cy="1652.5" r="2.15"/><circle cx="581.7" cy="1599.1" r="2.15"/><circle cx="452.8" cy="1629.5" r="2.15"/><circle cx="506.4" cy="1616.1" r="2.15"/><circle cx="470.6" cy="1683.6" r="2.15"/><circle cx="506.2" cy="1629.2" r="2.15"/><circle cx="588.7" cy="1631" r="2.15"/><circle cx="456.1" cy="1603.6" r="2.15"/><circle cx="499" cy="1602.1" r="2.15"/><circle cx="529.3" cy="1597.5" r="2.15"/><circle cx="511.3" cy="1604" r="2.15"/><circle cx="537.6" cy="1583.4" r="2.15"/><circle cx="458.6" cy="1621.6" r="2.15"/><circle cx="539.5" cy="1633.7" r="2.15"/><circle cx="477.8" cy="1620.5" r="2.15"/><circle cx="469.4" cy="1624.7" r="2.15"/><circle cx="526.4" cy="1606.3" r="2.15"/><circle cx="523.5" cy="1603" r="2.15"/><circle cx="485" cy="1621.1" r="2.15"/><circle cx="482.1" cy="1617.3" r="2.15"/><circle cx="501.8" cy="1621" r="2.15"/><circle cx="507.9" cy="1625" r="2.15"/><circle cx="502.8" cy="1647.8" r="2.15"/><circle cx="475.8" cy="1643.8" r="2.15"/><circle cx="434" cy="1644.5" r="2.15"/><circle cx="550.1" cy="1564.8" r="2.15"/><circle cx="513.7" cy="1623.6" r="2.15"/><circle cx="468.5" cy="1649.1" r="2.15"/><circle cx="458" cy="1613.1" r="2.15"/><circle cx="486" cy="1610.2" r="2.15"/><circle cx="494.8" cy="1629" r="2.15"/><circle cx="440" cy="1606.8" r="2.15"/><circle cx="552.8" cy="1636" r="2.15"/><circle cx="521.7" cy="1645.4" r="2.15"/><circle cx="497.7" cy="1634" r="2.15"/><circle cx="519.2" cy="1626.4" r="2.15"/><circle cx="515.4" cy="1623.7" r="2.15"/><circle cx="542" cy="1612.5" r="2.15"/><circle cx="512.9" cy="1594.2" r="2.15"/><circle cx="548.4" cy="1609.5" r="2.15"/><circle cx="557.5" cy="1599.1" r="2.15"/><circle cx="498" cy="1627.2" r="2.15"/><circle cx="493.5" cy="1648" r="2.15"/><circle cx="479.7" cy="1625.8" r="2.15"/><circle cx="500.5" cy="1646.1" r="2.15"/><circle cx="484.7" cy="1605.5" r="2.15"/><circle cx="508.3" cy="1625.9" r="2.15"/><circle cx="517.7" cy="1644.1" r="2.15"/><circle cx="525.1" cy="1617.9" r="2.15"/><circle cx="470.9" cy="1622.6" r="2.15"/><circle cx="542.6" cy="1625.7" r="2.15"/><circle cx="498" cy="1648.1" r="2.15"/><circle cx="504.3" cy="1627.8" r="2.15"/><circle cx="491.4" cy="1635.5" r="2.15"/><circle cx="443.8" cy="1644.4" r="2.15"/><circle cx="516" cy="1689.4" r="2.15"/><circle cx="451.1" cy="1649.6" r="2.15"/><circle cx="543.3" cy="1557.7" r="2.15"/><circle cx="509.1" cy="1577.6" r="2.15"/><circle cx="557.8" cy="1582.3" r="2.15"/><circle cx="528.6" cy="1621" r="2.15"/><circle cx="530.3" cy="1588.6" r="2.15"/><circle cx="552.7" cy="1596" r="2.15"/><circle cx="506.5" cy="1618.2" r="2.15"/><circle cx="557.1" cy="1610.1" r="2.15"/><circle cx="503.7" cy="1619.1" r="2.15"/><circle cx="516.1" cy="1662.3" r="2.15"/><circle cx="486.2" cy="1597.1" r="2.15"/><circle cx="525.2" cy="1592.7" r="2.15"/><circle cx="529.2" cy="1608.1" r="2.15"/><circle cx="491.7" cy="1612.7" r="2.15"/><circle cx="466.7" cy="1648.3" r="2.15"/><circle cx="506.6" cy="1622.2" r="2.15"/><circle cx="521.3" cy="1633.6" r="2.15"/><circle cx="502.7" cy="1646.5" r="2.15"/><circle cx="476.5" cy="1617.6" r="2.15"/><circle cx="484.6" cy="1566.2" r="2.15"/><circle cx="499.2" cy="1574.5" r="2.15"/><circle cx="423.6" cy="1633.2" r="2.15"/><circle cx="489" cy="1633.7" r="2.15"/><circle cx="553.8" cy="1556.5" r="2.15"/><circle cx="466.6" cy="1649.1" r="2.15"/><circle cx="500.7" cy="1638.2" r="2.15"/><circle cx="561.8" cy="1598.2" r="2.15"/><circle cx="530.4" cy="1565.4" r="2.15"/><circle cx="537.2" cy="1572.6" r="2.15"/><circle cx="503" cy="1671" r="2.15"/><circle cx="465.2" cy="1676.6" r="2.15"/><circle cx="600" cy="1632.9" r="2.15"/><circle cx="517.4" cy="1587.3" r="2.15"/><circle cx="515.4" cy="1641.1" r="2.15"/><circle cx="560.3" cy="1627.7" r="2.15"/><circle cx="533.7" cy="1584.6" r="2.15"/><circle cx="509.6" cy="1644.8" r="2.15"/><circle cx="472.3" cy="1586.6" r="2.15"/><circle cx="502.7" cy="1668.8" r="2.15"/><circle cx="502.9" cy="1636.9" r="2.15"/><circle cx="486" cy="1589.7" r="2.15"/><circle cx="479.9" cy="1651.4" r="2.15"/><circle cx="475.6" cy="1618.5" r="2.15"/><circle cx="503.9" cy="1597.6" r="2.15"/><circle cx="488.6" cy="1602.8" r="2.15"/><circle cx="520.7" cy="1604.8" r="2.15"/><circle cx="540.1" cy="1601.1" r="2.15"/><circle cx="517.8" cy="1599.1" r="2.15"/><circle cx="508.3" cy="1615.5" r="2.15"/><circle cx="557.6" cy="1622.2" r="2.15"/><circle cx="528.6" cy="1564.8" r="2.15"/><circle cx="460.3" cy="1656.7" r="2.15"/><circle cx="484.6" cy="1621" r="2.15"/><circle cx="513.8" cy="1636.8" r="2.15"/><circle cx="479.4" cy="1631.6" r="2.15"/><circle cx="531.9" cy="1587.1" r="2.15"/><circle cx="451.4" cy="1672.8" r="2.15"/><circle cx="446.4" cy="1670.5" r="2.15"/><circle cx="539" cy="1602.4" r="2.15"/><circle cx="526.2" cy="1614.3" r="2.15"/><circle cx="456.3" cy="1626.4" r="2.15"/><circle cx="510" cy="1623.6" r="2.15"/><circle cx="550.6" cy="1598.1" r="2.15"/><circle cx="471.8" cy="1636.1" r="2.15"/><circle cx="469.4" cy="1597.7" r="2.15"/><circle cx="468.6" cy="1630.8" r="2.15"/><circle cx="476" cy="1662.8" r="2.15"/><circle cx="451.9" cy="1659.3" r="2.15"/><circle cx="492" cy="1610.3" r="2.15"/><circle cx="461.1" cy="1651.8" r="2.15"/><circle cx="509.5" cy="1662.7" r="2.15"/><circle cx="579.1" cy="1594.5" r="2.15"/><circle cx="473.8" cy="1626.4" r="2.15"/><circle cx="536.6" cy="1591.8" r="2.15"/><circle cx="544.9" cy="1575.5" r="2.15"/><circle cx="433.5" cy="1671.6" r="2.15"/><circle cx="511" cy="1607.5" r="2.15"/><circle cx="507.1" cy="1640.1" r="2.15"/><circle cx="496.7" cy="1627.9" r="2.15"/><circle cx="533.1" cy="1604.3" r="2.15"/><circle cx="493.4" cy="1617.8" r="2.15"/><circle cx="518.8" cy="1624.1" r="2.15"/><circle cx="495" cy="1619.2" r="2.15"/><circle cx="503.1" cy="1614.8" r="2.15"/><circle cx="482.3" cy="1705.6" r="2.15"/><circle cx="580.4" cy="1583" r="2.15"/><circle cx="505.7" cy="1601.8" r="2.15"/><circle cx="471.6" cy="1617.6" r="2.15"/><circle cx="570" cy="1612" r="2.15"/><circle cx="558" cy="1570" r="2.15"/><circle cx="501.1" cy="1630.2" r="2.15"/><circle cx="486.4" cy="1610.7" r="2.15"/><circle cx="483.8" cy="1643.4" r="2.15"/><circle cx="547" cy="1663.2" r="2.15"/><circle cx="497" cy="1616.4" r="2.15"/><circle cx="484.6" cy="1615.5" r="2.15"/><circle cx="534.4" cy="1664.2" r="2.15"/><circle cx="498.8" cy="1587.8" r="2.15"/><circle cx="505.7" cy="1606.5" r="2.15"/><circle cx="569.6" cy="1602.4" r="2.15"/><circle cx="535.1" cy="1640.5" r="2.15"/><circle cx="547.4" cy="1646.1" r="2.15"/><circle cx="520.8" cy="1624.1" r="2.15"/><circle cx="548.7" cy="1609.1" r="2.15"/><circle cx="502" cy="1631.4" r="2.15"/><circle cx="538.3" cy="1617.1" r="2.15"/><circle cx="541" cy="1605" r="2.15"/><circle cx="494.2" cy="1617.7" r="2.15"/><circle cx="466.2" cy="1615.9" r="2.15"/><circle cx="524.6" cy="1620.6" r="2.15"/><circle cx="503.6" cy="1667" r="2.15"/><circle cx="526.9" cy="1608.1" r="2.15"/><circle cx="488.2" cy="1615" r="2.15"/><circle cx="524.4" cy="1591.7" r="2.15"/><circle cx="538.3" cy="1604.4" r="2.15"/><circle cx="583.3" cy="1636.8" r="2.15"/><circle cx="564.7" cy="1597.4" r="2.15"/><circle cx="520" cy="1586.9" r="2.15"/><circle cx="553.5" cy="1563.1" r="2.15"/><circle cx="487.3" cy="1624.5" r="2.15"/><circle cx="545.1" cy="1606.6" r="2.15"/><circle cx="511.9" cy="1619.7" r="2.15"/><circle cx="550.1" cy="1582.8" r="2.15"/><circle cx="518.1" cy="1606.3" r="2.15"/><circle cx="500.1" cy="1555" r="2.15"/><circle cx="484.7" cy="1618.3" r="2.15"/><circle cx="547.7" cy="1620.1" r="2.15"/><circle cx="509.3" cy="1587.5" r="2.15"/><circle cx="530.3" cy="1595.5" r="2.15"/><circle cx="522.9" cy="1635.1" r="2.15"/><circle cx="441.9" cy="1630.1" r="2.15"/><circle cx="526.8" cy="1630.4" r="2.15"/><circle cx="495.5" cy="1660.4" r="2.15"/><circle cx="520" cy="1602.8" r="2.15"/><circle cx="522.9" cy="1632.4" r="2.15"/><circle cx="449.6" cy="1626.8" r="2.15"/><circle cx="497.3" cy="1605.8" r="2.15"/></g>
<path d="M411.9 1638L622.1 1602.5" stroke="#fbb77e" stroke-width="3.4" fill="none"/>
<text x="517" y="1523.7" font-size="12.35" text-anchor="middle" fill="#111">n = 303, r = 0.23(pearson), p.value= 0</text>
<text x="517.1" y="1736.3" font-size="10.4" text-anchor="middle" fill="#222">Expression of FOXO1 (log2(TPM))</text>
<text x="387" y="1622" font-size="10.3" text-anchor="middle" fill="#222" transform="rotate(-90 387 1622)">Expression of DNMT1 (log2(TPM))</text>
<text x="432.5" y="1725" font-size="8.5" text-anchor="middle" fill="#4d4d4d">0</text>
<text x="469.9" y="1725" font-size="8.5" text-anchor="middle" fill="#4d4d4d">1</text>
<text x="507.4" y="1725" font-size="8.5" text-anchor="middle" fill="#4d4d4d">2</text>
<text x="544.8" y="1725" font-size="8.5" text-anchor="middle" fill="#4d4d4d">3</text>
<text x="582.3" y="1725" font-size="8.5" text-anchor="middle" fill="#4d4d4d">4</text>
<text x="619.7" y="1725" font-size="8.5" text-anchor="middle" fill="#4d4d4d">5</text>
<text x="396.9" y="1711" font-size="8.5" text-anchor="end" fill="#4d4d4d">2</text>
<text x="396.9" y="1663" font-size="8.5" text-anchor="end" fill="#4d4d4d">3</text>
<text x="396.9" y="1615" font-size="8.5" text-anchor="end" fill="#4d4d4d">4</text>
<text x="396.9" y="1567" font-size="8.5" text-anchor="end" fill="#4d4d4d">5</text>
</g>
<g id="panelH">
<path d="M787.9 1255H788.9V1257.6H789.9V1259.9H791.2V1262.8H792.5V1264.8H794.2V1266.5H798.4V1267.8H805V1270.4H808.3V1276H813.2V1279.3H824.7V1279.3H829.6V1287.5H841.1V1287.5H844.4V1291.7H847.7V1295.7H851.6V1298.3H852.6V1301.6H861.4V1301.6H862.4V1309.8H870.6V1309.8H872.3V1316.3H876.5V1319.6H878.8V1323.9H883.1V1327.8H883.8V1329.5H899.5V1329.5H900.2V1338.3H917.6V1338.3H918.2V1363.3H963.2V1363.3" stroke="#d55e00" stroke-width="2" fill="none" stroke-linejoin="miter"/>
<path d="M787.9 1255H788.9V1258.3H789.9V1261.5H791.2V1264.2H792.9V1266.8H794.5V1269.7H796.5V1272.7H798.4V1275.3H800.4V1278.6H802.7V1281.9H805V1285.2H806.6V1288.4H808.3V1291.7H810.6V1297H813.2V1302.2H816.5V1304.9H821.4V1316.3H824.7V1321.3H829.6V1327.8H832.9V1333.4H837.8V1338.3H847.7V1339.3H850.9V1344.2H857.5V1348.5H864.1V1352.4H873.9V1354.1H877.2V1358.3H885.4V1360.6H888.7V1363.9H900.2V1364.9H901.8V1368.8H919.2V1368.8H921.5V1377H923.1V1390.2H952.7V1390.2H954.3V1400H960.9V1401.7H961.9V1410.5H982.2V1410.5" stroke="#1aa37a" stroke-width="2" fill="none" stroke-linejoin="miter"/>
<path d="M777.4 1249V1449.2H1010.2" stroke="#000" stroke-width="1.2" fill="none"/>
<text x="772" y="1259" font-size="12" text-anchor="end" fill="#222">1.00</text>
<text x="788" y="1463.2" font-size="12" text-anchor="middle" fill="#222">0</text>
<text x="772" y="1305.3" font-size="12" text-anchor="end" fill="#222">0.75</text>
<text x="840.9" y="1463.2" font-size="12" text-anchor="middle" fill="#222">1000</text>
<text x="772" y="1351.7" font-size="12" text-anchor="end" fill="#222">0.50</text>
<text x="893.8" y="1463.2" font-size="12" text-anchor="middle" fill="#222">2000</text>
<text x="772" y="1398.1" font-size="12" text-anchor="end" fill="#222">0.25</text>
<text x="946.7" y="1463.2" font-size="12" text-anchor="middle" fill="#222">3000</text>
<text x="772" y="1444.4" font-size="12" text-anchor="end" fill="#222">0.00</text>
<text x="999.6" y="1463.2" font-size="12" text-anchor="middle" fill="#222">4000</text>
<path d="M774.2 1255h3.2M788 1449.2v3.2M774.2 1301.3h3.2M840.9 1449.2v3.2M774.2 1347.7h3.2M893.8 1449.2v3.2M774.2 1394.1h3.2M946.7 1449.2v3.2M774.2 1440.4h3.2M999.6 1449.2v3.2" stroke="#222" stroke-width="1" fill="none"/>
<text x="894" y="1479" font-size="14.3" text-anchor="middle">Time</text>
<text x="743.3" y="1347.1" font-size="14.2" text-anchor="middle" transform="rotate(-90 743.3 1347.1)">Survival probability</text>
<text x="756.4" y="1229" font-size="14.8">FOXO1</text>
<path d="M816.5 1223.8H834.8" stroke="#d55e00" stroke-width="1.9"/>
<text x="844.4" y="1229" font-size="14.9">High(114)</text>
<path d="M927.4 1223.8H945.7" stroke="#1aa37a" stroke-width="1.9"/>
<text x="955.3" y="1229" font-size="14.9">Low(254)</text>
<text x="921.5" y="1282.5" font-size="27.3">OS</text>
<text x="792.3" y="1387.9" font-size="14.1">p &lt; 0.001</text>
<text x="792.3" y="1408.5" font-size="14.1">Hazard Ratio = 0.5</text>
<text x="792.3" y="1428.9" font-size="14.1">95% CI: 0.35 − 0.71</text>
<path d="M788.6 1536.5H798.4V1536.5H805V1539.8H808.3V1543.7H813.2V1546H829.6V1546.7H830.3V1550H846V1550H847.7V1554.2H850.9V1558.2H853.6V1562.4H870.6V1562.4H872.3V1567.4H875.6V1573.9H878.8V1580.5H883.8V1582.1H884.4V1588H900.8V1588H901.5V1599.2H918.9V1599.2H919.5V1640.5H964.2V1640.5" stroke="#d55e00" stroke-width="2" fill="none" stroke-linejoin="miter"/>
<path d="M788.6 1536.5H795.2V1538.5H801.7V1540.5H803.4V1543.7H805V1547.7H806.6V1551H808.3V1554.9H809.9V1558.8H811.6V1562.4H816.5V1565.7H819.8V1572.3H824.7V1582.1H829.6V1588.7H834.5V1595.9H839.5V1600.2H844.4V1602.5H850.9V1604.1H854.2V1608.4H860.8V1611.7H864.1V1616.6H877.2V1617.2H878.8V1620.9H886.4V1621.5H887.7V1625.8H923.1V1625.8H924.1V1647.1H954.3V1647.1H955.3V1662.5H983.8V1662.5" stroke="#1aa37a" stroke-width="2" fill="none" stroke-linejoin="miter"/>
<path d="M777.4 1527.3V1731.4H1010.2" stroke="#000" stroke-width="1.2" fill="none"/>
<text x="772" y="1540.5" font-size="12" text-anchor="end" fill="#222">1.00</text>
<text x="788.6" y="1745.4" font-size="12" text-anchor="middle" fill="#222">0</text>
<text x="772" y="1587" font-size="12" text-anchor="end" fill="#222">0.75</text>
<text x="841.8" y="1745.4" font-size="12" text-anchor="middle" fill="#222">1000</text>
<text x="772" y="1633.5" font-size="12" text-anchor="end" fill="#222">0.50</text>
<text x="895" y="1745.4" font-size="12" text-anchor="middle" fill="#222">2000</text>
<text x="772" y="1680.1" font-size="12" text-anchor="end" fill="#222">0.25</text>
<text x="948.2" y="1745.4" font-size="12" text-anchor="middle" fill="#222">3000</text>
<text x="772" y="1726.6" font-size="12" text-anchor="end" fill="#222">0.00</text>
<text x="1001.4" y="1745.4" font-size="12" text-anchor="middle" fill="#222">4000</text>
<path d="M774.2 1536.5h3.2M788.6 1731.4v3.2M774.2 1583h3.2M841.8 1731.4v3.2M774.2 1629.5h3.2M895 1731.4v3.2M774.2 1676.1h3.2M948.2 1731.4v3.2M774.2 1722.6h3.2M1001.4 1731.4v3.2" stroke="#222" stroke-width="1" fill="none"/>
<text x="894" y="1761.5" font-size="14.3" text-anchor="middle">Time</text>
<text x="743.3" y="1627.3" font-size="14.2" text-anchor="middle" transform="rotate(-90 743.3 1627.3)">Survival probability</text>
<text x="756.4" y="1512.5" font-size="14.8">FOXO1</text>
<path d="M816.5 1507.3H834.8" stroke="#d55e00" stroke-width="1.9"/>
<text x="844.4" y="1512.5" font-size="14.9">High(111)</text>
<path d="M927.4 1507.3H945.7" stroke="#1aa37a" stroke-width="1.9"/>
<text x="955.3" y="1512.5" font-size="14.9">Low(249)</text>
<text x="922" y="1573.3" font-size="27.3">RFS</text>
<text x="792.3" y="1670.4" font-size="14.1">p = 0.001</text>
<text x="792.3" y="1691.1" font-size="14.1">Hazard Ratio = 0.4</text>
<text x="792.3" y="1711.8" font-size="14.1">95% CI: 0.26 − 0.64</text>
</g>
<g id="panelI">
<rect x="1127.5" y="1214.9" width="842" height="515.2" fill="#000"/>
<rect x="1264.2" y="1298.6" width="704.4" height="430.6" fill="#fff"/>
<g fill="#fff" font-size="27.6" text-anchor="middle">
<text x="1193.2" y="1265.2">HCC</text>
<text x="1334.8" y="1265.2">Status</text>
<text x="1476" y="1263">Stage</text>
<text x="1617.2" y="1265.2">M</text>
<text x="1758" y="1265.2">N</text>
<text x="1899.2" y="1265.2">T</text>
<text x="1192.5" y="1379.3">High</text><text x="1192" y="1411">FOXO1</text>
<text x="1193" y="1552.6">Low</text><text x="1192" y="1583.4">FOXO1</text>
</g>
<path d="M1334.8 1320.3A64.3 64.3 0 0 1 1398.1 1395.8L1370.5 1390.9A36.2 36.2 0 0 0 1334.8 1348.4Z" fill="#1e1e1e" stroke="#fff" stroke-width="1.6" stroke-linejoin="round"/>
<path d="M1398.1 1395.8A64.3 64.3 0 1 1 1334.8 1320.3L1334.8 1348.4A36.2 36.2 0 1 0 1370.5 1390.9Z" fill="#cccccc" stroke="#fff" stroke-width="1.6" stroke-linejoin="round"/>
<path d="M1334.8 1493.2A64.3 64.3 0 0 1 1387.5 1594.4L1364.5 1578.3A36.2 36.2 0 0 0 1334.8 1521.3Z" fill="#1e1e1e" stroke="#fff" stroke-width="1.6" stroke-linejoin="round"/>
<path d="M1387.5 1594.4A64.3 64.3 0 1 1 1334.8 1493.2L1334.8 1521.3A36.2 36.2 0 1 0 1364.5 1578.3Z" fill="#cccccc" stroke="#fff" stroke-width="1.6" stroke-linejoin="round"/>
<path d="M1476 1320.3A64.3 64.3 0 0 1 1481.6 1320.5L1479.2 1348.5A36.2 36.2 0 0 0 1476 1348.4Z" fill="#3a4fa0" stroke="#fff" stroke-width="1.6" stroke-linejoin="round"/>
<path d="M1481.6 1320.5A64.3 64.3 0 0 1 1534.3 1411.8L1508.8 1399.9A36.2 36.2 0 0 0 1479.2 1348.5Z" fill="#6370ae" stroke="#fff" stroke-width="1.6" stroke-linejoin="round"/>
<path d="M1534.3 1411.8A64.3 64.3 0 0 1 1486.1 1448.1L1481.7 1420.4A36.2 36.2 0 0 0 1508.8 1399.9Z" fill="#8a96c6" stroke="#fff" stroke-width="1.6" stroke-linejoin="round"/>
<path d="M1486.1 1448.1A64.3 64.3 0 1 1 1476 1320.3L1476 1348.4A36.2 36.2 0 1 0 1481.7 1420.4Z" fill="#b0b8d9" stroke="#fff" stroke-width="1.6" stroke-linejoin="round"/>
<path d="M1476 1493.2A64.3 64.3 0 0 1 1483.8 1493.7L1480.4 1521.6A36.2 36.2 0 0 0 1476 1521.3Z" fill="#3a4fa0" stroke="#fff" stroke-width="1.6" stroke-linejoin="round"/>
<path d="M1483.8 1493.7A64.3 64.3 0 0 1 1539 1570.3L1511.5 1564.7A36.2 36.2 0 0 0 1480.4 1521.6Z" fill="#6370ae" stroke="#fff" stroke-width="1.6" stroke-linejoin="round"/>
<path d="M1539 1570.3A64.3 64.3 0 0 1 1450.9 1616.7L1461.9 1590.8A36.2 36.2 0 0 0 1511.5 1564.7Z" fill="#8a96c6" stroke="#fff" stroke-width="1.6" stroke-linejoin="round"/>
<path d="M1450.9 1616.7A64.3 64.3 0 0 1 1476 1493.2L1476 1521.3A36.2 36.2 0 0 0 1461.9 1590.8Z" fill="#b0b8d9" stroke="#fff" stroke-width="1.6" stroke-linejoin="round"/>
<path d="M1617.2 1320.3A64.3 64.3 0 0 1 1620 1320.4L1618.8 1348.4A36.2 36.2 0 0 0 1617.2 1348.4Z" fill="#f3eeb0" stroke="#fff" stroke-width="1.6" stroke-linejoin="round"/>
<path d="M1620 1320.4A64.3 64.3 0 1 1 1617.2 1320.3L1617.2 1348.4A36.2 36.2 0 1 0 1618.8 1348.4Z" fill="#e6dc3c" stroke="#fff" stroke-width="1.6" stroke-linejoin="round"/>
<path d="M1617.2 1493.2A64.3 64.3 0 0 1 1626.1 1493.8L1622.2 1521.7A36.2 36.2 0 0 0 1617.2 1521.3Z" fill="#e8924a" stroke="#fff" stroke-width="1.6" stroke-linejoin="round"/>
<path d="M1626.1 1493.8A64.3 64.3 0 1 1 1617.2 1493.2L1617.2 1521.3A36.2 36.2 0 1 0 1622.2 1521.7Z" fill="#e6dc3c" stroke="#fff" stroke-width="1.6" stroke-linejoin="round"/>
<path d="M1758 1320.3A64.3 64.3 0 0 1 1766.9 1320.9L1763 1348.8A36.2 36.2 0 0 0 1758 1348.4Z" fill="#7fbf6a" stroke="#fff" stroke-width="1.6" stroke-linejoin="round"/>
<path d="M1766.9 1320.9A64.3 64.3 0 1 1 1758 1320.3L1758 1348.4A36.2 36.2 0 1 0 1763 1348.8Z" fill="#a9d393" stroke="#fff" stroke-width="1.6" stroke-linejoin="round"/>
<path d="M1758 1493.2A64.3 64.3 0 0 1 1760.8 1493.3L1759.6 1521.3A36.2 36.2 0 0 0 1758 1521.3Z" fill="#dcefd0" stroke="#fff" stroke-width="1.6" stroke-linejoin="round"/>
<path d="M1760.8 1493.3A64.3 64.3 0 1 1 1758 1493.2L1758 1521.3A36.2 36.2 0 1 0 1759.6 1521.3Z" fill="#a9d393" stroke="#fff" stroke-width="1.6" stroke-linejoin="round"/>
<path d="M1899.2 1320.3A64.3 64.3 0 0 1 1910.4 1321.3L1905.5 1348.9A36.2 36.2 0 0 0 1899.2 1348.4Z" fill="#8b3a8b" stroke="#fff" stroke-width="1.6" stroke-linejoin="round"/>
<path d="M1910.4 1321.3A64.3 64.3 0 0 1 1962.3 1396.9L1934.7 1391.5A36.2 36.2 0 0 0 1905.5 1348.9Z" fill="#a45ea0" stroke="#fff" stroke-width="1.6" stroke-linejoin="round"/>
<path d="M1962.3 1396.9A64.3 64.3 0 0 1 1914.8 1447L1908 1419.7A36.2 36.2 0 0 0 1934.7 1391.5Z" fill="#bc86bc" stroke="#fff" stroke-width="1.6" stroke-linejoin="round"/>
<path d="M1914.8 1447A64.3 64.3 0 1 1 1899.2 1320.3L1899.2 1348.4A36.2 36.2 0 1 0 1908 1419.7Z" fill="#d4b0d4" stroke="#fff" stroke-width="1.6" stroke-linejoin="round"/>
<path d="M1899.2 1493.2A64.3 64.3 0 0 1 1916.9 1495.7L1909.2 1522.7A36.2 36.2 0 0 0 1899.2 1521.3Z" fill="#8b3a8b" stroke="#fff" stroke-width="1.6" stroke-linejoin="round"/>
<path d="M1916.9 1495.7A64.3 64.3 0 0 1 1962.1 1570.9L1934.6 1565A36.2 36.2 0 0 0 1909.2 1522.7Z" fill="#a45ea0" stroke="#fff" stroke-width="1.6" stroke-linejoin="round"/>
<path d="M1962.1 1570.9A64.3 64.3 0 0 1 1874.1 1616.7L1885.1 1590.8A36.2 36.2 0 0 0 1934.6 1565Z" fill="#bc86bc" stroke="#fff" stroke-width="1.6" stroke-linejoin="round"/>
<path d="M1874.1 1616.7A64.3 64.3 0 0 1 1899.2 1493.2L1899.2 1521.3A36.2 36.2 0 0 0 1885.1 1590.8Z" fill="#d4b0d4" stroke="#fff" stroke-width="1.6" stroke-linejoin="round"/>
<text x="1334.8" y="1692.3" font-size="20" text-anchor="middle" fill="#111">p = 0.27</text>
<text x="1476" y="1692.3" font-size="20" text-anchor="middle" fill="#111">p = 0.03</text>
<text x="1617.2" y="1692.3" font-size="20" text-anchor="middle" fill="#111">p = 0.62</text>
<text x="1758" y="1692.3" font-size="20" text-anchor="middle" fill="#111">p = 0.37</text>
<text x="1899.2" y="1692.3" font-size="20" text-anchor="middle" fill="#111">p = 0.1</text>
<rect x="1137.5" y="1745" width="11" height="11" fill="#cccccc"/>
<text x="1150" y="1756.3" font-size="16.3" fill="#111">Alive</text>
<rect x="1193.6" y="1745" width="11" height="11" fill="#1e1e1e"/>
<text x="1206.1" y="1756.3" font-size="16.3" fill="#111">Dead</text>
<rect x="1249.7" y="1745" width="11" height="11" fill="#b0b8d9"/>
<text x="1262.2" y="1756.3" font-size="16.3" fill="#111">I</text>
<rect x="1305.8" y="1745" width="11" height="11" fill="#8a96c6"/>
<text x="1318.3" y="1756.3" font-size="16.3" fill="#111">II</text>
<rect x="1361.9" y="1745" width="11" height="11" fill="#6370ae"/>
<text x="1374.4" y="1756.3" font-size="16.3" fill="#111">III</text>
<rect x="1418" y="1745" width="11" height="11" fill="#3a4fa0"/>
<text x="1430.5" y="1756.3" font-size="16.3" fill="#111">IV</text>
<rect x="1474.1" y="1745" width="11" height="11" fill="#e6dc3c"/>
<text x="1486.6" y="1756.3" font-size="16.3" fill="#111">M0</text>
<rect x="1530.2" y="1745" width="11" height="11" fill="#e8924a"/>
<text x="1542.7" y="1756.3" font-size="16.3" fill="#111">M1</text>
<rect x="1586.3" y="1745" width="11" height="11" fill="#a9d393"/>
<text x="1598.8" y="1756.3" font-size="16.3" fill="#111">N0</text>
<rect x="1642.4" y="1745" width="11" height="11" fill="#7fbf6a"/>
<text x="1654.9" y="1756.3" font-size="16.3" fill="#111">N1</text>
<rect x="1698.5" y="1745" width="11" height="11" fill="#4ea72e"/>
<text x="1711" y="1756.3" font-size="16.3" fill="#111">T1</text>
<rect x="1754.6" y="1745" width="11" height="11" fill="#d4b0d4"/>
<text x="1767.1" y="1756.3" font-size="16.3" fill="#111">T2</text>
<rect x="1810.7" y="1745" width="11" height="11" fill="#bc86bc"/>
<text x="1823.2" y="1756.3" font-size="16.3" fill="#111">T3</text>
<rect x="1866.8" y="1745" width="11" height="11" fill="#a45ea0"/>
<text x="1879.3" y="1756.3" font-size="16.3" fill="#111">T4</text>
<path d="M1970.5 1731V1771" stroke="#d9d9d9" stroke-width="1"/>
</g>
</svg>
</body></html>
